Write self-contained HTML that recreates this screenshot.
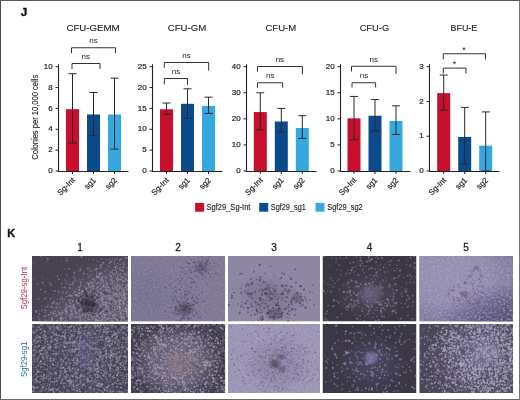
<!DOCTYPE html>
<html><head><meta charset="utf-8"><style>
html,body{margin:0;padding:0;background:#fff;}
#wrap{position:relative;width:520px;height:400px;overflow:hidden;background:#fff;}
#bord{position:absolute;left:0;top:0;width:518px;height:398px;border-style:solid;border-width:1px;border-color:#585858 #747474 #6a6a6a #4c4c4c;}
.t{position:absolute;}
svg{position:absolute;left:0;top:0;}
text{font-family:"Liberation Sans", sans-serif;}
</style></head><body><div id="wrap">
<svg width="520" height="400" viewBox="0 0 520 400" style="position:absolute;left:0;top:0"><defs><radialGradient id="g1"><stop offset="0" stop-color="#5a5568" stop-opacity="1"/><stop offset="0.6" stop-color="#5a5568" stop-opacity="0.9"/><stop offset="1" stop-color="#5a5568" stop-opacity="0"/></radialGradient><filter id="b2" x="-20%" y="-20%" width="140%" height="140%"><feGaussianBlur stdDeviation="0.4"/></filter><radialGradient id="g3"><stop offset="0" stop-color="#2c2834" stop-opacity="0.6"/><stop offset="0.5" stop-color="#2c2834" stop-opacity="0.45"/><stop offset="1" stop-color="#2c2834" stop-opacity="0"/></radialGradient><clipPath id="c4"><rect x="32" y="256" width="96" height="65.5"/></clipPath><radialGradient id="g5"><stop offset="0" stop-color="#726c8c" stop-opacity="0.5"/><stop offset="0.5" stop-color="#726c8c" stop-opacity="0.4"/><stop offset="1" stop-color="#726c8c" stop-opacity="0"/></radialGradient><filter id="f6" x="131" y="256" width="94.25" height="65.5" filterUnits="userSpaceOnUse" color-interpolation-filters="sRGB"><feTurbulence type="fractalNoise" baseFrequency="0.450" numOctaves="2" seed="5"/><feColorMatrix type="matrix" values="0 0 0 0 0.565 0 0 0 0 0.541 0 0 0 0 0.659 2.0 0 0 0 -0.9"/><feGaussianBlur stdDeviation="0.5"/></filter><radialGradient id="g7"><stop offset="0" stop-color="#3a3442" stop-opacity="0.6"/><stop offset="0.5" stop-color="#3a3442" stop-opacity="0.4"/><stop offset="1" stop-color="#3a3442" stop-opacity="0"/></radialGradient><radialGradient id="g8"><stop offset="0" stop-color="#4a4458" stop-opacity="0.35"/><stop offset="0.5" stop-color="#4a4458" stop-opacity="0.3"/><stop offset="1" stop-color="#4a4458" stop-opacity="0"/></radialGradient><clipPath id="c9"><rect x="131" y="256" width="94.25" height="65.5"/></clipPath><filter id="f10" x="228" y="256" width="92" height="65.5" filterUnits="userSpaceOnUse" color-interpolation-filters="sRGB"><feTurbulence type="fractalNoise" baseFrequency="0.560" numOctaves="2" seed="71"/><feColorMatrix type="matrix" values="0 0 0 0 0.620 0 0 0 0 0.596 0 0 0 0 0.706 1.6 0 0 0 -0.8"/><feGaussianBlur stdDeviation="0.35"/></filter><radialGradient id="g11"><stop offset="0" stop-color="#7c7490" stop-opacity="0.8"/><stop offset="0.5" stop-color="#7c7490" stop-opacity="0.6"/><stop offset="1" stop-color="#7c7490" stop-opacity="0"/></radialGradient><filter id="b12" x="-20%" y="-20%" width="140%" height="140%"><feGaussianBlur stdDeviation="0.45"/></filter><radialGradient id="g13"><stop offset="0" stop-color="#4a4254" stop-opacity="0.5"/><stop offset="0.5" stop-color="#4a4254" stop-opacity="0.4"/><stop offset="1" stop-color="#4a4254" stop-opacity="0"/></radialGradient><radialGradient id="g14"><stop offset="0" stop-color="#4a4254" stop-opacity="0.45"/><stop offset="0.5" stop-color="#4a4254" stop-opacity="0.4"/><stop offset="1" stop-color="#4a4254" stop-opacity="0"/></radialGradient><clipPath id="c15"><rect x="228" y="256" width="92" height="65.5"/></clipPath><radialGradient id="g16"><stop offset="0" stop-color="#4a4556" stop-opacity="0.95"/><stop offset="0.5" stop-color="#4a4556" stop-opacity="0.65"/><stop offset="1" stop-color="#4a4556" stop-opacity="0"/></radialGradient><radialGradient id="g17"><stop offset="0" stop-color="#6e6480" stop-opacity="0.8"/><stop offset="0.5" stop-color="#6e6480" stop-opacity="0.6"/><stop offset="1" stop-color="#6e6480" stop-opacity="0"/></radialGradient><clipPath id="c18"><rect x="322.5" y="256" width="94.0" height="65.5"/></clipPath><radialGradient id="g19"><stop offset="0" stop-color="#9892b2" stop-opacity="1"/><stop offset="0.5" stop-color="#9892b2" stop-opacity="0.85"/><stop offset="1" stop-color="#9892b2" stop-opacity="0"/></radialGradient><radialGradient id="g20"><stop offset="0" stop-color="#4e486e" stop-opacity="0.9"/><stop offset="0.45" stop-color="#4e486e" stop-opacity="0.65"/><stop offset="1" stop-color="#4e486e" stop-opacity="0"/></radialGradient><filter id="f21" x="419.25" y="256" width="93.75" height="65.5" filterUnits="userSpaceOnUse" color-interpolation-filters="sRGB"><feTurbulence type="fractalNoise" baseFrequency="0.455" numOctaves="2" seed="11"/><feColorMatrix type="matrix" values="0 0 0 0 0.667 0 0 0 0 0.643 0 0 0 0 0.776 2.2 0 0 0 -1.0"/><feGaussianBlur stdDeviation="0.5"/></filter><radialGradient id="g22"><stop offset="0" stop-color="#4a3a48" stop-opacity="0.35"/><stop offset="0.5" stop-color="#4a3a48" stop-opacity="0.3"/><stop offset="1" stop-color="#4a3a48" stop-opacity="0"/></radialGradient><radialGradient id="g23"><stop offset="0" stop-color="#4a3a48" stop-opacity="0.25"/><stop offset="0.5" stop-color="#4a3a48" stop-opacity="0.2"/><stop offset="1" stop-color="#4a3a48" stop-opacity="0"/></radialGradient><clipPath id="c24"><rect x="419.25" y="256" width="93.75" height="65.5"/></clipPath><radialGradient id="g25"><stop offset="0" stop-color="#4a4658" stop-opacity="0.8"/><stop offset="0.5" stop-color="#4a4658" stop-opacity="0.6"/><stop offset="1" stop-color="#4a4658" stop-opacity="0"/></radialGradient><filter id="f26" x="32" y="324" width="96" height="69" filterUnits="userSpaceOnUse" color-interpolation-filters="sRGB"><feTurbulence type="fractalNoise" baseFrequency="0.450" numOctaves="2" seed="13"/><feColorMatrix type="matrix" values="0 0 0 0 0.431 0 0 0 0 0.416 0 0 0 0 0.502 2.0 0 0 0 -0.8"/><feGaussianBlur stdDeviation="0.6"/></filter><radialGradient id="g27"><stop offset="0" stop-color="#6a68a4" stop-opacity="0.3"/><stop offset="0.5" stop-color="#6a68a4" stop-opacity="0.25"/><stop offset="1" stop-color="#6a68a4" stop-opacity="0"/></radialGradient><clipPath id="c28"><rect x="32" y="324" width="96" height="69"/></clipPath><radialGradient id="g29"><stop offset="0" stop-color="#6c6478" stop-opacity="0.95"/><stop offset="0.55" stop-color="#6c6478" stop-opacity="0.85"/><stop offset="1" stop-color="#6c6478" stop-opacity="0"/></radialGradient><filter id="f30" x="131" y="324" width="94.25" height="69" filterUnits="userSpaceOnUse" color-interpolation-filters="sRGB"><feTurbulence type="fractalNoise" baseFrequency="0.450" numOctaves="2" seed="15"/><feColorMatrix type="matrix" values="0 0 0 0 0.431 0 0 0 0 0.408 0 0 0 0 0.502 2.0 0 0 0 -0.8"/><feGaussianBlur stdDeviation="0.6"/></filter><radialGradient id="g31"><stop offset="0" stop-color="#86707a" stop-opacity="0.55"/><stop offset="0.5" stop-color="#86707a" stop-opacity="0.45"/><stop offset="1" stop-color="#86707a" stop-opacity="0"/></radialGradient><clipPath id="c32"><rect x="131" y="324" width="94.25" height="69"/></clipPath><filter id="f33" x="228" y="324" width="92" height="69" filterUnits="userSpaceOnUse" color-interpolation-filters="sRGB"><feTurbulence type="fractalNoise" baseFrequency="0.450" numOctaves="2" seed="27"/><feColorMatrix type="matrix" values="0 0 0 0 0.690 0 0 0 0 0.659 0 0 0 0 0.784 1.8 0 0 0 -0.8"/><feGaussianBlur stdDeviation="0.5"/></filter><radialGradient id="g34"><stop offset="0" stop-color="#8a82a2" stop-opacity="0.7"/><stop offset="0.5" stop-color="#8a82a2" stop-opacity="0.5"/><stop offset="1" stop-color="#8a82a2" stop-opacity="0"/></radialGradient><radialGradient id="g35"><stop offset="0" stop-color="#3e3440" stop-opacity="0.6"/><stop offset="0.5" stop-color="#3e3440" stop-opacity="0.45"/><stop offset="1" stop-color="#3e3440" stop-opacity="0"/></radialGradient><radialGradient id="g36"><stop offset="0" stop-color="#3e3440" stop-opacity="0.45"/><stop offset="0.5" stop-color="#3e3440" stop-opacity="0.35"/><stop offset="1" stop-color="#3e3440" stop-opacity="0"/></radialGradient><radialGradient id="g37"><stop offset="0" stop-color="#3e3440" stop-opacity="0.4"/><stop offset="0.5" stop-color="#3e3440" stop-opacity="0.3"/><stop offset="1" stop-color="#3e3440" stop-opacity="0"/></radialGradient><clipPath id="c38"><rect x="228" y="324" width="92" height="69"/></clipPath><radialGradient id="g39"><stop offset="0" stop-color="#4a4660" stop-opacity="0.95"/><stop offset="0.5" stop-color="#4a4660" stop-opacity="0.65"/><stop offset="1" stop-color="#4a4660" stop-opacity="0"/></radialGradient><radialGradient id="g40"><stop offset="0" stop-color="#8684b8" stop-opacity="0.75"/><stop offset="0.55" stop-color="#8684b8" stop-opacity="0.55"/><stop offset="1" stop-color="#8684b8" stop-opacity="0"/></radialGradient><clipPath id="c41"><rect x="322.5" y="324" width="94.0" height="69"/></clipPath><radialGradient id="g42"><stop offset="0" stop-color="#5e5874" stop-opacity="0.95"/><stop offset="0.5" stop-color="#5e5874" stop-opacity="0.8"/><stop offset="1" stop-color="#5e5874" stop-opacity="0"/></radialGradient><radialGradient id="g43"><stop offset="0" stop-color="#a09ac0" stop-opacity="0.4"/><stop offset="0.5" stop-color="#a09ac0" stop-opacity="0.3"/><stop offset="1" stop-color="#a09ac0" stop-opacity="0"/></radialGradient><clipPath id="c44"><rect x="419.25" y="324" width="93.75" height="69"/></clipPath></defs><g clip-path="url(#c4)"><rect x="32" y="256" width="96" height="65.5" fill="#474350"/><ellipse cx="104" cy="318" rx="88" ry="56" fill="url(#g1)" transform="rotate(-38 104 318)"/><g fill="none" stroke="#9c96ae" stroke-linecap="round" filter="url(#b2)"><path d="M67.1 276.3h0M87.7 296.1h0M121.7 320.9h0M64.9 315.0h0M106.3 301.2h0M117.4 320.1h0M60.0 307.2h0M69.9 317.2h0M107.6 284.4h0M113.4 304.4h0M92.2 302.6h0M96.4 316.8h0M76.9 315.6h0M102.4 286.9h0M119.1 292.4h0M126.0 298.1h0M111.6 300.8h0M70.2 318.1h0M94.7 305.6h0M103.2 316.8h0M122.1 278.6h0M89.3 295.0h0M63.5 312.8h0M106.3 318.2h0M63.4 310.2h0M116.2 305.0h0M80.4 285.2h0M117.0 293.7h0M74.0 286.3h0M93.8 303.5h0M71.8 297.0h0M45.3 309.4h0M73.7 300.5h0M53.3 294.5h0M80.8 306.6h0M114.0 313.7h0M91.7 280.9h0M71.1 295.0h0M114.6 289.4h0M108.8 292.6h0M104.4 290.0h0M89.5 318.6h0M101.3 307.2h0M101.2 274.0h0M105.2 282.1h0M85.0 311.6h0M86.0 304.3h0M101.7 272.2h0M105.7 298.5h0M122.7 298.8h0M126.7 294.2h0M110.8 310.9h0M126.3 267.6h0M108.2 309.9h0M79.1 309.8h0M96.4 319.6h0M99.3 305.8h0M72.8 290.1h0M50.1 311.0h0M100.3 307.7h0M101.4 292.2h0M112.8 310.2h0M53.2 300.7h0M75.5 306.3h0M98.5 296.5h0M101.4 308.6h0M85.9 296.5h0M101.9 262.7h0M114.5 320.2h0M38.6 319.3h0M106.4 316.5h0M109.5 303.4h0M107.1 321.5h0M105.1 315.2h0M72.9 307.6h0M114.4 293.5h0M96.1 305.2h0M114.8 296.6h0M87.9 306.1h0M101.8 290.7h0M121.1 284.4h0M64.1 306.0h0M114.7 315.3h0M100.0 289.5h0M112.5 314.7h0M87.5 303.9h0M64.8 321.1h0M53.2 311.8h0M54.1 315.8h0M124.2 261.7h0M114.8 299.2h0M61.4 274.9h0M89.5 310.1h0M61.4 315.7h0M55.0 313.8h0M109.2 292.9h0M102.2 291.2h0M115.2 302.5h0M97.8 314.9h0M93.1 316.3h0M78.1 282.2h0M77.0 265.4h0M81.1 315.9h0M113.3 313.2h0M47.4 320.8h0M96.3 265.4h0M110.5 303.9h0M114.7 274.1h0M118.1 297.1h0M125.2 309.2h0M104.0 312.3h0M105.0 298.1h0M105.9 284.2h0M101.6 301.7h0M93.5 306.7h0M79.8 318.4h0M74.9 271.1h0M126.7 280.0h0M70.2 305.6h0M117.4 296.3h0M103.6 281.8h0M84.6 304.3h0M75.1 314.3h0M88.0 292.0h0M96.5 314.4h0M121.0 292.5h0M124.3 309.2h0M109.1 297.9h0M119.4 296.5h0M91.6 306.6h0M123.2 273.6h0M94.3 306.0h0M105.2 313.9h0M88.9 276.7h0M87.0 314.2h0M62.1 311.9h0M90.8 316.1h0M40.7 256.5h0M107.2 309.6h0M88.0 302.1h0M108.5 298.7h0" stroke-width="1.17" stroke-opacity="0.38"/><path d="M111.7 299.9h0M113.9 285.0h0M90.6 312.9h0M94.0 270.6h0M55.9 307.5h0M109.4 296.2h0M61.6 283.0h0M76.7 311.0h0M108.8 308.6h0M36.6 312.6h0M109.0 263.2h0M114.7 283.6h0M122.2 301.7h0M105.7 309.4h0M107.3 305.8h0M116.7 319.0h0M109.3 292.2h0M86.2 289.6h0M81.9 265.6h0M98.0 308.8h0M101.4 297.7h0M112.9 285.8h0M78.0 313.1h0M91.3 286.4h0M86.8 287.9h0M56.7 305.0h0M46.9 261.7h0M111.3 291.5h0M50.2 314.4h0M117.4 314.3h0M64.8 286.6h0M119.2 304.7h0M119.6 268.6h0M78.4 271.2h0M115.6 315.6h0M122.7 284.4h0M97.4 303.3h0M90.1 295.6h0M85.3 321.3h0M94.4 314.9h0M113.6 310.8h0M93.0 308.4h0M74.4 316.5h0M103.8 309.0h0M91.3 320.0h0M61.2 292.5h0M108.5 287.6h0M117.4 313.7h0M113.9 294.6h0M121.7 299.3h0M70.9 313.6h0M104.9 277.9h0M71.3 311.4h0M110.0 304.0h0M101.3 300.4h0M119.5 260.1h0M48.9 317.8h0M67.3 321.2h0M58.5 292.7h0M84.6 307.9h0M46.6 315.8h0M103.4 310.6h0M116.3 286.7h0M103.2 262.3h0M119.3 309.3h0M99.0 273.3h0M76.5 310.9h0M102.6 303.7h0M106.3 285.6h0M111.5 304.2h0M58.1 315.0h0M87.1 297.7h0M105.3 320.7h0M60.6 309.8h0M116.2 314.8h0M105.0 276.9h0M79.8 293.9h0M124.4 298.1h0M43.5 283.4h0M114.6 263.4h0M41.5 257.2h0M97.4 276.6h0M67.2 284.5h0M100.1 283.4h0M72.9 288.0h0M114.4 307.8h0M107.6 297.4h0M76.2 289.1h0M73.0 277.5h0M106.1 304.3h0M70.1 306.5h0M122.4 276.3h0M95.5 302.2h0M73.8 316.9h0M118.3 313.8h0M110.3 299.2h0M74.6 284.3h0M79.6 279.7h0M103.1 293.9h0M114.8 285.6h0M100.9 266.4h0M120.9 295.6h0M60.4 312.6h0M109.0 274.4h0M39.7 320.5h0M124.6 278.4h0M126.3 306.8h0M57.8 304.7h0M79.6 314.6h0M113.8 280.4h0M124.7 266.3h0M88.0 314.4h0M82.3 301.0h0M124.1 294.9h0M55.5 311.7h0M70.8 319.5h0M85.6 308.1h0M93.5 285.4h0M105.9 286.9h0M122.7 300.4h0M74.7 313.5h0M96.5 294.9h0M84.0 308.9h0M48.0 279.0h0M115.7 300.7h0M95.7 320.5h0M108.2 284.9h0M69.4 303.3h0M74.6 279.8h0M99.2 300.9h0M105.2 298.7h0M52.6 319.7h0M57.4 303.6h0M120.3 295.0h0M112.0 315.1h0M86.1 299.2h0M96.8 302.4h0M122.5 308.7h0M72.2 315.0h0M118.8 302.7h0M76.0 313.6h0M124.8 307.6h0M60.2 315.1h0M87.5 288.4h0M92.6 299.7h0M61.7 298.2h0M45.0 286.6h0M110.3 293.1h0M119.6 317.2h0M123.5 304.2h0M82.5 301.4h0M106.3 289.4h0M119.2 294.3h0M83.5 297.4h0M79.2 310.0h0M53.5 313.5h0M109.2 289.6h0M107.6 297.5h0" stroke-width="1.17" stroke-opacity="0.53"/><path d="M67.1 291.7h0M112.9 284.0h0M126.5 287.1h0M41.6 305.6h0M103.6 286.8h0M58.8 313.1h0M81.8 307.5h0M116.7 286.5h0M114.5 273.6h0M113.9 294.9h0M81.6 291.6h0M120.6 317.5h0M81.0 256.6h0M127.9 310.8h0M127.4 308.2h0M95.0 306.7h0M87.7 313.2h0M111.5 313.4h0M122.8 293.9h0M84.5 298.7h0M96.7 312.8h0M100.2 292.7h0M69.1 287.7h0M82.4 318.1h0M111.6 298.0h0M122.2 297.8h0M61.5 321.1h0M55.3 304.0h0M73.6 301.0h0M100.2 312.6h0M105.6 287.0h0M69.8 294.3h0M62.7 302.1h0M94.8 296.4h0M92.5 302.2h0M85.2 298.7h0M112.2 298.7h0M122.2 277.9h0M92.9 309.3h0M122.7 284.9h0M80.6 317.0h0M124.4 317.7h0M70.9 299.6h0M51.5 319.0h0M98.0 311.2h0M127.0 287.2h0M126.2 312.7h0M77.7 303.3h0M95.8 293.4h0M42.5 321.4h0M117.6 268.5h0M93.6 287.9h0M99.6 274.8h0M61.4 261.5h0M89.5 270.3h0M59.6 318.1h0M73.9 309.3h0M73.7 282.1h0M115.8 316.5h0M126.7 304.3h0M69.8 299.9h0M78.2 316.7h0M91.5 277.0h0M124.8 291.3h0M127.5 268.1h0M81.9 315.9h0M84.6 302.3h0M111.3 313.5h0M94.2 296.7h0M101.8 312.9h0M127.2 306.3h0M48.9 307.1h0M65.3 317.5h0M121.3 304.7h0M62.4 287.4h0M109.3 299.0h0M118.9 279.9h0M100.7 279.7h0M71.9 295.6h0M93.3 299.0h0M89.3 312.6h0M97.3 269.1h0M119.2 285.9h0M124.7 307.9h0M126.9 289.8h0M61.4 313.9h0M115.3 302.9h0M120.2 279.4h0M80.4 284.6h0M83.2 298.7h0M94.2 313.5h0M126.7 294.6h0M84.7 307.3h0M102.8 309.5h0M116.5 278.7h0M96.4 300.9h0M71.9 316.5h0M124.6 318.0h0M112.4 286.9h0M87.3 274.3h0M105.9 311.2h0M122.9 289.1h0M77.1 300.8h0M92.4 312.8h0M98.3 320.7h0M78.4 290.0h0M65.8 318.5h0M118.2 275.7h0M117.8 263.6h0M75.0 307.2h0M106.8 259.7h0M97.2 313.9h0M119.8 307.3h0M107.6 297.2h0M120.5 273.6h0M90.8 301.7h0M123.9 313.6h0M46.2 310.7h0M120.0 300.8h0M60.3 313.5h0M45.7 320.6h0M114.8 314.9h0M116.1 288.8h0M114.4 310.4h0M75.5 317.6h0M79.0 298.4h0M107.4 319.5h0M121.6 287.8h0M103.6 308.0h0M117.6 281.1h0M105.8 319.3h0M67.6 311.0h0M117.7 276.1h0M127.1 287.7h0M107.5 291.4h0M84.6 303.7h0M106.0 321.4h0M111.0 312.9h0M106.8 318.3h0M113.1 312.5h0M63.1 291.2h0M114.6 299.4h0M106.9 282.8h0M67.0 258.1h0M99.5 317.7h0M94.8 308.3h0M125.9 289.1h0M92.2 274.6h0M114.6 299.9h0M104.9 317.2h0M70.0 308.1h0M81.6 319.8h0M69.8 314.8h0M119.5 283.9h0M127.6 314.1h0M88.3 291.3h0M108.7 309.8h0M72.3 282.4h0" stroke-width="1.17" stroke-opacity="0.68"/><path d="M91.4 291.4h0M67.7 313.5h0M103.7 286.1h0M44.6 307.3h0M105.0 304.7h0M107.3 306.9h0M119.2 321.4h0M96.2 268.4h0M80.7 297.7h0M99.4 299.6h0M87.2 310.5h0M102.9 279.6h0M116.1 266.0h0M104.0 305.1h0M121.8 284.9h0M65.9 303.3h0M118.8 290.4h0M96.9 294.9h0M122.5 288.0h0M53.7 312.1h0M106.4 274.0h0M114.6 264.4h0M57.4 299.0h0M73.5 284.2h0M80.0 307.9h0M85.3 310.0h0M110.6 281.8h0M122.2 290.1h0M107.5 289.5h0M106.5 303.8h0M99.9 299.5h0M82.8 279.2h0M110.2 313.3h0M124.9 298.6h0M119.2 294.5h0M123.1 313.5h0M66.5 312.1h0M126.9 314.8h0M93.9 288.5h0M86.7 318.2h0M124.8 277.2h0M116.2 306.3h0M106.8 312.2h0M88.6 283.5h0M80.9 305.6h0M96.7 300.6h0M81.5 310.2h0M111.1 320.6h0M118.1 297.0h0M127.2 315.1h0M33.1 279.8h0M117.8 308.1h0M76.2 313.9h0M116.5 287.5h0M127.3 316.4h0M34.0 318.1h0M117.5 297.4h0M80.0 311.0h0M101.3 298.3h0M123.6 291.1h0M88.3 310.5h0M88.8 259.7h0M104.0 313.5h0M97.5 291.8h0M103.1 313.8h0M88.0 287.3h0M98.4 316.3h0M124.9 294.3h0M85.2 297.5h0M88.0 307.8h0M79.1 307.8h0M96.5 305.1h0M54.1 275.8h0M68.1 315.9h0M125.3 299.0h0M101.5 321.4h0M67.1 280.9h0M87.1 291.5h0M86.7 310.4h0M88.4 298.6h0M93.9 301.9h0M88.1 321.5h0M61.8 315.0h0M105.6 276.0h0M90.8 298.5h0M97.2 290.2h0M121.4 311.1h0M102.1 299.9h0M46.0 297.8h0M57.7 320.3h0M122.1 281.1h0M107.3 269.6h0M99.5 301.0h0M79.7 269.9h0M45.3 319.3h0M99.6 307.0h0M114.4 300.8h0M72.2 319.9h0M52.5 312.3h0M96.0 313.1h0M51.7 290.4h0M116.2 312.8h0M127.3 297.9h0M104.5 319.8h0M91.5 308.1h0M119.0 298.9h0M122.9 257.8h0M111.5 279.2h0M97.6 320.6h0M97.2 302.0h0M102.5 313.7h0M89.5 305.3h0M110.1 317.2h0M65.2 269.2h0M115.0 310.5h0M110.1 284.1h0M116.5 294.8h0M107.9 296.1h0M42.9 277.3h0M114.4 302.4h0M115.3 300.5h0M125.9 320.6h0M115.9 311.4h0M121.4 292.1h0M53.7 309.9h0M70.6 306.8h0M91.3 311.6h0M81.9 315.7h0M101.9 283.8h0M94.7 282.4h0M105.4 296.0h0M103.2 294.5h0M86.3 282.9h0M59.7 306.6h0M74.2 295.1h0M103.3 290.7h0M106.2 302.7h0M106.4 314.5h0M61.8 317.2h0M70.5 314.7h0M76.8 293.1h0M33.4 263.0h0M103.0 310.5h0M124.0 280.9h0M98.4 292.7h0M83.0 279.6h0M89.7 284.4h0M110.1 301.9h0M81.8 291.7h0M49.4 319.5h0M86.4 282.5h0M89.3 299.4h0M73.2 293.5h0M86.4 316.0h0" stroke-width="1.50" stroke-opacity="0.38"/><path d="M74.4 281.9h0M70.2 305.7h0M80.6 281.8h0M80.6 309.8h0M50.4 312.4h0M103.5 276.1h0M95.5 290.3h0M117.1 289.5h0M76.8 320.9h0M121.5 317.7h0M125.4 258.0h0M77.8 298.6h0M122.4 303.2h0M95.3 307.5h0M122.7 267.4h0M93.7 317.2h0M110.9 280.1h0M122.6 290.7h0M90.8 282.6h0M90.1 303.4h0M105.6 277.5h0M119.0 288.9h0M86.6 297.7h0M123.8 301.6h0M79.9 305.4h0M52.3 303.8h0M120.5 274.9h0M38.9 310.4h0M117.2 281.8h0M101.7 315.9h0M91.1 271.6h0M113.0 306.4h0M125.7 284.4h0M88.8 268.3h0M120.1 267.2h0M69.5 321.5h0M72.9 306.1h0M125.1 298.8h0M76.7 307.5h0M121.1 316.2h0M120.6 305.9h0M100.5 306.6h0M117.6 266.6h0M89.6 282.2h0M112.6 315.6h0M97.9 299.5h0M74.0 276.0h0M119.6 260.0h0M106.2 309.8h0M120.3 308.9h0M100.8 297.7h0M52.3 314.0h0M121.7 288.2h0M90.0 306.7h0M121.3 270.4h0M65.7 282.8h0M124.5 311.2h0M83.8 314.8h0M116.7 271.5h0M60.9 317.5h0M96.6 271.9h0M111.6 279.9h0M118.9 296.0h0M124.8 274.8h0M106.2 309.0h0M67.2 274.5h0M102.2 264.8h0M127.6 280.9h0M122.9 303.6h0M95.3 280.2h0M84.2 305.8h0M39.1 298.7h0M88.4 292.7h0M98.2 308.4h0M101.3 258.7h0M94.2 310.8h0M109.7 279.7h0M95.8 307.4h0M102.8 299.6h0M101.7 293.2h0M122.4 304.0h0M118.4 321.0h0M85.6 313.1h0M87.7 296.0h0M105.8 287.8h0M48.0 305.1h0M98.7 291.8h0M96.1 299.1h0M74.5 317.4h0M66.3 306.9h0M97.9 310.9h0M114.8 301.4h0M62.8 298.8h0M127.8 276.7h0M106.1 302.2h0M107.4 276.8h0M56.5 308.0h0M92.1 283.2h0M112.5 321.5h0M54.4 314.7h0M126.6 306.2h0M124.4 303.8h0M69.5 284.8h0M115.9 292.5h0M112.3 258.7h0M96.7 274.0h0M112.0 297.4h0M85.3 316.6h0M107.5 305.5h0M92.1 278.9h0M37.6 284.1h0M102.3 279.0h0M54.9 313.6h0M90.5 309.7h0M99.1 305.1h0M98.7 278.2h0M37.6 299.2h0M100.0 285.8h0M115.8 301.7h0M106.1 307.6h0M96.0 318.9h0M98.0 295.5h0M35.4 310.4h0M45.3 312.5h0M119.3 308.5h0M120.7 310.2h0M77.7 315.0h0M106.6 284.9h0M78.8 293.4h0M68.8 299.7h0M117.6 300.3h0M109.8 316.0h0M85.3 286.8h0M108.1 318.9h0M94.6 297.7h0M67.6 307.1h0M116.1 269.1h0M90.0 275.3h0M116.4 296.5h0M91.6 283.3h0M102.6 281.6h0M86.1 301.6h0M119.9 274.8h0M52.8 317.2h0M115.4 274.4h0M89.8 310.4h0M108.9 308.6h0M72.1 301.3h0M102.2 282.3h0M104.4 309.4h0M43.8 316.6h0M112.2 282.9h0M80.1 320.3h0M92.5 319.4h0M83.5 299.4h0M116.6 309.1h0M98.2 286.6h0M101.4 308.3h0M121.5 321.2h0M97.7 261.4h0M114.7 306.7h0M95.6 298.7h0M127.4 308.5h0M95.8 307.5h0M90.4 315.5h0M92.6 318.3h0M123.7 303.2h0M80.5 281.4h0M124.9 304.0h0M80.2 318.3h0M79.7 290.7h0M89.0 284.3h0M95.9 299.5h0M110.7 276.8h0M121.8 298.1h0M51.5 312.1h0M84.0 301.6h0M106.1 314.5h0M67.1 313.2h0M117.6 308.7h0M61.2 319.2h0M113.2 293.1h0M94.8 292.4h0M122.8 310.8h0M77.8 317.7h0" stroke-width="1.50" stroke-opacity="0.53"/><path d="M112.8 303.7h0M80.8 270.2h0M68.4 296.0h0M126.1 316.0h0M100.0 283.2h0M107.3 284.6h0M103.3 281.0h0M97.9 317.3h0M119.3 308.0h0M123.5 301.7h0M127.8 320.8h0M120.7 293.6h0M81.1 319.8h0M115.1 293.8h0M127.8 311.6h0M73.5 305.6h0M79.6 321.0h0M100.4 294.1h0M121.0 279.4h0M109.4 310.5h0M76.8 316.6h0M76.0 300.1h0M103.6 305.1h0M74.9 308.6h0M123.6 314.8h0M102.0 287.9h0M115.1 318.2h0M110.1 276.5h0M105.8 307.0h0M112.0 278.1h0M55.5 311.0h0M120.9 321.1h0M74.9 278.1h0M79.6 289.3h0M117.6 305.9h0M111.7 261.7h0M72.4 308.6h0M90.1 292.0h0M119.1 279.0h0M72.1 312.0h0M110.5 289.6h0M119.7 306.8h0M53.0 313.6h0M122.4 271.1h0M85.0 313.6h0M121.2 299.8h0M127.9 316.9h0M98.2 282.5h0M54.0 302.1h0M40.6 289.6h0M93.9 294.8h0M88.8 283.7h0M97.6 287.0h0M124.4 281.8h0M86.2 310.2h0M51.7 320.7h0M125.3 308.2h0M93.9 301.6h0M119.7 304.2h0M116.6 272.6h0M117.1 311.6h0M86.4 290.0h0M58.7 314.2h0M84.1 300.9h0M92.2 286.4h0M94.7 301.8h0M125.8 309.9h0M125.3 287.5h0M127.1 312.7h0M57.2 307.6h0M112.7 320.4h0M54.2 301.5h0M88.9 293.4h0M76.5 280.3h0M80.2 268.3h0M97.4 283.1h0M93.1 317.1h0M80.7 294.4h0M112.2 308.4h0M44.8 310.3h0M83.3 294.4h0M105.0 271.0h0M111.8 283.8h0M107.7 295.4h0M100.1 299.0h0M121.5 318.9h0M106.0 305.1h0M126.7 311.8h0M82.7 301.0h0M96.2 284.0h0M95.1 316.3h0M85.1 317.5h0M110.1 313.9h0M72.7 300.8h0M56.6 315.1h0M127.5 305.4h0M42.1 282.2h0M45.0 315.9h0M121.3 320.3h0M87.5 318.4h0M58.6 291.2h0M88.3 277.2h0M117.7 316.1h0M125.4 296.6h0M124.3 295.3h0M101.6 273.4h0M56.6 320.8h0M95.0 301.6h0M89.0 287.0h0M115.8 304.1h0M100.4 273.0h0M112.9 298.4h0M123.6 300.2h0M118.5 279.9h0M113.2 315.5h0M106.2 306.3h0M120.3 293.4h0M112.5 306.1h0M72.6 284.2h0M100.4 283.5h0M102.5 319.8h0M101.8 277.2h0M112.3 311.5h0M65.5 313.0h0M123.8 302.0h0M108.0 308.1h0M57.6 276.2h0M119.1 302.9h0M101.9 317.3h0M91.8 315.7h0M101.3 267.1h0M83.5 306.4h0M103.6 314.2h0M105.7 315.1h0M113.1 318.4h0M107.1 283.8h0M88.3 303.7h0M93.9 286.3h0M83.9 300.7h0M39.4 314.0h0M126.2 304.4h0M117.9 274.3h0" stroke-width="1.50" stroke-opacity="0.68"/><path d="M84.7 305.2h0M88.2 305.1h0M101.3 280.5h0M107.0 300.3h0M75.1 310.5h0M115.4 270.1h0M112.6 299.6h0M99.4 292.3h0M92.7 310.7h0M80.7 319.3h0M59.7 303.5h0M80.3 310.5h0M69.7 318.5h0M100.2 295.4h0M112.8 270.0h0M62.7 318.2h0M99.5 295.5h0M96.8 316.5h0M99.3 304.0h0M108.3 306.3h0M112.8 293.7h0M81.2 315.0h0M99.7 295.7h0M87.8 282.7h0M115.8 284.4h0M76.4 317.4h0M117.4 288.0h0M76.5 300.8h0M121.9 293.8h0M90.8 300.1h0M67.4 320.9h0M88.3 304.6h0M116.7 289.6h0M105.0 286.9h0M39.7 318.8h0M123.4 318.3h0M127.8 315.4h0M92.1 313.7h0M113.0 274.4h0M105.7 307.5h0M104.4 295.3h0M106.3 298.9h0M119.3 300.6h0M110.5 300.5h0M124.9 300.1h0M65.5 309.0h0M78.9 313.5h0M115.4 277.3h0M121.6 311.2h0M121.4 300.2h0M106.4 278.3h0M113.9 281.7h0M83.5 295.8h0M64.6 309.2h0M80.6 321.1h0M118.7 295.0h0M69.2 301.5h0M70.5 310.0h0M99.1 273.8h0M95.8 269.4h0M121.9 307.7h0M70.6 284.5h0M114.2 310.1h0M107.8 290.5h0M66.0 311.6h0M112.9 297.2h0M103.9 294.9h0M114.6 306.5h0M51.4 307.1h0M93.3 314.7h0M99.6 309.2h0M100.0 268.4h0M107.8 313.1h0M64.4 299.5h0M108.5 319.0h0M58.1 311.5h0M103.6 284.0h0M97.3 315.5h0M114.4 313.6h0M90.8 291.5h0M49.6 282.7h0M62.9 293.0h0M57.8 321.5h0M71.1 318.0h0M123.5 262.9h0M102.7 319.9h0M114.5 261.3h0M104.7 321.1h0M106.1 288.7h0M70.5 316.7h0M123.4 317.1h0M110.8 261.8h0M96.8 314.8h0M80.9 320.8h0M93.3 259.5h0M96.3 306.8h0M110.3 274.8h0M62.0 297.1h0M125.7 310.8h0M119.7 301.6h0M106.0 302.1h0M108.3 266.1h0M83.3 304.8h0M109.2 312.1h0M78.1 311.1h0M91.4 289.3h0M114.8 293.9h0M78.5 311.1h0M54.0 307.8h0M61.4 283.9h0M122.7 291.1h0M80.9 282.9h0M98.6 302.3h0M105.6 280.6h0M127.3 293.5h0M87.8 287.4h0M97.1 288.6h0M60.7 319.9h0M93.1 299.3h0M64.6 280.0h0M125.2 298.6h0M69.7 302.3h0M93.1 284.4h0M114.9 259.1h0M100.4 295.0h0M80.8 286.2h0M109.4 307.1h0M72.0 306.8h0M110.4 301.9h0M75.1 291.5h0M102.9 300.3h0M71.5 308.5h0M117.1 258.7h0M119.6 307.9h0M87.4 268.5h0M113.9 288.5h0M119.9 301.2h0M97.3 321.0h0M78.8 290.2h0M66.3 315.1h0M126.1 294.3h0M109.5 291.7h0M98.9 304.0h0M124.1 319.5h0M66.1 296.8h0M95.6 297.6h0M113.8 299.7h0M104.4 285.5h0M124.9 297.4h0M92.3 309.8h0M66.3 315.6h0M117.4 281.3h0M71.0 303.6h0" stroke-width="1.83" stroke-opacity="0.38"/><path d="M119.3 291.8h0M123.1 267.5h0M111.1 276.0h0M90.8 287.7h0M102.0 295.0h0M66.7 312.0h0M85.9 288.4h0M91.7 295.1h0M123.6 317.1h0M66.3 310.6h0M66.5 293.1h0M97.7 290.2h0M113.5 318.4h0M127.1 302.1h0M47.2 306.8h0M91.5 303.6h0M70.0 315.5h0M71.7 296.2h0M125.1 280.4h0M107.5 315.3h0M127.2 301.5h0M94.6 318.6h0M122.7 297.2h0M69.1 268.7h0M38.2 316.9h0M71.2 311.6h0M112.9 316.5h0M79.5 318.3h0M93.3 288.7h0M45.3 291.8h0M101.0 305.4h0M45.1 298.7h0M113.9 317.1h0M85.1 315.1h0M59.2 312.8h0M96.2 268.7h0M111.3 320.2h0M82.6 290.8h0M60.4 299.1h0M109.9 263.1h0M79.1 292.8h0M104.6 315.0h0M75.4 295.0h0M91.7 282.7h0M96.8 308.2h0M56.8 303.1h0M123.4 306.0h0M92.2 286.0h0M79.6 309.1h0M81.4 297.2h0M88.9 311.8h0M104.0 309.3h0M103.4 263.0h0M108.7 318.0h0M42.1 310.5h0M110.1 271.9h0M116.8 319.8h0M119.1 301.4h0M77.0 297.0h0M93.0 308.5h0M108.6 298.4h0M100.5 265.0h0M71.7 310.6h0M126.1 307.8h0M101.0 293.6h0M104.2 296.1h0M63.1 318.6h0M101.7 292.9h0M112.7 295.7h0M102.7 297.1h0M119.2 292.8h0M122.0 317.9h0M88.9 317.0h0M124.0 293.7h0M106.1 321.5h0M123.9 321.3h0M117.2 296.0h0M59.0 279.2h0M79.2 315.6h0M115.4 266.9h0M127.8 272.2h0M100.4 313.6h0M123.8 289.5h0M96.4 294.5h0M112.3 281.1h0M100.4 305.9h0M124.1 293.5h0M84.6 305.8h0M79.7 316.1h0M94.5 309.8h0M73.9 306.3h0M71.1 295.9h0M65.1 287.7h0M97.2 287.5h0M103.1 299.0h0M50.5 298.5h0M118.1 306.2h0M120.5 312.6h0M127.1 285.8h0M80.6 304.0h0M106.1 282.9h0M116.8 307.2h0M124.4 311.2h0M88.8 285.9h0M117.0 294.2h0M101.6 301.4h0M115.2 287.5h0M104.7 317.5h0M89.8 300.5h0M80.8 300.0h0M85.1 320.3h0M83.0 310.0h0M112.9 301.3h0M78.0 309.5h0M125.4 311.3h0M66.4 310.5h0M109.5 300.2h0M94.5 308.6h0M119.5 297.3h0M78.4 302.0h0M117.6 277.0h0M124.8 273.9h0M111.0 318.4h0M51.9 319.3h0M113.4 274.6h0M81.9 303.4h0M99.2 318.4h0M121.2 277.1h0M94.2 314.5h0M74.5 292.0h0M107.7 287.3h0M109.8 259.8h0M90.0 311.4h0M113.4 291.5h0M89.6 319.4h0M101.4 280.6h0M70.2 288.1h0M81.4 292.5h0M122.9 316.5h0M102.5 277.3h0M122.5 277.5h0M93.8 281.6h0M69.8 295.6h0M56.0 316.5h0M98.3 320.4h0M120.2 264.3h0M124.0 289.1h0M90.1 304.3h0M109.1 298.4h0" stroke-width="1.83" stroke-opacity="0.53"/><path d="M124.7 293.1h0M89.1 319.3h0M76.6 301.9h0M105.9 296.4h0M74.2 307.6h0M121.4 295.7h0M126.4 290.3h0M123.0 295.5h0M50.9 284.5h0M120.5 300.4h0M66.4 309.0h0M115.4 303.9h0M103.5 311.0h0M104.3 314.8h0M96.6 276.5h0M72.6 314.5h0M117.0 301.7h0M115.0 314.6h0M102.3 297.0h0M83.0 314.6h0M123.6 291.5h0M105.9 290.2h0M85.2 305.4h0M105.4 304.5h0M127.0 320.8h0M109.4 295.7h0M127.8 283.9h0M108.9 290.7h0M113.1 288.3h0M47.8 258.9h0M126.8 310.0h0M119.4 304.9h0M103.1 286.0h0M120.2 315.2h0M89.3 319.5h0M102.9 317.9h0M115.8 319.1h0M119.9 308.4h0M62.5 312.4h0M105.3 304.4h0M94.0 278.9h0M120.3 286.4h0M104.4 302.5h0M52.8 302.9h0M126.3 311.3h0M126.6 257.9h0M48.9 314.9h0M124.7 294.6h0M81.2 308.4h0M74.4 273.0h0M116.2 293.5h0M127.7 280.6h0M119.7 307.0h0M67.9 306.6h0M95.3 319.2h0M90.6 300.8h0M66.7 260.5h0M124.4 293.7h0M88.4 284.8h0M101.7 315.5h0M109.9 302.6h0M61.0 319.7h0M96.9 277.4h0M100.3 289.0h0M101.7 278.7h0M110.3 299.1h0M77.2 294.8h0M103.0 302.5h0M115.0 295.5h0M65.3 320.8h0M127.0 289.0h0M83.7 273.6h0M121.1 316.6h0M119.9 288.1h0M75.0 310.6h0M110.1 312.4h0M116.9 302.2h0M75.3 312.8h0M118.2 286.1h0M95.6 320.7h0M120.4 312.7h0M110.7 296.1h0M115.4 267.3h0M127.7 309.0h0M51.6 306.6h0M99.7 313.6h0M88.5 315.0h0M97.3 299.9h0M119.2 311.1h0M101.2 319.9h0M96.9 315.7h0M78.7 295.9h0M82.7 291.2h0M65.8 304.4h0M96.1 301.9h0M122.8 310.0h0M78.8 287.2h0M123.3 297.7h0M85.9 321.0h0M120.9 259.4h0M100.3 321.0h0M76.4 295.1h0M112.0 272.3h0M89.2 306.4h0M123.8 303.2h0M122.8 270.6h0M121.4 313.6h0M51.8 318.1h0M117.2 279.0h0M99.8 273.9h0M96.8 320.0h0M85.6 295.2h0M81.9 318.4h0M119.3 299.6h0M123.8 264.5h0M89.1 315.8h0M36.2 311.5h0M81.6 256.8h0M76.4 312.2h0M71.5 313.8h0M120.1 302.8h0M91.4 317.4h0M81.2 303.7h0M122.8 280.9h0M104.9 317.5h0M99.3 276.9h0M102.4 299.2h0M61.0 317.9h0M99.2 321.4h0M125.8 299.1h0M127.2 285.7h0M117.5 320.2h0M81.7 293.6h0M90.4 307.9h0M102.2 304.5h0M65.3 311.0h0M115.6 304.4h0M69.9 306.3h0M87.2 307.9h0M117.2 290.3h0M126.2 279.2h0M88.9 306.3h0M110.5 297.8h0M102.2 303.3h0M114.9 309.4h0M108.5 287.5h0M117.6 284.6h0M109.3 314.3h0M126.5 274.7h0M120.2 269.6h0M108.0 319.3h0M107.6 303.5h0M73.7 304.7h0M54.8 291.0h0M83.0 319.7h0M98.3 276.3h0M126.7 313.7h0M78.7 303.6h0M79.5 311.6h0M101.9 312.0h0" stroke-width="1.83" stroke-opacity="0.68"/></g><ellipse cx="89" cy="305" rx="11" ry="9" fill="url(#g3)"/><g fill="none" stroke="#2a2632" stroke-linecap="round" filter="url(#b2)"><path d="M93.7 314.8h0M89.2 316.2h0M98.7 294.1h0M89.2 311.6h0M89.9 307.6h0M95.0 303.3h0M87.9 297.0h0M84.4 305.0h0M74.0 312.6h0M84.4 294.3h0M101.4 309.4h0M92.4 303.9h0M76.7 310.2h0" stroke-width="1.40" stroke-opacity="0.37"/><path d="M83.0 295.0h0M83.7 300.8h0M88.5 299.8h0M90.5 303.7h0M92.2 308.8h0M93.7 305.0h0M84.3 309.5h0M87.3 296.2h0M90.6 303.3h0M84.8 303.5h0M78.1 301.2h0" stroke-width="1.40" stroke-opacity="0.50"/><path d="M94.4 303.5h0M79.2 308.6h0M79.0 301.3h0M81.4 304.4h0M92.2 311.6h0M75.8 306.4h0M78.1 300.4h0M91.3 311.5h0M84.9 306.7h0M78.7 302.0h0M91.1 305.7h0" stroke-width="1.40" stroke-opacity="0.63"/><path d="M78.1 315.1h0M96.3 308.1h0M86.2 292.9h0M94.0 315.1h0M82.5 305.0h0M99.4 294.5h0M87.4 295.9h0M81.5 293.8h0M75.0 300.5h0M83.9 295.1h0M78.6 297.6h0M77.8 311.2h0M83.0 300.6h0M103.1 309.1h0M82.5 300.4h0M84.3 298.7h0M98.6 311.8h0M81.6 302.3h0M92.2 297.9h0" stroke-width="1.80" stroke-opacity="0.37"/><path d="M93.5 299.3h0M90.0 300.5h0M78.9 307.4h0M85.6 304.7h0M95.0 291.2h0M94.3 295.7h0M87.8 286.6h0M97.6 307.5h0M77.6 308.2h0" stroke-width="1.80" stroke-opacity="0.50"/><path d="M97.3 304.6h0M86.3 294.8h0M95.0 300.2h0M78.6 298.7h0M106.3 311.2h0M100.4 309.6h0M92.7 304.7h0M89.1 303.1h0" stroke-width="1.80" stroke-opacity="0.63"/><path d="M87.1 308.0h0M84.9 312.0h0M94.3 305.8h0M100.9 308.8h0M84.7 309.3h0M94.3 309.9h0M88.9 304.7h0M81.7 303.8h0M92.8 306.4h0M91.6 309.0h0M92.0 309.8h0M91.1 296.6h0M104.7 293.4h0M86.1 303.6h0M87.3 304.1h0M83.7 298.9h0M74.6 284.3h0M76.4 298.1h0M90.0 317.8h0" stroke-width="2.20" stroke-opacity="0.37"/><path d="M93.1 302.0h0M89.9 302.0h0M92.4 297.2h0M82.2 300.6h0M93.0 314.5h0M81.9 319.1h0M82.7 302.3h0M86.1 303.5h0M87.9 309.5h0M92.0 295.5h0M90.1 310.7h0M92.6 296.6h0M90.5 302.6h0M88.6 310.6h0M86.6 297.4h0M97.2 298.3h0" stroke-width="2.20" stroke-opacity="0.50"/><path d="M81.2 296.8h0M88.8 305.1h0M85.1 291.4h0M81.0 303.1h0M83.9 310.7h0M86.1 302.2h0M85.6 299.9h0M111.4 301.7h0M93.6 305.2h0M86.9 311.0h0M92.2 302.5h0M84.4 311.0h0M86.8 301.7h0M86.1 295.4h0" stroke-width="2.20" stroke-opacity="0.63"/></g></g><g clip-path="url(#c9)"><rect x="131" y="256" width="94.25" height="65.5" fill="#7f7896"/><ellipse cx="146" cy="296" rx="30" ry="40" fill="url(#g5)"/><g><rect x="131" y="256" width="94.25" height="65.5" filter="url(#f6)"/></g><g fill="none" stroke="#3e3848" stroke-linecap="round" filter="url(#b2)"><path d="M173.6 303.5h0M188.0 270.5h0M173.8 319.2h0M188.7 318.2h0M163.2 318.4h0M192.6 297.7h0M203.3 291.8h0M185.3 285.1h0M200.7 273.9h0M177.0 283.4h0M201.9 262.3h0M165.5 305.1h0M181.7 293.4h0M218.6 275.9h0M206.4 264.2h0M167.2 318.2h0M197.1 267.9h0M203.9 272.2h0M185.3 281.0h0M177.1 305.0h0M201.1 265.9h0M187.7 306.0h0M184.9 316.0h0M187.3 273.5h0M213.2 277.9h0M176.3 308.1h0M202.7 261.4h0M214.3 263.3h0M207.2 270.6h0M178.9 296.4h0M180.6 267.9h0M195.6 296.1h0M189.7 305.3h0M191.3 293.1h0M196.3 302.4h0M171.7 274.0h0M184.6 310.0h0M175.5 301.3h0M205.2 308.5h0M183.7 318.8h0M190.5 312.5h0M179.5 282.8h0M176.0 310.1h0M180.7 302.1h0M209.8 275.0h0M178.9 303.6h0M174.9 307.6h0M199.7 279.0h0M184.3 288.7h0" stroke-width="0.97" stroke-opacity="0.28"/><path d="M188.2 256.8h0M194.9 282.6h0M194.1 262.3h0M198.6 256.1h0M179.3 303.7h0M199.9 272.5h0M193.1 296.5h0M175.6 309.2h0M184.0 310.1h0M188.5 305.0h0M205.7 309.6h0M194.1 301.2h0M180.1 297.3h0M180.4 267.1h0M174.6 299.9h0M197.8 314.5h0M173.1 266.2h0M198.1 262.2h0M187.7 306.4h0M191.8 273.9h0M177.6 320.2h0M180.4 260.2h0M183.5 306.9h0M186.8 315.4h0M174.6 316.3h0M191.4 259.8h0M210.4 263.2h0M210.6 257.4h0M179.5 314.7h0M184.8 307.8h0M194.5 294.5h0M180.5 281.9h0M185.8 307.8h0M189.9 305.0h0M191.5 288.0h0M179.6 306.6h0M175.9 308.3h0M174.6 313.2h0M205.9 270.8h0M167.9 302.6h0M190.1 274.8h0M173.4 296.1h0M197.5 300.0h0M193.3 262.1h0" stroke-width="0.97" stroke-opacity="0.43"/><path d="M209.5 263.0h0M200.9 269.7h0M184.5 298.3h0M192.5 313.2h0M181.0 320.6h0M182.9 309.8h0M186.3 306.2h0M184.7 313.0h0M180.3 276.2h0M188.3 313.5h0M199.7 271.2h0M206.6 263.6h0M214.1 262.6h0M182.3 284.9h0M164.6 314.9h0M179.1 314.2h0M173.4 300.6h0M221.2 274.7h0M187.8 267.1h0M161.7 301.9h0M165.8 276.4h0M184.6 281.9h0M189.7 270.2h0M218.6 265.3h0M185.5 291.8h0M177.4 301.7h0M186.8 291.0h0M214.5 266.3h0M180.3 293.9h0M209.2 309.7h0M192.7 316.2h0M187.2 316.6h0M182.0 298.6h0M185.4 306.9h0M188.2 294.5h0M180.0 309.6h0M181.3 271.4h0M199.6 265.4h0M185.6 274.6h0M199.8 311.6h0M168.5 316.6h0M188.2 286.5h0M188.4 320.3h0M198.6 299.4h0M206.9 283.7h0" stroke-width="0.97" stroke-opacity="0.57"/><path d="M211.3 269.5h0M191.0 317.3h0M195.1 270.6h0M203.0 257.7h0M206.4 265.7h0M205.9 271.4h0M207.2 262.8h0M163.9 274.1h0M189.2 312.0h0M177.4 279.9h0M181.0 274.8h0M190.4 269.5h0M187.8 319.1h0M194.0 305.8h0M177.8 310.3h0M199.9 264.6h0M206.1 305.5h0M185.8 296.9h0M164.7 285.5h0M164.6 300.6h0M187.3 318.4h0M205.2 258.6h0M185.0 294.7h0M181.7 313.5h0M190.9 287.4h0M197.3 287.1h0M177.0 309.8h0M176.4 315.1h0M176.4 307.5h0M170.9 300.2h0M187.3 262.2h0M176.9 260.0h0M206.9 274.1h0M209.1 269.8h0M171.0 284.6h0M180.8 299.0h0M178.7 313.4h0M178.6 278.4h0M171.4 312.2h0M196.0 302.6h0M175.3 309.3h0M182.2 272.5h0M199.4 317.1h0M176.3 306.9h0M175.3 297.9h0M195.4 265.2h0M173.6 268.7h0M185.1 318.5h0M187.1 300.1h0M188.9 309.0h0M200.1 263.4h0M175.1 296.6h0M185.8 271.8h0M176.2 314.9h0M191.0 309.0h0M199.8 270.4h0" stroke-width="1.30" stroke-opacity="0.28"/><path d="M178.4 314.8h0M177.8 316.3h0M188.4 318.8h0M182.1 278.0h0M197.8 317.7h0M191.7 283.7h0M199.2 260.9h0M188.4 309.0h0M199.8 305.4h0M183.4 305.6h0M217.8 274.0h0M212.3 267.7h0M180.3 305.4h0M205.8 277.1h0M191.8 308.9h0M186.7 294.5h0M201.9 265.5h0M175.4 309.5h0M183.8 303.0h0M197.1 270.0h0M191.9 282.2h0M209.6 263.1h0M180.1 321.1h0M192.9 279.0h0M179.9 319.9h0M187.9 293.3h0M186.2 295.4h0M183.0 318.0h0M191.3 272.2h0M184.4 296.9h0M185.2 294.4h0M176.3 290.5h0M186.8 289.1h0M189.3 312.3h0M175.3 311.9h0M194.8 276.4h0M205.7 262.9h0M186.7 280.2h0M189.1 318.8h0M176.5 320.3h0M185.2 304.9h0M181.1 319.2h0M190.8 298.2h0M200.0 267.4h0M181.2 310.1h0M215.9 264.1h0M187.2 277.0h0M199.2 266.4h0M185.7 260.8h0M207.0 261.4h0M193.1 310.5h0M199.1 295.2h0M185.7 308.4h0M200.8 264.0h0M173.2 300.4h0M183.5 317.0h0M194.8 290.6h0" stroke-width="1.30" stroke-opacity="0.43"/><path d="M186.6 306.7h0M190.8 287.2h0M193.6 262.5h0M196.4 286.7h0M185.6 314.6h0M200.8 272.1h0M193.7 304.5h0M181.1 287.4h0M170.5 275.9h0M200.6 317.0h0M169.8 278.3h0M185.8 273.9h0M182.2 298.1h0M187.2 298.2h0M203.4 269.4h0M176.4 292.3h0M196.7 266.8h0M184.6 294.4h0M184.9 291.5h0M168.2 318.2h0M201.8 274.9h0M210.5 276.5h0M190.0 270.4h0M183.8 302.2h0M205.1 267.8h0M175.8 310.6h0M186.9 307.3h0M173.0 292.9h0M193.5 300.6h0M182.9 305.6h0M176.6 300.1h0M208.2 256.1h0M170.3 308.0h0M188.2 290.1h0M200.1 268.9h0" stroke-width="1.30" stroke-opacity="0.57"/><path d="M174.6 280.5h0M198.3 273.6h0M195.2 267.9h0M184.0 300.0h0M197.4 313.5h0M198.3 270.1h0M196.1 266.6h0M192.2 310.9h0M184.2 316.6h0M194.5 271.1h0M190.5 277.5h0M202.6 262.3h0M181.6 306.3h0M200.0 273.1h0M195.6 268.2h0M160.3 291.7h0M182.0 279.2h0M171.0 296.8h0M176.9 302.1h0M175.3 307.2h0M195.1 311.0h0M189.8 310.7h0M186.6 300.4h0M191.5 259.5h0M181.7 297.3h0M205.5 264.0h0M192.4 310.3h0M181.7 279.3h0M172.5 282.2h0M194.1 302.7h0M200.8 298.5h0M197.4 271.6h0M205.0 268.8h0M201.9 262.5h0M171.6 304.1h0M203.8 270.1h0M206.3 312.3h0M172.2 307.5h0M190.9 306.1h0M190.3 282.4h0M203.8 267.1h0" stroke-width="1.63" stroke-opacity="0.28"/><path d="M175.3 291.1h0M195.1 271.2h0M203.1 267.1h0M173.2 288.4h0M193.7 304.8h0M182.3 301.9h0M165.8 287.9h0M182.7 306.9h0M178.6 302.2h0M215.9 273.3h0M184.5 309.3h0M196.9 302.4h0M185.8 308.0h0M195.5 261.9h0M177.2 310.1h0M185.2 310.4h0M191.1 278.2h0M181.9 313.3h0M169.8 285.3h0M175.5 286.9h0M201.4 256.7h0M192.9 266.5h0M182.9 315.3h0M178.2 311.6h0M190.4 305.8h0M191.5 272.2h0M190.2 302.7h0M175.6 306.3h0M179.9 304.6h0M202.8 278.7h0M181.0 306.1h0M202.6 259.7h0M200.0 266.6h0M173.1 298.9h0M207.0 264.3h0M208.2 260.3h0M201.8 269.2h0M197.4 276.4h0M192.5 294.9h0M178.5 283.7h0M194.0 282.0h0M175.1 296.1h0M188.3 299.2h0M194.2 301.1h0M196.5 312.9h0M183.3 310.7h0M187.4 285.1h0M187.8 303.3h0M180.3 281.3h0" stroke-width="1.63" stroke-opacity="0.43"/><path d="M181.5 317.7h0M176.0 313.7h0M201.2 265.4h0M182.4 267.9h0M192.0 298.4h0M188.9 313.8h0M184.1 318.1h0M178.5 301.6h0M198.2 269.9h0M192.2 304.9h0M189.4 263.8h0M186.9 306.6h0M206.7 260.9h0M203.0 275.0h0M188.6 303.7h0M194.4 315.2h0M197.1 303.4h0M187.3 303.6h0M188.4 317.7h0M190.5 318.8h0M201.3 292.5h0M173.4 313.0h0M208.3 273.3h0M188.2 263.2h0M185.6 302.0h0M196.7 297.8h0M184.2 315.8h0M204.2 301.3h0M183.5 309.9h0M208.0 259.2h0M189.9 309.3h0M205.7 271.6h0M189.3 291.8h0M185.1 305.7h0M165.2 311.5h0M202.0 273.4h0M175.7 308.3h0M202.4 269.1h0M176.8 298.5h0M182.5 318.8h0M179.6 289.9h0M194.6 282.5h0M176.9 313.8h0M192.4 297.5h0" stroke-width="1.63" stroke-opacity="0.57"/></g><ellipse cx="185" cy="309" rx="10" ry="8" fill="url(#g7)"/><ellipse cx="202" cy="267" rx="9" ry="7" fill="url(#g8)"/></g><g clip-path="url(#c15)"><rect x="228" y="256" width="92" height="65.5" fill="#8c86a2"/><g><rect x="228" y="256" width="92" height="65.5" filter="url(#f10)"/></g><ellipse cx="268" cy="296" rx="36" ry="22" fill="url(#g11)" transform="rotate(15 268 296)"/><g fill="none" stroke="#463f52" stroke-linecap="round" filter="url(#b12)"><path d="M262.3 291.9h0M259.3 259.4h0M267.9 313.1h0M261.2 284.0h0M269.5 305.3h0M255.7 292.5h0M274.3 297.2h0M262.4 277.7h0M252.1 302.9h0M283.1 298.7h0M264.8 289.9h0M274.6 276.9h0M289.1 276.5h0M274.6 298.0h0M270.8 304.6h0M257.4 283.8h0M258.0 290.2h0M288.2 307.9h0M293.3 298.4h0M255.5 294.7h0M278.4 296.1h0M257.7 302.9h0M261.3 288.8h0M295.5 302.7h0M271.1 279.8h0M279.8 278.8h0M305.1 294.1h0M269.0 293.3h0M253.4 272.9h0M251.4 296.0h0M294.4 290.2h0M298.8 306.4h0M283.0 291.4h0M305.7 296.6h0M260.5 317.6h0" stroke-width="1.27" stroke-opacity="0.38"/><path d="M270.9 287.7h0M272.1 298.8h0M274.2 290.8h0M278.9 316.7h0M273.2 285.5h0M276.2 294.2h0M273.9 302.5h0M262.1 289.0h0M283.2 292.0h0M248.6 294.2h0M294.7 293.4h0M275.1 289.1h0M272.6 307.9h0M286.7 291.6h0M262.0 310.5h0M260.2 292.1h0M276.1 317.6h0M259.3 281.0h0M300.9 296.5h0M312.6 292.4h0M283.6 286.0h0M248.7 297.2h0M271.8 309.8h0M264.8 300.1h0" stroke-width="1.27" stroke-opacity="0.55"/><path d="M275.4 296.5h0M252.4 310.3h0M274.8 314.1h0M256.7 309.7h0M262.2 312.7h0M278.6 297.9h0M261.1 306.1h0M251.3 283.9h0M304.5 297.5h0M266.9 292.3h0M250.3 304.0h0M290.3 286.5h0M259.7 290.0h0M248.1 293.4h0M267.8 289.1h0M276.8 309.4h0M284.4 308.8h0M260.1 285.5h0M263.5 282.4h0M242.3 302.2h0M260.4 297.2h0M268.9 317.3h0M254.7 301.0h0M259.7 308.4h0M252.1 284.4h0M241.9 304.2h0M249.3 284.2h0M265.5 292.5h0M263.6 281.2h0M257.8 298.3h0M276.5 309.3h0M262.3 299.6h0M265.6 293.0h0M300.8 293.4h0M265.9 282.7h0M263.5 319.1h0M247.7 294.3h0" stroke-width="1.27" stroke-opacity="0.72"/><path d="M233.3 289.2h0M266.5 305.6h0M263.5 299.8h0M264.1 282.1h0M307.4 301.6h0M279.1 307.4h0M256.1 305.7h0M293.0 297.7h0M285.8 297.0h0M251.4 304.7h0M266.1 290.3h0M289.2 318.1h0M267.6 293.6h0M287.0 285.7h0M266.6 307.2h0M240.8 288.3h0M287.0 317.2h0M273.5 289.6h0M274.1 274.3h0M266.8 297.4h0M248.4 289.6h0M281.6 318.9h0M288.5 293.2h0M273.0 292.3h0M275.2 294.5h0M303.3 300.5h0M271.0 293.8h0M273.5 295.2h0M257.1 313.5h0M249.4 294.1h0M282.8 286.2h0M254.9 314.3h0M304.9 307.9h0M280.9 310.1h0M289.6 315.0h0M258.3 320.6h0M281.9 297.7h0" stroke-width="1.80" stroke-opacity="0.38"/><path d="M256.4 309.5h0M282.2 273.2h0M303.3 304.5h0M256.5 279.4h0M291.7 300.3h0M294.4 298.4h0M314.1 304.9h0M270.4 266.6h0M269.1 284.7h0M243.5 307.4h0M265.0 273.3h0M250.9 315.2h0M292.1 304.3h0M273.2 308.2h0M300.4 297.1h0M276.9 305.4h0M253.2 282.2h0M259.2 312.4h0M312.5 285.2h0M262.1 295.0h0M278.3 311.0h0M260.4 312.5h0M275.6 289.9h0M290.2 290.4h0M281.9 299.8h0M254.1 271.5h0M288.9 289.7h0M262.2 294.0h0M277.6 294.5h0M237.9 304.0h0M262.9 302.6h0M261.8 302.7h0M268.9 313.5h0M242.1 273.3h0M310.2 299.6h0M269.8 300.7h0M279.1 309.8h0M275.9 285.8h0" stroke-width="1.80" stroke-opacity="0.55"/><path d="M270.2 294.2h0M268.8 296.1h0M273.5 310.7h0M262.3 316.2h0M288.1 320.9h0M294.7 314.8h0M291.7 299.6h0M288.9 304.6h0M267.0 285.8h0M277.8 303.0h0M289.2 311.1h0M265.1 289.0h0M287.3 297.2h0M282.4 312.4h0M273.8 319.1h0M273.8 316.3h0M273.6 318.2h0M292.7 308.8h0M272.2 298.4h0M232.0 295.5h0M281.3 277.9h0M267.4 312.9h0M270.5 311.0h0M234.4 292.6h0M246.2 286.0h0M251.1 279.1h0M282.1 293.8h0M278.5 305.4h0M284.3 274.0h0M260.1 277.2h0" stroke-width="1.80" stroke-opacity="0.72"/><path d="M278.5 313.9h0M286.4 308.5h0M281.7 314.5h0M277.2 299.2h0M260.3 318.6h0M305.9 299.5h0M260.3 305.5h0M297.0 301.5h0M247.9 312.5h0M247.3 300.8h0M273.2 288.6h0M285.7 301.6h0M266.9 294.4h0M254.6 314.7h0M280.9 294.1h0M248.9 285.7h0M250.7 295.8h0M275.1 316.8h0M309.9 291.9h0M288.3 306.7h0M273.0 294.2h0M267.5 300.5h0M268.0 310.0h0M275.5 313.5h0M269.4 310.8h0M279.1 308.9h0" stroke-width="2.33" stroke-opacity="0.38"/><path d="M271.6 299.5h0M251.9 283.4h0M295.0 269.3h0M295.4 309.4h0M281.4 313.8h0M264.3 308.2h0M268.2 306.6h0M271.2 292.8h0M285.8 285.6h0M259.4 265.2h0M265.5 303.3h0M275.6 304.4h0M239.7 313.0h0M252.5 298.4h0M275.2 291.5h0M240.2 274.1h0M285.8 285.7h0M241.1 292.9h0M245.5 291.6h0M285.0 309.1h0M255.6 302.3h0M260.1 264.9h0M278.7 317.4h0M241.1 306.3h0M301.4 305.7h0M296.1 282.3h0M291.6 309.4h0M305.8 307.5h0M254.8 291.7h0M251.9 306.5h0M266.0 288.9h0M300.3 286.4h0M291.7 286.9h0M247.1 284.1h0M267.6 313.5h0" stroke-width="2.33" stroke-opacity="0.55"/><path d="M281.9 285.7h0M250.5 293.6h0M282.7 294.0h0M260.0 279.9h0M269.6 290.9h0M285.4 289.6h0M276.7 305.2h0M257.1 311.0h0M273.4 316.8h0M231.8 297.7h0M262.8 318.3h0M260.2 298.3h0M300.0 302.9h0M270.4 317.1h0M300.8 286.1h0M260.4 300.2h0M304.0 289.6h0M291.0 278.9h0M245.6 303.4h0M268.4 312.6h0M252.1 293.3h0M258.4 304.5h0M247.9 293.3h0M288.1 291.6h0M270.3 298.0h0M281.2 316.6h0M262.9 290.4h0M268.5 288.2h0M297.3 293.0h0M266.4 294.2h0M279.6 308.4h0M291.1 302.5h0M261.5 319.9h0M302.1 300.3h0M265.1 293.6h0M287.7 313.6h0M248.0 308.0h0M228.7 304.8h0" stroke-width="2.33" stroke-opacity="0.72"/></g><ellipse cx="275" cy="314" rx="10" ry="7" fill="url(#g13)"/><ellipse cx="297" cy="298" rx="7" ry="6" fill="url(#g14)"/></g><g clip-path="url(#c18)"><rect x="322.5" y="256" width="94.0" height="65.5" fill="#3b3743"/><ellipse cx="370.5" cy="294" rx="36" ry="28" fill="url(#g16)"/><g fill="none" stroke="#aaa4bc" stroke-linecap="round" filter="url(#b12)"><path d="M350.6 279.7h0M373.7 276.5h0M381.4 288.7h0M343.8 259.5h0M380.7 284.1h0M346.4 274.2h0M337.8 269.2h0M368.7 317.3h0M400.2 270.7h0M395.1 309.7h0M347.7 309.2h0M344.2 284.1h0M405.4 281.7h0M377.6 268.1h0M378.3 300.5h0M401.5 287.2h0M413.2 262.8h0M375.7 269.6h0M381.3 281.5h0M333.8 305.4h0M364.5 293.5h0M366.7 305.7h0M383.7 281.2h0M389.6 285.0h0M356.6 265.4h0M362.6 284.8h0M385.9 272.0h0M343.3 285.9h0M415.0 276.4h0M401.1 307.3h0M374.9 281.1h0M346.9 286.0h0M402.9 307.8h0M377.4 270.9h0M375.1 295.7h0M369.4 275.3h0M353.4 273.0h0M401.2 294.9h0M343.3 297.9h0M380.6 304.3h0M375.3 298.9h0M387.9 268.1h0M371.6 275.1h0M400.2 292.6h0M363.5 308.3h0M400.0 275.5h0M345.5 276.0h0M363.9 313.0h0M368.7 288.7h0M396.1 292.9h0M373.9 278.6h0M363.4 271.6h0M398.3 319.3h0M415.3 277.8h0M405.8 289.3h0M341.6 301.8h0M336.6 270.3h0" stroke-width="1.40" stroke-opacity="0.23"/><path d="M351.6 309.6h0M355.5 314.5h0M374.1 288.6h0M332.7 280.8h0M360.2 319.8h0M341.3 274.7h0M374.9 257.8h0M377.4 310.2h0M375.4 279.4h0M381.1 308.4h0M383.3 301.2h0M360.4 291.6h0M369.9 296.0h0M358.6 297.7h0M325.0 293.0h0M357.2 261.8h0M330.0 265.9h0M390.9 286.0h0M378.2 277.1h0M381.6 301.2h0M366.7 295.4h0M411.0 279.2h0M385.9 278.1h0M386.6 281.3h0M389.0 284.1h0M416.1 318.3h0M376.8 307.7h0M358.7 292.7h0M353.2 291.6h0M380.9 268.9h0M368.1 288.2h0M347.3 273.3h0M358.7 306.7h0M350.9 270.8h0M349.3 304.5h0M340.4 275.1h0M381.0 313.5h0M362.0 308.0h0M338.9 279.0h0" stroke-width="1.40" stroke-opacity="0.34"/><path d="M376.9 256.6h0M358.2 296.1h0M331.6 258.2h0M371.3 278.9h0M402.4 296.5h0M368.6 258.5h0M408.1 296.2h0M412.8 295.2h0M390.3 296.0h0M366.3 266.2h0M377.1 272.5h0M384.1 305.6h0M392.4 289.0h0M350.7 303.7h0M364.4 304.1h0M380.2 285.8h0M381.2 257.4h0M406.6 283.8h0M325.4 313.7h0M340.8 270.4h0M348.7 307.2h0M392.8 306.0h0M375.5 309.9h0M375.3 299.7h0M345.9 308.2h0M370.2 305.0h0M393.1 290.9h0M327.7 291.5h0M411.6 276.6h0M370.3 309.1h0M397.0 268.4h0M330.0 284.7h0M400.9 303.4h0M343.9 291.8h0M349.1 307.1h0M394.8 305.9h0M394.0 298.0h0M372.7 281.5h0" stroke-width="1.40" stroke-opacity="0.45"/><path d="M381.8 307.6h0M365.1 288.0h0M383.6 294.0h0M379.9 283.1h0M392.3 313.5h0M359.8 259.9h0M339.4 289.3h0M327.2 283.6h0M342.9 283.6h0M385.2 264.1h0M410.6 258.0h0M369.0 313.1h0M406.8 289.2h0M332.2 306.4h0M415.5 269.2h0M364.9 316.2h0M351.6 300.4h0M364.1 265.9h0M351.3 279.9h0M407.6 260.4h0M380.7 311.5h0M337.8 317.2h0M364.1 272.9h0M368.9 288.3h0M351.4 306.9h0M336.4 257.9h0M396.7 302.6h0M344.0 303.9h0M369.5 298.6h0M378.0 265.8h0M322.6 280.5h0M367.1 300.8h0M366.9 313.9h0M379.7 274.2h0M359.9 263.8h0M416.2 272.1h0M347.9 269.9h0M362.4 302.2h0M403.4 277.7h0M372.5 301.8h0M407.3 291.7h0M336.4 262.7h0M404.7 289.0h0M326.9 313.3h0M388.2 271.5h0M396.7 265.2h0" stroke-width="1.80" stroke-opacity="0.23"/><path d="M333.1 286.7h0M382.9 280.2h0M349.4 287.2h0M333.6 305.8h0M385.0 309.7h0M327.4 320.1h0M405.1 303.7h0M340.1 258.0h0M356.4 257.1h0M388.5 261.9h0M368.9 291.1h0M334.0 306.1h0M395.0 310.8h0M365.6 284.7h0M406.6 301.1h0M347.3 309.8h0M402.0 293.3h0M410.1 282.3h0M384.4 272.0h0M407.2 307.0h0M412.4 296.1h0M353.6 300.8h0M389.2 302.1h0M328.2 305.4h0M371.7 300.1h0M354.9 267.2h0M372.0 305.0h0M372.6 317.3h0M375.1 300.3h0M365.8 288.5h0M374.5 275.5h0M336.2 300.6h0M396.0 303.5h0M354.4 303.6h0M375.4 301.2h0M357.1 285.9h0M392.3 311.2h0M377.2 316.4h0M395.1 284.0h0M413.5 282.7h0M325.8 318.3h0" stroke-width="1.80" stroke-opacity="0.34"/><path d="M372.7 282.6h0M387.8 299.5h0M383.4 308.2h0M362.1 296.9h0M331.4 291.7h0M379.7 287.1h0M350.4 290.7h0M378.0 258.4h0M376.6 302.4h0M327.1 311.2h0M367.7 305.8h0M368.2 293.4h0M322.8 281.6h0M394.5 270.7h0M407.5 275.8h0M384.1 316.6h0M383.7 267.4h0M350.1 263.1h0M394.9 278.0h0M362.1 310.9h0M357.5 295.1h0M386.6 306.4h0M362.5 262.9h0M410.0 275.1h0M360.6 283.9h0M378.1 302.2h0M360.1 315.6h0M385.2 303.2h0M390.8 260.8h0M369.2 283.6h0M355.5 305.2h0M393.4 278.6h0M407.6 294.8h0M389.2 286.8h0M357.3 294.2h0M347.6 283.7h0M406.6 299.4h0M396.0 302.9h0M366.3 291.9h0M365.4 297.3h0M360.5 257.6h0M355.9 295.3h0M348.8 282.0h0M381.1 293.2h0M366.6 304.7h0M354.0 293.2h0M367.8 296.4h0M342.0 313.8h0M414.9 263.0h0" stroke-width="1.80" stroke-opacity="0.45"/><path d="M408.6 306.2h0M380.5 264.3h0M365.3 283.6h0M367.4 301.3h0M345.6 273.5h0M389.5 264.8h0M352.9 308.2h0M337.4 280.5h0M376.7 272.1h0M393.9 302.8h0M379.9 269.7h0M374.5 302.8h0M357.7 286.0h0M357.2 287.3h0M376.0 273.2h0M347.4 297.2h0M376.5 288.8h0M387.8 303.8h0M380.7 312.2h0M335.0 283.5h0M370.0 302.6h0M336.4 259.7h0M349.0 303.9h0M355.1 287.1h0M375.2 268.8h0M373.5 313.2h0M367.9 314.0h0M363.5 300.3h0M379.8 302.5h0M387.0 299.0h0M334.2 300.8h0M343.3 291.7h0M399.1 275.8h0M412.4 305.9h0M406.7 264.7h0M404.7 291.0h0M397.8 277.6h0M337.1 317.6h0M389.2 285.0h0M354.6 271.7h0M360.4 293.6h0" stroke-width="2.20" stroke-opacity="0.23"/><path d="M350.8 295.5h0M369.2 283.2h0M406.0 291.7h0M347.2 292.1h0M355.3 281.3h0M371.1 294.8h0M414.2 256.4h0M352.0 305.3h0M393.9 293.6h0M351.8 281.1h0M387.6 299.9h0M401.0 318.7h0M376.6 275.4h0M371.1 259.5h0M395.7 284.5h0M382.3 258.4h0M367.7 302.2h0M339.1 265.0h0M353.5 262.3h0M362.7 269.7h0M382.1 316.2h0M330.8 278.4h0M390.4 306.1h0M353.9 306.4h0M345.2 299.7h0M408.0 315.5h0M371.4 285.7h0M393.3 296.3h0M379.6 289.0h0M346.4 257.7h0M344.2 291.9h0M414.5 267.6h0M369.2 268.9h0M410.4 265.7h0M413.3 301.7h0M357.2 300.0h0M348.3 305.8h0M387.5 305.2h0M354.8 301.5h0M324.6 319.8h0M366.9 290.8h0M350.0 273.3h0M376.1 262.2h0M358.9 286.5h0M349.9 292.8h0M323.8 256.5h0M352.2 267.8h0M376.6 287.0h0M410.7 257.3h0M392.7 299.8h0M412.6 319.1h0" stroke-width="2.20" stroke-opacity="0.34"/><path d="M381.1 304.6h0M371.8 306.8h0M368.9 310.9h0M360.5 265.6h0M396.0 312.8h0M323.7 290.9h0M398.8 260.5h0M333.6 299.8h0M338.6 302.5h0M365.8 284.4h0M357.7 300.8h0M358.4 275.0h0M366.9 261.6h0M381.1 310.7h0M371.9 259.0h0M368.7 256.7h0M357.1 318.7h0M375.7 320.9h0M371.6 267.9h0M368.7 307.3h0M346.5 306.6h0M351.4 299.5h0M409.3 298.6h0M369.5 260.9h0M366.2 277.3h0M356.4 282.7h0M364.3 321.0h0M360.7 260.7h0M372.3 292.3h0M382.3 287.4h0M349.5 291.3h0M351.7 270.1h0M400.1 270.6h0M393.1 310.8h0M396.6 290.2h0M379.4 304.4h0M378.6 320.1h0M358.4 303.0h0" stroke-width="2.20" stroke-opacity="0.45"/></g><ellipse cx="370.5" cy="294" rx="14" ry="12" fill="url(#g17)"/></g><g clip-path="url(#c24)"><rect x="419.25" y="256" width="93.75" height="65.5" fill="#7e789c"/><ellipse cx="451.25" cy="278" rx="70" ry="46" fill="url(#g19)"/><ellipse cx="515.25" cy="326" rx="80" ry="44" fill="url(#g20)"/><g><rect x="419.25" y="256" width="93.75" height="65.5" filter="url(#f21)"/></g><g fill="#5e4656" filter="url(#b2)"><circle cx="446.4" cy="295.8" r="0.68" fill-opacity="0.41"/><circle cx="447.1" cy="293.0" r="0.51" fill-opacity="0.49"/><circle cx="448.5" cy="293.7" r="1.00" fill-opacity="0.36"/><circle cx="450.6" cy="290.6" r="0.82" fill-opacity="0.25"/><circle cx="449.1" cy="289.2" r="0.76" fill-opacity="0.46"/><circle cx="451.8" cy="290.2" r="0.88" fill-opacity="0.41"/><circle cx="453.1" cy="290.3" r="0.93" fill-opacity="0.37"/><circle cx="454.2" cy="286.7" r="0.86" fill-opacity="0.52"/><circle cx="454.3" cy="290.5" r="0.72" fill-opacity="0.53"/><circle cx="458.2" cy="288.1" r="0.57" fill-opacity="0.28"/><circle cx="460.7" cy="287.7" r="0.81" fill-opacity="0.31"/><circle cx="458.9" cy="287.1" r="0.68" fill-opacity="0.40"/><circle cx="458.6" cy="284.8" r="0.84" fill-opacity="0.53"/><circle cx="464.9" cy="282.1" r="0.84" fill-opacity="0.26"/><circle cx="465.6" cy="281.9" r="0.95" fill-opacity="0.40"/><circle cx="464.0" cy="282.9" r="0.92" fill-opacity="0.40"/><circle cx="465.1" cy="283.5" r="0.93" fill-opacity="0.55"/><circle cx="468.1" cy="283.0" r="0.71" fill-opacity="0.25"/><circle cx="465.9" cy="282.6" r="0.94" fill-opacity="0.22"/><circle cx="466.9" cy="278.7" r="0.86" fill-opacity="0.32"/><circle cx="470.8" cy="275.0" r="0.75" fill-opacity="0.55"/><circle cx="468.4" cy="276.9" r="0.80" fill-opacity="0.21"/><circle cx="469.7" cy="276.4" r="0.81" fill-opacity="0.25"/><circle cx="472.8" cy="274.7" r="0.66" fill-opacity="0.54"/><circle cx="472.0" cy="272.2" r="0.73" fill-opacity="0.38"/><circle cx="470.6" cy="270.5" r="0.78" fill-opacity="0.42"/><circle cx="474.1" cy="270.4" r="0.72" fill-opacity="0.45"/><circle cx="473.5" cy="271.2" r="0.99" fill-opacity="0.38"/><circle cx="474.0" cy="268.9" r="0.71" fill-opacity="0.40"/><circle cx="477.4" cy="268.7" r="0.82" fill-opacity="0.22"/><circle cx="475.7" cy="266.9" r="0.84" fill-opacity="0.32"/><circle cx="477.4" cy="265.3" r="0.51" fill-opacity="0.22"/><circle cx="477.6" cy="263.8" r="0.63" fill-opacity="0.36"/><circle cx="478.6" cy="267.7" r="0.68" fill-opacity="0.31"/><circle cx="478.6" cy="271.0" r="0.65" fill-opacity="0.33"/><circle cx="480.3" cy="270.7" r="0.78" fill-opacity="0.46"/><circle cx="480.2" cy="273.3" r="0.90" fill-opacity="0.28"/><circle cx="481.5" cy="275.0" r="0.85" fill-opacity="0.24"/><circle cx="480.7" cy="276.1" r="0.92" fill-opacity="0.35"/><circle cx="481.5" cy="275.8" r="0.67" fill-opacity="0.43"/><circle cx="481.8" cy="276.8" r="0.61" fill-opacity="0.24"/><circle cx="479.5" cy="279.1" r="0.90" fill-opacity="0.49"/><circle cx="480.6" cy="281.7" r="0.90" fill-opacity="0.42"/><circle cx="480.3" cy="280.9" r="0.56" fill-opacity="0.30"/><circle cx="479.8" cy="282.5" r="0.67" fill-opacity="0.35"/><circle cx="478.0" cy="285.7" r="0.96" fill-opacity="0.25"/><circle cx="482.9" cy="286.5" r="0.94" fill-opacity="0.55"/><circle cx="476.7" cy="289.2" r="0.96" fill-opacity="0.28"/><circle cx="480.0" cy="286.6" r="0.83" fill-opacity="0.38"/><circle cx="480.1" cy="292.0" r="0.61" fill-opacity="0.22"/><circle cx="479.7" cy="291.5" r="0.91" fill-opacity="0.22"/><circle cx="482.7" cy="292.3" r="0.96" fill-opacity="0.51"/><circle cx="482.7" cy="293.9" r="0.51" fill-opacity="0.46"/><circle cx="481.1" cy="297.4" r="0.83" fill-opacity="0.38"/><circle cx="477.1" cy="299.4" r="0.81" fill-opacity="0.32"/><circle cx="479.2" cy="301.8" r="0.74" fill-opacity="0.47"/><circle cx="478.0" cy="301.1" r="0.77" fill-opacity="0.49"/><circle cx="479.1" cy="303.8" r="0.96" fill-opacity="0.48"/><circle cx="477.3" cy="302.8" r="0.81" fill-opacity="0.50"/><circle cx="477.0" cy="303.2" r="0.63" fill-opacity="0.38"/><circle cx="473.2" cy="303.4" r="0.89" fill-opacity="0.20"/><circle cx="473.9" cy="302.7" r="0.56" fill-opacity="0.22"/><circle cx="474.6" cy="301.9" r="0.54" fill-opacity="0.38"/><circle cx="470.1" cy="303.3" r="0.68" fill-opacity="0.43"/><circle cx="468.1" cy="301.3" r="0.60" fill-opacity="0.32"/><circle cx="469.3" cy="302.5" r="0.86" fill-opacity="0.33"/><circle cx="467.6" cy="300.8" r="0.69" fill-opacity="0.41"/><circle cx="465.9" cy="298.3" r="0.90" fill-opacity="0.42"/><circle cx="463.2" cy="299.4" r="0.75" fill-opacity="0.45"/><circle cx="461.4" cy="299.0" r="0.73" fill-opacity="0.29"/><circle cx="459.8" cy="297.9" r="0.54" fill-opacity="0.35"/><circle cx="458.0" cy="300.0" r="0.97" fill-opacity="0.33"/><circle cx="461.2" cy="297.5" r="0.63" fill-opacity="0.36"/><circle cx="459.8" cy="301.1" r="0.83" fill-opacity="0.51"/><circle cx="457.1" cy="297.7" r="0.87" fill-opacity="0.40"/><circle cx="456.7" cy="301.1" r="0.50" fill-opacity="0.25"/><circle cx="454.2" cy="298.8" r="0.55" fill-opacity="0.23"/><circle cx="453.6" cy="297.9" r="0.51" fill-opacity="0.49"/><circle cx="453.8" cy="299.6" r="0.84" fill-opacity="0.49"/><circle cx="452.5" cy="296.5" r="0.90" fill-opacity="0.21"/><circle cx="449.8" cy="294.6" r="0.86" fill-opacity="0.24"/><circle cx="448.5" cy="292.2" r="0.53" fill-opacity="0.31"/><circle cx="445.0" cy="293.7" r="0.62" fill-opacity="0.26"/></g><g fill="#5e4656" filter="url(#b2)"><circle cx="459.3" cy="292.6" r="0.70" fill-opacity="0.25"/><circle cx="461.6" cy="293.1" r="0.96" fill-opacity="0.48"/><circle cx="461.7" cy="292.4" r="0.77" fill-opacity="0.30"/><circle cx="463.1" cy="294.3" r="0.61" fill-opacity="0.52"/><circle cx="465.1" cy="292.5" r="0.90" fill-opacity="0.27"/><circle cx="464.6" cy="296.6" r="0.87" fill-opacity="0.50"/><circle cx="466.6" cy="295.9" r="0.80" fill-opacity="0.44"/><circle cx="466.5" cy="297.5" r="0.74" fill-opacity="0.23"/><circle cx="470.5" cy="297.8" r="0.77" fill-opacity="0.31"/></g><g fill="#5e4656" filter="url(#b2)"><circle cx="469.8" cy="276.6" r="0.90" fill-opacity="0.53"/><circle cx="471.4" cy="276.7" r="0.51" fill-opacity="0.36"/><circle cx="473.4" cy="280.3" r="0.95" fill-opacity="0.24"/><circle cx="471.2" cy="282.5" r="0.77" fill-opacity="0.40"/><circle cx="473.2" cy="283.8" r="0.64" fill-opacity="0.52"/><circle cx="472.7" cy="284.4" r="0.90" fill-opacity="0.25"/><circle cx="472.5" cy="286.2" r="0.50" fill-opacity="0.50"/><circle cx="473.5" cy="288.8" r="0.99" fill-opacity="0.51"/><circle cx="472.8" cy="292.3" r="0.77" fill-opacity="0.44"/><circle cx="474.7" cy="293.4" r="0.85" fill-opacity="0.54"/><circle cx="475.0" cy="291.4" r="0.68" fill-opacity="0.26"/><circle cx="474.9" cy="293.7" r="0.65" fill-opacity="0.41"/><circle cx="476.7" cy="294.7" r="0.67" fill-opacity="0.31"/></g><ellipse cx="464.25" cy="294" rx="6" ry="4" fill="url(#g22)"/><ellipse cx="476.25" cy="268" rx="4" ry="3" fill="url(#g23)"/></g><g clip-path="url(#c28)"><rect x="32" y="324" width="96" height="69" fill="#444052"/><ellipse cx="87" cy="359" rx="50" ry="40" fill="url(#g25)"/><g><rect x="32" y="324" width="96" height="69" filter="url(#f26)"/></g><g fill="none" stroke="#a29eb2" stroke-linecap="round" filter="url(#b2)"><path d="M102.1 337.4h0M90.8 367.9h0M33.1 349.9h0M99.0 349.4h0M90.1 382.4h0M63.1 391.8h0M79.2 392.9h0M64.3 358.5h0M70.8 359.5h0M115.4 327.1h0M111.6 392.7h0M98.3 351.1h0M72.7 345.9h0M101.3 351.1h0M103.3 339.7h0M86.8 392.7h0M126.5 359.3h0M80.3 331.3h0M105.4 366.8h0M91.1 390.5h0M101.1 381.8h0M94.9 368.1h0M123.1 378.7h0M47.8 358.4h0M98.7 335.2h0M96.9 325.1h0M106.4 332.1h0M102.0 378.5h0M74.8 388.7h0M70.6 345.6h0M76.6 378.5h0M94.8 359.1h0M97.3 366.5h0M126.1 361.3h0M69.6 340.2h0M116.5 332.9h0M126.2 376.7h0M70.1 382.0h0M105.5 347.1h0M97.9 359.2h0M84.8 331.9h0M51.7 358.5h0M44.1 352.8h0M80.4 385.8h0M124.7 342.6h0M124.0 328.0h0M124.5 367.5h0M102.8 379.6h0M86.6 325.5h0M101.4 352.5h0M49.9 337.8h0M82.1 373.1h0M65.0 383.1h0M125.7 350.8h0M93.4 328.4h0M86.3 365.3h0M87.0 335.0h0M84.3 368.0h0M60.7 391.7h0M121.8 384.5h0M47.6 333.5h0M79.3 378.0h0M51.9 325.7h0M69.2 377.9h0M96.9 363.8h0M102.1 342.5h0M87.4 366.3h0M67.6 375.9h0M122.3 345.0h0M50.3 382.7h0M45.5 390.5h0M89.5 381.5h0M108.5 375.8h0M34.7 374.0h0M76.3 368.5h0M40.2 346.2h0M73.2 357.9h0M53.1 347.6h0M89.9 326.6h0M79.6 349.4h0M85.4 362.2h0M60.0 353.7h0M112.9 352.9h0M104.7 325.6h0M73.2 354.8h0M80.2 387.7h0M96.0 382.7h0M52.1 363.2h0M34.7 361.2h0M83.2 363.8h0M71.1 338.3h0M126.4 355.0h0M77.1 383.4h0M113.5 380.5h0M78.3 342.1h0M36.8 372.7h0M72.2 360.4h0M101.9 357.5h0M47.9 327.4h0M128.0 368.2h0M47.6 349.3h0M60.1 371.1h0M87.7 381.1h0M75.6 390.1h0M120.8 365.1h0M67.3 370.4h0M111.2 351.3h0M103.1 387.4h0M120.1 325.8h0M104.0 384.9h0M46.9 324.7h0M42.2 358.3h0M84.2 327.9h0M75.6 392.5h0M90.8 370.1h0M46.2 364.5h0M59.5 334.6h0M96.2 371.2h0M127.6 383.2h0M85.4 387.9h0M88.2 359.4h0M122.9 332.3h0M126.6 361.6h0M41.1 384.6h0M99.5 381.8h0M93.2 326.7h0M122.6 342.7h0M119.7 353.7h0M70.0 327.2h0M62.4 338.4h0M33.6 377.3h0M65.9 384.5h0M36.2 383.4h0M49.7 386.7h0M107.7 337.7h0M95.5 369.7h0M73.6 351.8h0M48.9 336.9h0M60.2 391.2h0M87.7 350.8h0M63.7 352.5h0M117.8 331.2h0M95.4 340.4h0M94.1 363.7h0M59.9 387.7h0M108.6 330.7h0M63.6 361.9h0M96.9 380.6h0M102.7 336.2h0M56.1 327.7h0M54.3 330.2h0M108.3 342.0h0M77.1 324.9h0M58.7 369.9h0M124.0 328.7h0M32.3 380.1h0M93.3 365.0h0M122.3 326.2h0M96.4 341.2h0M127.7 328.7h0M98.5 340.0h0M74.9 324.8h0M90.2 326.6h0M75.9 376.3h0M77.5 364.4h0M94.0 367.4h0M114.5 342.8h0M83.1 330.8h0M42.3 372.1h0M50.5 348.6h0M39.9 352.1h0M105.7 376.7h0M121.0 347.2h0M97.9 385.8h0" stroke-width="1.18" stroke-opacity="0.38"/><path d="M77.7 358.4h0M50.6 380.6h0M87.7 335.5h0M110.5 350.5h0M49.4 326.3h0M96.6 359.8h0M88.2 384.1h0M113.4 348.0h0M116.7 335.4h0M47.4 356.3h0M97.0 377.3h0M85.6 330.0h0M100.3 338.5h0M37.0 342.8h0M49.0 355.6h0M105.2 365.2h0M72.4 349.9h0M73.2 380.0h0M122.0 327.2h0M105.8 374.5h0M115.9 391.3h0M97.3 339.0h0M123.1 382.7h0M123.9 350.1h0M104.8 343.7h0M114.3 341.5h0M93.9 331.0h0M64.9 354.9h0M97.5 324.4h0M47.5 385.3h0M100.9 360.4h0M115.1 343.5h0M103.0 375.1h0M90.9 326.8h0M68.7 363.1h0M80.7 360.6h0M118.9 357.7h0M86.8 352.7h0M76.1 357.7h0M63.2 345.5h0M121.8 344.3h0M65.1 368.6h0M70.8 349.8h0M68.5 381.1h0M110.6 384.5h0M36.2 350.0h0M40.6 341.7h0M56.4 378.4h0M66.6 371.7h0M102.4 340.1h0M114.5 382.9h0M98.8 337.4h0M64.7 386.8h0M62.5 379.3h0M116.3 374.0h0M61.8 363.0h0M64.3 339.7h0M108.0 358.0h0M92.4 346.9h0M110.5 371.1h0M113.3 354.7h0M38.1 371.6h0M77.3 370.8h0M35.5 336.8h0M80.2 379.8h0M60.9 342.4h0M96.9 388.9h0M126.0 357.8h0M42.4 388.0h0M57.4 363.2h0M76.5 347.8h0M74.4 335.4h0M99.6 371.3h0M83.2 385.3h0M84.5 349.4h0M82.5 384.8h0M116.5 383.1h0M117.1 352.4h0M49.0 375.9h0M95.3 391.9h0M101.0 351.9h0M37.1 342.3h0M43.1 366.7h0M105.2 344.9h0M78.6 378.0h0M108.5 354.4h0M105.9 357.6h0M94.7 352.8h0M76.4 367.1h0M84.4 374.5h0M114.5 347.0h0M35.4 367.6h0M92.1 389.1h0M91.8 379.9h0M124.1 348.2h0M121.0 327.7h0M45.3 357.0h0M73.7 379.6h0M124.1 324.9h0M91.4 330.3h0M39.3 382.3h0M56.4 381.3h0M119.6 343.8h0M40.3 324.2h0M118.3 339.9h0M53.6 365.4h0M88.4 353.6h0M96.3 371.0h0M67.4 368.4h0M114.3 325.1h0M35.0 392.7h0M98.6 376.2h0M94.2 382.3h0M41.4 372.2h0M85.2 376.6h0M72.2 339.6h0M105.3 349.0h0M84.8 337.5h0M127.9 356.0h0M111.1 382.1h0M116.6 356.0h0M56.5 384.7h0M74.9 376.7h0M55.4 356.2h0M126.2 378.9h0M67.2 324.6h0M101.3 347.0h0M85.1 352.8h0M117.7 386.4h0M80.1 336.0h0M124.9 351.1h0M93.2 389.9h0M49.9 361.4h0M72.2 347.9h0M32.9 324.5h0M39.2 327.9h0M92.4 342.7h0M120.3 365.1h0M90.2 387.0h0M44.9 391.3h0M87.3 381.8h0M79.1 330.0h0M126.8 348.4h0M116.9 362.1h0M71.1 381.6h0M62.3 375.9h0M71.0 374.7h0M126.1 325.1h0M44.2 334.3h0M72.2 368.8h0M49.9 324.3h0M44.5 364.5h0M63.5 336.0h0M39.5 355.4h0M44.0 388.5h0M81.5 348.0h0M35.6 358.5h0M106.1 337.9h0M47.7 392.1h0M75.8 373.8h0M119.7 347.4h0M112.8 383.3h0M123.1 360.8h0M125.5 392.9h0M102.1 383.1h0M33.0 364.7h0M40.7 333.4h0M71.5 326.8h0M81.1 374.7h0" stroke-width="1.18" stroke-opacity="0.55"/><path d="M42.8 340.0h0M102.6 383.9h0M107.7 362.8h0M64.9 336.9h0M106.8 353.8h0M65.2 383.2h0M93.1 344.0h0M99.7 386.1h0M95.1 365.5h0M116.6 370.2h0M90.8 375.2h0M96.6 365.4h0M98.5 359.2h0M84.9 393.0h0M119.7 352.2h0M106.3 358.1h0M76.8 330.9h0M93.2 354.2h0M64.0 346.5h0M55.4 353.1h0M36.7 360.0h0M70.8 341.2h0M55.0 334.8h0M116.1 358.5h0M121.3 331.1h0M79.4 340.9h0M58.1 337.2h0M117.5 380.9h0M65.8 340.9h0M85.6 385.8h0M64.2 370.1h0M59.1 348.9h0M106.6 329.1h0M123.7 333.0h0M102.2 361.9h0M112.0 392.0h0M56.8 348.0h0M34.0 332.8h0M72.8 365.0h0M97.3 385.1h0M121.8 350.8h0M42.3 356.6h0M97.0 330.4h0M73.5 330.5h0M82.6 334.8h0M43.9 364.5h0M80.5 377.3h0M52.3 339.8h0M72.5 376.2h0M47.6 369.8h0M82.1 352.8h0M86.9 380.0h0M85.2 330.3h0M100.7 355.6h0M74.4 329.7h0M98.8 368.8h0M96.9 369.2h0M66.9 390.0h0M108.4 364.5h0M110.8 390.1h0M110.1 340.0h0M117.4 343.6h0M50.5 349.1h0M127.1 369.3h0M64.6 370.0h0M92.3 369.9h0M106.7 356.7h0M41.0 364.1h0M98.5 349.6h0M60.3 339.5h0M94.4 363.8h0M117.9 374.1h0M75.1 364.7h0M82.6 383.0h0M111.3 331.5h0M46.9 324.4h0M53.0 388.8h0M65.6 330.1h0M33.2 390.5h0M104.4 388.3h0M70.1 343.3h0M113.0 349.6h0M127.0 350.6h0M53.9 388.1h0M95.9 382.2h0M119.2 330.0h0M78.1 371.0h0M102.0 339.7h0M89.7 377.6h0M87.8 340.3h0M64.4 345.8h0M101.1 326.0h0M61.5 380.8h0M101.4 372.8h0M48.7 349.4h0M94.7 358.2h0M47.1 369.0h0M63.6 392.8h0M105.6 338.8h0M112.0 351.9h0M35.2 387.0h0M122.3 374.6h0M114.8 373.1h0M120.5 367.4h0M97.7 325.5h0M115.5 332.9h0M60.4 329.7h0M38.5 340.1h0M105.1 376.9h0M84.6 341.6h0M79.9 343.6h0M120.0 363.6h0M40.1 325.4h0M106.1 351.0h0M74.6 343.9h0M93.7 365.1h0M36.4 387.8h0M34.2 359.7h0M82.7 341.6h0M93.8 364.8h0M65.5 375.8h0M94.9 337.3h0M120.7 372.4h0M80.8 375.0h0M78.5 356.2h0M51.6 389.8h0M115.6 354.1h0M87.9 361.0h0M50.1 347.6h0M101.1 365.3h0M37.6 341.4h0M121.1 375.3h0M58.9 335.4h0M39.7 355.6h0M85.2 327.5h0M61.9 329.5h0M47.8 383.8h0M122.9 365.8h0M44.3 330.5h0M125.2 351.6h0M87.3 345.2h0M41.9 332.7h0M126.3 346.0h0M44.4 335.3h0M121.7 329.6h0M69.2 347.7h0M121.6 392.3h0M74.2 389.7h0M97.5 363.1h0M37.2 337.3h0M76.7 377.5h0M32.8 354.5h0M61.5 359.5h0M76.3 391.1h0M72.1 371.1h0M74.4 326.8h0M73.4 360.1h0M101.6 385.1h0M104.1 375.5h0M96.6 372.5h0M112.4 359.2h0M42.0 350.3h0M33.1 341.6h0M76.8 385.8h0" stroke-width="1.18" stroke-opacity="0.72"/><path d="M44.0 383.7h0M100.8 355.8h0M36.3 352.2h0M73.1 362.4h0M125.6 341.9h0M45.7 355.3h0M59.1 391.1h0M56.3 328.8h0M88.7 367.4h0M81.0 373.8h0M107.6 344.8h0M55.6 373.6h0M124.5 368.2h0M108.5 327.1h0M99.0 340.8h0M116.4 358.8h0M97.3 371.6h0M97.6 339.2h0M123.3 373.5h0M39.8 352.7h0M102.7 364.5h0M117.6 357.8h0M102.0 369.4h0M76.1 364.5h0M108.9 353.4h0M88.5 387.7h0M99.0 360.9h0M55.7 367.9h0M125.2 374.5h0M79.5 339.7h0M122.9 339.5h0M111.4 365.4h0M74.3 358.7h0M92.6 364.8h0M60.5 360.1h0M108.4 386.8h0M121.1 346.3h0M90.7 348.0h0M126.2 346.4h0M108.5 385.9h0M124.5 367.5h0M70.1 326.5h0M121.4 369.6h0M89.3 345.2h0M61.9 392.4h0M122.8 367.2h0M36.5 380.2h0M113.5 391.3h0M110.6 370.9h0M73.5 383.5h0M32.2 379.8h0M38.8 346.3h0M56.4 333.5h0M49.4 358.7h0M102.9 370.4h0M42.9 326.1h0M79.6 375.9h0M69.8 365.9h0M69.9 366.1h0M87.2 331.1h0M37.5 387.1h0M71.3 354.8h0M88.8 325.7h0M87.3 324.8h0M33.1 361.3h0M91.3 334.5h0M48.1 333.1h0M121.6 349.4h0M75.5 371.1h0M104.7 336.3h0M68.8 366.6h0M74.9 369.6h0M32.1 350.7h0M122.7 375.8h0M53.0 339.8h0M94.9 349.2h0M81.0 341.7h0M113.5 369.8h0M93.3 383.8h0M96.4 352.0h0M43.4 335.2h0M110.4 374.6h0M67.7 335.7h0M92.2 359.4h0M109.6 343.7h0M68.8 358.5h0M115.3 364.6h0M105.3 354.1h0M59.7 324.7h0M93.1 340.1h0M99.9 348.9h0M45.9 387.5h0M110.6 391.5h0M106.3 352.4h0M83.9 376.7h0M40.9 361.2h0M68.9 375.8h0M125.6 340.4h0M120.2 341.8h0M54.4 382.4h0M95.2 360.5h0M90.2 327.3h0M60.5 329.2h0M99.7 375.6h0M107.5 356.2h0M122.8 362.2h0M50.6 378.1h0M86.3 326.3h0M119.9 360.2h0M65.2 372.2h0M110.6 324.0h0M49.6 372.2h0M97.8 324.9h0M82.5 346.7h0M60.2 372.0h0M46.9 375.1h0M110.0 347.1h0M105.2 355.3h0M96.0 342.7h0M87.2 345.2h0M57.8 325.2h0M51.0 376.6h0M50.8 367.4h0M82.4 347.2h0M84.2 383.3h0M98.5 372.0h0M76.6 347.7h0M120.0 339.5h0M63.1 374.0h0M120.0 328.5h0M124.5 346.7h0M90.1 332.5h0M118.4 352.2h0M102.3 336.9h0M56.0 379.8h0M110.6 380.2h0M89.0 332.9h0M91.8 371.5h0M102.4 335.6h0M113.1 370.0h0M109.9 367.7h0M82.9 348.3h0M54.1 329.0h0M56.5 352.0h0M36.8 351.7h0" stroke-width="1.55" stroke-opacity="0.38"/><path d="M95.6 333.4h0M107.8 345.1h0M98.7 360.2h0M56.8 337.9h0M34.2 379.4h0M112.5 326.7h0M42.1 387.1h0M76.7 373.4h0M123.3 356.6h0M65.0 378.8h0M61.3 359.7h0M83.6 348.1h0M122.5 333.5h0M72.0 390.1h0M52.2 350.8h0M80.6 391.8h0M50.3 344.9h0M46.2 378.0h0M94.6 381.4h0M40.4 353.4h0M50.2 358.1h0M47.0 338.0h0M115.2 355.1h0M118.2 373.2h0M114.1 375.7h0M90.3 348.0h0M89.1 328.0h0M50.4 378.5h0M104.9 351.4h0M113.6 348.1h0M104.6 324.9h0M62.1 349.6h0M79.7 351.3h0M90.4 341.9h0M94.5 366.5h0M81.5 330.0h0M80.8 358.3h0M90.1 335.6h0M89.3 364.3h0M66.9 377.4h0M35.2 382.1h0M116.7 336.2h0M59.3 330.7h0M119.0 358.7h0M43.1 346.9h0M72.3 385.2h0M70.7 362.7h0M96.0 364.5h0M70.4 379.6h0M121.1 364.8h0M100.0 352.3h0M87.3 382.1h0M93.4 348.4h0M103.2 329.7h0M96.2 374.1h0M73.3 343.4h0M105.1 347.6h0M68.3 390.1h0M77.3 358.7h0M107.8 381.2h0M88.7 334.1h0M52.3 388.6h0M35.6 332.0h0M58.0 389.0h0M123.6 364.1h0M64.6 335.3h0M64.1 359.0h0M39.9 337.6h0M89.0 362.2h0M100.6 330.0h0M117.4 340.5h0M56.3 373.8h0M75.0 372.0h0M116.7 339.0h0M113.7 354.6h0M81.7 379.6h0M43.8 348.7h0M37.2 381.8h0M87.4 360.3h0M41.9 391.0h0M67.7 350.0h0M76.0 376.3h0M74.4 360.5h0M43.1 334.7h0M61.1 345.8h0M121.9 352.9h0M32.1 330.5h0M52.7 363.4h0M109.5 386.0h0M122.1 392.1h0M87.3 335.8h0M85.6 327.2h0M91.5 352.9h0M78.0 336.4h0M105.6 368.8h0M95.4 353.8h0M118.6 332.1h0M64.8 334.3h0M79.5 388.4h0M33.5 388.6h0M67.5 374.6h0M100.5 324.4h0M105.6 370.5h0M40.8 378.9h0M79.5 377.7h0M125.3 389.8h0M74.8 350.7h0M124.0 357.0h0M75.3 351.6h0M34.5 361.6h0M94.4 374.7h0M89.4 376.1h0M101.7 390.9h0M50.1 350.3h0M125.2 333.9h0M44.6 369.2h0M42.9 350.4h0M91.1 380.7h0M123.3 392.2h0M78.7 384.6h0M77.6 343.9h0M106.4 353.0h0M71.9 386.9h0M112.4 342.7h0M119.4 351.8h0M68.8 360.8h0M46.2 377.0h0M59.1 351.6h0M80.9 375.5h0M72.1 369.0h0M124.7 338.1h0M93.5 354.8h0M42.4 379.0h0M101.5 372.9h0M96.0 352.7h0M98.9 383.6h0M37.3 369.6h0M41.8 348.6h0M125.1 328.4h0M103.7 361.9h0M35.0 388.8h0M82.4 370.5h0M95.8 343.1h0M76.2 348.9h0M101.5 378.8h0M80.3 383.5h0M109.9 338.3h0M99.6 328.0h0M84.4 370.0h0M41.0 361.0h0M85.9 391.5h0M32.6 325.8h0M36.0 339.6h0M117.6 329.5h0M46.8 354.8h0M38.4 341.0h0M78.8 354.8h0M75.8 385.8h0M112.5 376.6h0M34.8 355.7h0M60.9 338.2h0M122.7 378.3h0M90.3 333.6h0M60.5 336.0h0M38.9 376.3h0M106.5 373.6h0M73.5 326.1h0M51.1 336.6h0M48.9 326.3h0M107.6 390.0h0M66.0 376.7h0M110.5 330.9h0" stroke-width="1.55" stroke-opacity="0.55"/><path d="M64.3 347.1h0M45.5 350.3h0M87.1 336.9h0M97.0 362.2h0M72.4 345.6h0M106.3 332.3h0M84.3 378.3h0M90.2 387.7h0M126.2 326.9h0M97.4 377.6h0M127.6 327.4h0M83.8 385.0h0M37.4 387.4h0M65.8 350.5h0M108.4 385.2h0M114.9 326.7h0M59.4 325.4h0M106.6 357.0h0M79.4 333.4h0M37.0 370.0h0M53.4 391.5h0M98.1 325.9h0M34.2 349.3h0M50.8 389.6h0M126.3 361.3h0M99.7 357.3h0M123.1 328.2h0M58.0 329.2h0M63.7 383.5h0M45.1 345.9h0M127.9 344.8h0M80.2 342.7h0M80.8 333.1h0M116.3 337.8h0M111.2 356.4h0M73.6 359.1h0M47.4 365.3h0M92.7 342.4h0M60.6 392.3h0M123.3 327.1h0M34.6 350.5h0M94.9 370.0h0M124.1 368.9h0M36.5 337.3h0M89.8 369.7h0M66.4 374.4h0M77.1 338.0h0M68.1 343.1h0M128.0 390.4h0M74.8 362.5h0M113.0 365.7h0M113.1 378.3h0M105.1 332.2h0M114.2 353.6h0M99.3 389.9h0M89.3 347.0h0M100.5 369.8h0M99.1 386.4h0M82.9 356.7h0M79.8 325.0h0M99.0 326.6h0M95.4 348.7h0M117.2 336.5h0M90.6 392.1h0M57.8 328.8h0M37.5 376.7h0M87.6 368.4h0M119.5 357.3h0M48.9 387.5h0M39.3 336.4h0M78.9 345.0h0M48.3 344.7h0M112.4 384.2h0M81.2 376.3h0M125.5 363.4h0M67.6 326.9h0M77.3 390.2h0M79.4 343.2h0M54.4 378.4h0M75.4 381.3h0M97.4 342.0h0M97.7 354.7h0M97.3 374.2h0M87.5 344.5h0M34.3 387.7h0M55.8 344.6h0M57.3 346.3h0M78.8 352.6h0M78.7 329.2h0M82.2 346.4h0M116.7 353.4h0M37.4 361.3h0M80.2 340.4h0M39.0 371.4h0M70.7 326.8h0M122.0 346.9h0M69.7 364.1h0M92.9 367.9h0M36.8 335.3h0M92.0 331.8h0M76.7 349.0h0M108.9 341.2h0M107.7 337.1h0M114.8 382.7h0M126.5 341.9h0M97.2 368.5h0M124.5 376.2h0M42.5 324.7h0M125.8 339.1h0M73.8 384.9h0M119.9 391.6h0M79.2 331.7h0M79.6 328.0h0M94.7 389.2h0M40.4 337.1h0M60.9 372.6h0M73.7 389.3h0M57.1 326.3h0M51.9 381.8h0M124.5 355.1h0M47.3 357.9h0M90.9 386.4h0M96.5 392.6h0M105.0 332.2h0M50.6 328.5h0M79.7 391.4h0M95.5 379.1h0M74.2 352.1h0M107.0 372.3h0M69.6 327.0h0M122.6 347.7h0M99.9 331.7h0M66.1 346.7h0M80.5 366.9h0M114.6 377.5h0M81.0 362.2h0M84.5 346.1h0M106.8 337.9h0M116.7 356.8h0M53.6 324.8h0M50.0 366.5h0M75.1 331.8h0M97.6 348.2h0M72.1 349.6h0M48.6 379.3h0M109.0 338.9h0M109.9 366.9h0M65.1 336.9h0M114.3 335.1h0M118.5 359.8h0M90.3 368.3h0M51.1 341.1h0M43.5 380.5h0M100.2 376.9h0M42.9 363.4h0M82.4 355.7h0M103.4 324.4h0M80.8 366.7h0M39.6 362.7h0M84.2 343.3h0M50.8 327.5h0" stroke-width="1.55" stroke-opacity="0.72"/><path d="M33.2 331.8h0M51.1 346.8h0M66.1 338.1h0M92.0 357.1h0M32.5 324.0h0M119.6 364.0h0M48.3 376.0h0M116.9 362.0h0M60.6 327.6h0M89.9 351.0h0M123.2 365.8h0M110.3 341.2h0M66.2 364.5h0M74.3 362.8h0M87.1 379.5h0M114.5 350.8h0M111.3 364.9h0M97.7 352.1h0M71.4 384.0h0M64.9 326.4h0M77.3 387.7h0M109.4 340.1h0M61.7 370.8h0M123.2 338.1h0M65.4 330.3h0M55.6 362.1h0M118.3 379.7h0M96.0 351.2h0M124.5 332.9h0M61.7 359.8h0M123.1 365.6h0M118.1 361.7h0M34.5 353.5h0M111.6 349.3h0M83.3 348.7h0M98.9 352.2h0M86.6 324.1h0M33.6 358.6h0M63.9 386.3h0M120.1 333.0h0M55.8 334.1h0M116.6 357.2h0M109.9 366.5h0M60.3 371.1h0M95.8 376.4h0M110.9 362.9h0M87.8 390.6h0M74.7 368.4h0M59.2 378.7h0M95.5 344.0h0M123.1 380.8h0M73.6 328.0h0M82.5 385.2h0M89.4 356.6h0M63.9 354.5h0M46.3 353.2h0M58.0 362.8h0M49.3 328.4h0M73.6 381.1h0M65.1 371.8h0M76.8 390.6h0M104.1 374.2h0M63.2 373.9h0M53.7 353.9h0M105.8 378.4h0M36.3 381.4h0M71.4 325.3h0M41.2 376.0h0M38.5 341.4h0M104.3 348.6h0M70.7 352.0h0M104.6 389.2h0M53.3 368.8h0M125.7 380.4h0M58.6 343.7h0M59.0 347.0h0M101.8 359.6h0M70.1 378.7h0M99.0 377.2h0M44.9 337.0h0M69.7 338.5h0M102.9 365.5h0M32.8 326.4h0M127.9 390.2h0M77.8 364.8h0M113.1 384.1h0M68.3 342.4h0M53.8 327.9h0M68.3 391.8h0M67.1 355.2h0M100.2 350.8h0M86.5 326.6h0M79.2 361.8h0M110.1 389.3h0M43.0 356.7h0M85.5 363.9h0M88.9 329.6h0M81.9 375.5h0M98.1 337.2h0M121.7 387.5h0M58.0 377.9h0M78.1 349.4h0M106.5 333.7h0M53.9 373.9h0M98.1 371.7h0M125.8 335.2h0M80.9 365.4h0M52.7 326.8h0M45.1 364.2h0M33.3 356.0h0M69.9 371.0h0M82.9 364.6h0M97.6 361.3h0M121.3 330.0h0M118.5 356.3h0M77.3 360.3h0M68.5 359.3h0M113.3 356.1h0M48.3 372.2h0M43.2 331.5h0M64.2 388.3h0M50.1 368.9h0M117.5 332.4h0M84.5 345.9h0M76.4 338.7h0M62.4 379.5h0M112.8 386.9h0M98.7 354.3h0M107.6 341.0h0M89.4 371.6h0M46.1 336.0h0M63.9 324.5h0M94.3 348.1h0M72.4 360.3h0M53.1 354.4h0M69.6 333.0h0M64.2 356.1h0M41.5 391.4h0M54.0 350.9h0M54.0 353.7h0M97.3 368.5h0M85.7 367.5h0M61.6 363.9h0M91.0 364.7h0M40.1 365.0h0M107.0 379.8h0M118.2 383.9h0M77.1 344.0h0M43.5 385.4h0M93.5 343.4h0M45.9 357.2h0M109.5 356.0h0M88.4 358.3h0M118.0 360.4h0M113.1 385.2h0M90.5 338.0h0M87.1 352.0h0M91.5 384.1h0M89.7 382.3h0M77.1 390.7h0M46.6 389.1h0M77.0 341.0h0M116.6 359.0h0M106.8 390.9h0M111.4 325.9h0M57.8 366.0h0M80.8 336.4h0M79.7 382.2h0M40.0 391.9h0M100.6 359.4h0M89.1 366.9h0M113.8 331.5h0" stroke-width="1.92" stroke-opacity="0.38"/><path d="M127.6 330.4h0M96.8 330.5h0M98.8 330.6h0M127.2 337.6h0M105.7 341.6h0M97.8 386.2h0M84.0 357.5h0M38.0 365.5h0M114.3 335.2h0M120.7 363.2h0M98.7 367.1h0M76.7 362.4h0M74.2 341.5h0M64.3 376.7h0M88.0 345.2h0M125.4 361.7h0M110.2 346.6h0M74.2 374.5h0M119.0 341.6h0M68.1 342.6h0M125.2 352.1h0M38.0 381.0h0M114.5 366.0h0M127.8 392.7h0M56.6 343.4h0M49.9 347.2h0M112.7 325.0h0M103.4 332.2h0M111.2 355.0h0M40.7 367.2h0M90.4 342.8h0M112.6 391.3h0M53.5 360.7h0M37.5 347.1h0M76.9 363.4h0M85.4 334.9h0M43.8 374.8h0M106.2 360.7h0M80.8 382.1h0M39.5 337.4h0M70.8 382.2h0M95.3 369.0h0M77.0 355.5h0M92.1 381.3h0M89.8 348.3h0M98.4 371.3h0M36.3 374.4h0M121.0 356.3h0M105.7 338.9h0M123.2 337.5h0M116.8 387.0h0M55.0 344.9h0M65.4 370.9h0M71.1 336.3h0M93.9 324.3h0M75.3 346.3h0M64.9 372.3h0M91.0 388.4h0M104.0 370.9h0M63.1 332.2h0M113.0 340.8h0M119.1 348.5h0M70.4 380.6h0M80.0 354.6h0M104.6 330.7h0M44.9 362.1h0M36.4 330.4h0M72.0 351.5h0M36.3 373.8h0M103.0 392.4h0M116.0 333.8h0M117.6 375.5h0M88.6 381.1h0M66.4 343.3h0M110.4 350.4h0M37.7 359.0h0M37.5 330.3h0M76.9 384.7h0M103.0 375.4h0M121.0 387.8h0M74.8 357.4h0M49.5 330.5h0M38.7 337.3h0M77.2 380.5h0M35.8 342.9h0M108.3 341.7h0M103.5 356.0h0M91.2 369.6h0M82.7 354.1h0M59.8 377.2h0M116.7 362.0h0M47.6 344.5h0M106.1 345.5h0M88.1 373.4h0M119.9 392.1h0M103.4 348.8h0M32.0 344.5h0M54.3 335.1h0M70.3 338.2h0M97.8 383.7h0M61.2 365.5h0M116.1 369.9h0M62.1 336.2h0M51.8 337.1h0M127.1 348.7h0M93.4 324.6h0M62.9 367.4h0M79.3 389.8h0M57.5 340.9h0M49.5 384.7h0M119.7 324.2h0M112.3 340.4h0M52.6 388.9h0M112.5 376.6h0M42.7 357.4h0M36.4 378.1h0M100.6 339.8h0M38.8 371.4h0M89.3 332.9h0M93.4 334.1h0M97.9 375.8h0M63.8 342.7h0M65.0 369.1h0M118.0 367.6h0M101.5 384.3h0M102.7 358.2h0M110.2 361.1h0M97.2 364.0h0M68.6 329.2h0M110.9 364.3h0M56.4 373.3h0M94.1 342.6h0M35.6 379.9h0M41.5 350.3h0M39.6 382.1h0M64.6 341.7h0M72.9 376.7h0M65.9 377.6h0M104.8 373.0h0M43.2 377.0h0M80.4 345.6h0M69.8 338.6h0M82.2 358.5h0M53.3 331.1h0M51.7 332.4h0M64.3 336.9h0M76.3 324.8h0M95.0 374.6h0M70.2 342.2h0M52.7 382.2h0M127.0 374.8h0M97.9 384.9h0M45.2 342.8h0M76.6 355.2h0M85.5 357.4h0M49.0 389.6h0M96.3 349.5h0M77.6 360.8h0M92.9 337.6h0M66.9 380.0h0M107.8 337.2h0M44.8 346.8h0M98.0 383.2h0M43.9 359.2h0M72.7 368.2h0M121.7 362.8h0M83.3 375.9h0M119.4 391.8h0" stroke-width="1.92" stroke-opacity="0.55"/><path d="M52.8 364.4h0M43.5 337.4h0M43.9 378.0h0M84.0 340.7h0M55.3 372.7h0M62.9 350.9h0M110.4 374.7h0M125.1 356.7h0M116.2 348.5h0M34.6 340.6h0M111.7 343.9h0M53.8 360.0h0M95.2 325.6h0M100.5 324.7h0M81.0 327.4h0M61.1 383.0h0M41.0 361.2h0M69.0 350.5h0M125.6 382.8h0M35.3 346.5h0M78.5 332.1h0M44.9 331.8h0M110.3 358.1h0M39.1 345.8h0M48.5 347.9h0M100.8 355.7h0M115.2 342.3h0M100.8 336.7h0M74.8 341.4h0M102.2 384.6h0M71.8 381.8h0M33.5 332.8h0M97.0 385.6h0M42.6 348.1h0M118.4 371.7h0M47.3 341.6h0M44.1 375.0h0M100.8 386.2h0M107.3 387.3h0M75.6 372.3h0M50.3 390.2h0M111.3 352.1h0M67.8 381.1h0M43.2 354.4h0M115.2 338.4h0M110.9 355.2h0M41.0 329.0h0M87.5 378.4h0M106.4 339.3h0M89.7 346.3h0M106.1 354.5h0M75.7 342.4h0M76.6 373.6h0M32.3 386.5h0M78.2 333.6h0M57.4 381.0h0M64.6 346.9h0M79.5 349.1h0M92.0 377.9h0M63.2 367.8h0M127.4 349.2h0M57.2 389.8h0M79.0 346.7h0M56.9 335.3h0M118.3 369.1h0M77.5 360.0h0M125.1 369.6h0M82.0 342.7h0M50.7 358.6h0M73.7 386.7h0M38.4 327.1h0M122.7 326.6h0M112.5 334.7h0M96.7 358.9h0M91.1 362.2h0M56.9 340.5h0M51.3 342.2h0M87.8 333.1h0M33.1 391.4h0M65.8 362.9h0M106.3 350.8h0M102.3 366.8h0M99.9 356.3h0M53.6 333.3h0M62.5 336.1h0M56.1 354.3h0M106.2 329.4h0M80.2 338.0h0M84.2 333.4h0M65.4 332.8h0M95.0 333.4h0M45.6 339.2h0M69.0 381.2h0M109.2 345.4h0M72.2 375.9h0M112.0 353.9h0M75.8 349.3h0M108.7 365.3h0M127.4 348.4h0M69.6 385.6h0M112.2 336.9h0M50.4 347.3h0M107.9 332.0h0M45.7 336.1h0M97.6 369.0h0M77.6 377.5h0M55.5 347.4h0M125.8 357.6h0M97.7 365.3h0M54.2 392.8h0M88.2 380.3h0M117.5 367.4h0M87.9 364.2h0M37.8 372.0h0M108.5 328.7h0M117.9 345.1h0M82.2 342.4h0M71.8 334.8h0M60.8 368.1h0M114.6 333.7h0M112.7 356.4h0M63.3 361.2h0M72.8 342.8h0M58.3 327.9h0M86.5 343.8h0M100.7 353.1h0M65.6 343.6h0M74.4 349.9h0M72.6 336.1h0M88.5 354.8h0M55.1 339.3h0M50.8 360.6h0M34.8 340.2h0M90.8 360.5h0M120.1 383.7h0M110.2 358.2h0M90.1 368.2h0M99.9 383.8h0M44.2 378.3h0M105.3 327.5h0M83.6 384.4h0M59.8 375.4h0M51.0 361.1h0M71.1 330.7h0M70.2 383.5h0M38.4 357.6h0M56.7 353.9h0M73.6 341.9h0M104.8 390.2h0M47.2 352.1h0M83.3 365.6h0M95.4 327.8h0M108.0 328.6h0M43.5 348.0h0M54.8 381.6h0M70.1 370.0h0M34.2 340.8h0M33.4 386.8h0M52.9 389.9h0M83.9 364.5h0M39.9 350.8h0M106.4 387.2h0M77.8 369.8h0M40.3 329.6h0M51.3 373.7h0M66.2 357.6h0M57.2 327.2h0M117.0 375.2h0M42.9 387.2h0M69.2 367.9h0M92.1 348.8h0M91.4 360.7h0M110.2 368.8h0M127.5 339.4h0M41.0 353.9h0" stroke-width="1.92" stroke-opacity="0.72"/></g><ellipse cx="86" cy="352" rx="10" ry="22" fill="url(#g27)"/></g><g clip-path="url(#c32)"><rect x="131" y="324" width="94.25" height="69" fill="#3c3846"/><ellipse cx="177" cy="361" rx="46" ry="38" fill="url(#g29)"/><g><rect x="131" y="324" width="94.25" height="69" filter="url(#f30)"/></g><g fill="none" stroke="#aca4bc" stroke-linecap="round" filter="url(#b2)"><path d="M201.7 332.5h0M201.4 362.6h0M160.8 328.0h0M217.4 380.2h0M177.7 355.0h0M174.4 368.1h0M157.6 374.0h0M219.0 348.2h0M164.5 341.6h0M164.9 350.0h0M152.0 331.8h0M162.8 331.2h0M170.0 340.8h0M156.0 346.7h0M196.2 339.4h0M134.8 375.6h0M187.3 353.0h0M174.9 363.2h0M177.0 335.2h0M148.9 387.4h0M156.5 360.9h0M181.1 369.9h0M190.4 348.5h0M151.3 389.6h0M214.4 382.4h0M158.9 351.8h0M180.7 348.8h0M202.0 334.6h0M172.1 369.9h0M139.3 347.7h0M191.4 372.6h0M182.0 372.2h0M206.7 363.0h0M195.0 377.1h0M147.0 344.2h0M161.5 380.7h0M201.8 359.3h0M166.9 374.3h0M184.8 363.7h0M171.0 366.2h0M146.9 357.4h0M221.2 344.0h0M168.2 330.2h0M159.4 329.7h0M192.6 349.1h0M178.5 327.3h0M195.7 338.1h0M171.4 379.2h0M195.4 391.7h0M212.3 345.3h0M181.9 344.5h0M215.6 339.2h0M202.4 361.6h0M161.8 370.3h0M188.4 343.0h0M184.7 362.6h0M177.6 378.2h0M184.5 380.5h0M159.0 352.9h0M190.5 354.8h0M185.9 343.2h0M179.4 385.5h0M185.8 358.8h0M207.6 350.8h0M189.4 342.1h0M170.1 386.5h0M164.0 364.6h0M152.9 384.7h0M167.9 360.2h0M176.1 344.6h0M165.8 369.6h0M182.7 375.6h0M204.3 356.3h0M203.2 377.9h0M151.2 381.9h0M206.1 328.0h0M180.6 377.8h0M160.1 363.8h0M165.1 373.9h0M219.0 353.4h0M136.5 363.4h0M176.5 352.3h0M185.0 338.0h0M222.9 350.3h0M162.7 356.9h0M135.8 375.7h0M151.4 363.6h0M144.4 382.5h0M213.5 361.6h0M199.4 362.2h0M198.1 368.5h0M203.4 365.4h0M137.4 373.6h0M141.4 373.3h0M193.1 381.4h0M201.0 376.3h0M147.6 374.7h0M209.0 365.9h0M194.5 370.6h0M198.4 327.3h0M214.2 370.3h0M182.9 347.1h0M203.0 390.7h0M142.9 373.2h0M210.0 372.8h0M133.2 352.2h0M210.3 386.6h0M140.6 343.7h0M221.1 327.6h0M188.9 374.6h0M195.2 337.8h0M155.3 386.3h0M189.1 355.2h0M171.9 381.0h0M147.0 359.3h0M156.3 383.5h0M168.0 392.7h0M178.7 342.0h0M190.7 340.0h0M194.6 362.9h0M194.4 352.6h0M198.3 359.5h0M176.0 329.1h0M154.7 364.3h0M169.9 341.1h0M164.7 383.5h0M174.2 370.2h0M198.6 348.4h0M186.1 378.3h0M193.0 390.9h0M186.7 338.9h0M196.6 383.6h0M152.6 356.5h0M199.7 380.0h0M224.7 333.7h0M194.1 361.3h0M204.6 325.2h0M154.4 387.4h0M166.8 341.6h0M162.0 366.9h0M186.8 383.9h0M211.7 325.0h0M183.6 390.7h0M143.9 345.0h0M184.8 365.4h0M184.0 346.9h0M194.4 386.1h0M176.2 357.1h0M184.8 344.5h0M151.2 357.5h0M189.1 333.2h0M150.8 367.1h0M184.7 389.0h0M157.8 347.4h0M137.7 388.9h0M161.7 366.5h0M154.8 382.2h0M191.9 383.3h0M191.0 350.6h0M206.3 342.2h0M145.8 371.9h0M205.2 343.4h0M185.6 366.3h0M136.3 349.7h0M155.7 392.8h0" stroke-width="1.18" stroke-opacity="0.38"/><path d="M184.8 367.6h0M159.4 345.3h0M204.6 378.6h0M189.3 346.6h0M145.9 339.1h0M160.3 361.3h0M192.3 366.9h0M146.6 367.2h0M216.7 338.2h0M168.5 378.0h0M160.0 349.6h0M220.8 378.8h0M141.2 368.4h0M163.4 351.1h0M155.3 337.5h0M221.0 391.5h0M190.5 389.9h0M143.8 352.5h0M173.7 384.2h0M184.1 348.3h0M159.2 358.6h0M150.9 358.4h0M142.7 355.7h0M184.0 343.1h0M190.4 358.5h0M187.4 357.2h0M210.4 363.4h0M163.1 372.3h0M212.0 374.6h0M181.7 368.7h0M137.0 380.8h0M159.0 344.3h0M217.0 340.9h0M134.9 356.6h0M184.8 369.8h0M191.6 334.2h0M179.2 359.6h0M187.1 386.3h0M162.5 383.0h0M152.9 361.7h0M179.4 377.6h0M161.5 370.9h0M153.6 373.9h0M204.3 352.4h0M165.4 363.8h0M200.3 351.2h0M166.4 344.0h0M198.1 353.6h0M182.0 354.6h0M164.8 345.1h0M166.1 374.3h0M162.7 340.8h0M171.9 350.5h0M189.7 337.1h0M192.6 346.5h0M142.0 345.0h0M166.3 357.7h0M180.9 356.8h0M187.0 359.8h0M202.4 351.6h0M163.0 377.0h0M221.1 389.8h0M167.0 385.3h0M161.3 331.7h0M181.8 357.7h0M198.3 332.4h0M193.9 392.3h0M170.9 379.4h0M185.5 384.9h0M145.4 359.1h0M185.2 353.7h0M163.9 360.3h0M209.8 344.7h0M199.1 348.6h0M167.1 378.8h0M177.6 326.2h0M201.3 362.2h0M146.0 351.8h0M209.1 383.9h0M148.4 354.7h0M173.4 341.0h0M199.9 336.6h0M185.4 373.5h0M169.5 337.0h0M214.9 341.4h0M196.9 359.2h0M191.1 360.6h0M133.3 352.4h0M168.0 368.5h0M195.9 378.1h0M224.0 386.7h0M188.6 370.7h0M181.6 379.6h0M202.6 338.6h0M177.1 359.4h0M209.0 384.2h0M186.5 369.3h0M211.2 386.0h0M152.8 338.0h0M177.6 365.2h0M170.9 349.0h0M157.6 356.6h0M198.4 360.0h0M204.0 345.5h0M141.2 324.7h0M170.7 364.6h0M218.2 334.4h0M168.5 355.7h0M170.9 362.5h0M131.5 381.5h0M195.4 390.2h0M185.9 361.5h0M183.5 366.8h0M194.7 359.5h0M168.9 350.6h0M147.2 380.8h0M157.3 390.8h0M188.1 388.7h0M194.8 367.5h0M143.1 381.6h0M151.8 383.5h0M191.2 349.8h0M188.5 363.0h0M159.7 340.1h0M163.1 377.6h0M164.5 334.9h0M184.7 336.5h0M143.1 367.6h0M204.2 362.8h0M223.9 366.4h0M149.2 339.8h0M197.2 386.4h0M148.8 362.3h0M135.0 340.9h0M195.6 371.0h0M150.4 367.3h0M184.5 342.1h0M160.1 372.3h0M180.2 377.8h0M158.1 367.2h0M175.7 375.3h0M164.3 345.9h0M182.4 358.9h0M178.3 382.3h0M188.3 383.2h0M137.7 346.2h0M156.4 356.2h0M206.2 389.7h0M154.9 375.6h0M163.0 383.8h0M220.4 349.4h0M182.6 328.1h0M148.6 354.1h0M148.3 328.3h0M198.4 379.0h0M171.3 357.0h0M187.9 369.3h0M165.9 336.1h0M137.9 374.9h0M183.0 377.2h0" stroke-width="1.18" stroke-opacity="0.55"/><path d="M162.8 348.9h0M206.5 354.6h0M217.3 340.3h0M182.8 374.9h0M138.4 353.8h0M164.1 369.3h0M213.4 364.3h0M213.8 381.7h0M216.7 388.5h0M184.0 349.0h0M211.9 388.6h0M174.9 386.8h0M149.1 356.0h0M181.5 361.0h0M156.1 383.7h0M188.6 340.4h0M194.8 325.0h0M157.7 383.2h0M212.8 374.0h0M173.3 346.1h0M217.4 343.8h0M221.5 389.0h0M207.2 360.2h0M179.3 373.7h0M181.0 365.5h0M174.3 376.6h0M200.9 352.2h0M196.3 349.2h0M194.6 343.7h0M217.9 383.5h0M223.1 336.8h0M146.7 352.5h0M189.4 369.5h0M139.9 330.3h0M175.5 358.9h0M171.2 386.6h0M166.5 327.8h0M169.0 328.2h0M166.2 332.2h0M169.4 391.5h0M172.2 345.4h0M143.1 391.4h0M153.8 343.5h0M166.9 382.4h0M154.4 389.0h0M161.2 339.7h0M201.9 365.9h0M168.7 371.4h0M195.1 333.1h0M187.4 339.3h0M143.6 334.4h0M180.2 389.7h0M191.7 383.2h0M181.5 366.5h0M179.2 343.9h0M132.9 382.0h0M189.3 359.9h0M199.1 337.4h0M176.2 352.9h0M209.8 342.6h0M142.6 368.9h0M178.5 381.9h0M177.2 369.9h0M203.7 379.4h0M148.8 362.0h0M186.8 338.4h0M163.2 355.2h0M136.4 362.6h0M152.9 328.5h0M183.5 356.1h0M143.3 377.6h0M209.2 329.6h0M207.1 340.9h0M155.2 347.6h0M165.9 361.2h0M137.5 326.4h0M170.6 349.3h0M162.1 360.6h0M204.2 364.4h0M180.7 366.8h0M194.5 369.4h0M184.4 343.5h0M153.8 379.5h0M177.7 359.5h0M199.9 379.1h0M157.7 366.7h0M145.7 359.0h0M200.2 357.1h0M160.2 382.3h0M200.0 349.4h0M137.3 367.1h0M200.4 354.4h0M192.0 391.6h0M148.5 380.9h0M162.5 353.4h0M164.1 376.1h0M144.3 379.2h0M151.3 352.4h0M166.6 344.5h0M139.1 367.4h0M181.6 349.7h0M217.6 386.2h0M168.7 334.1h0M219.7 360.0h0M175.3 373.5h0M161.7 362.5h0M193.4 359.9h0M210.5 365.5h0M172.8 374.1h0M205.5 384.8h0M160.4 390.9h0M165.0 385.1h0M201.9 392.4h0M217.8 390.5h0M200.6 339.2h0M198.8 380.4h0M213.1 382.0h0M205.1 369.3h0M204.0 390.2h0M196.9 372.7h0M158.3 355.0h0M179.7 368.6h0M147.0 360.0h0M177.0 359.6h0M151.3 326.2h0M202.6 358.3h0M173.5 346.7h0M148.6 370.7h0M173.0 338.4h0M155.8 365.3h0M152.2 335.8h0M184.8 362.4h0M170.6 327.5h0M159.2 330.9h0M184.6 334.6h0M178.4 327.6h0M190.2 380.2h0M197.9 389.9h0M166.2 388.5h0M173.4 358.5h0M181.1 334.9h0M133.6 376.6h0M197.7 362.8h0M189.2 332.5h0M140.3 340.5h0M167.7 383.5h0M131.1 371.8h0M177.4 369.2h0M160.7 359.7h0M137.0 384.8h0M171.0 390.7h0M161.9 365.8h0M134.0 359.1h0M133.6 339.9h0M147.6 386.4h0M131.7 359.8h0M141.4 349.1h0M144.8 355.4h0M168.8 343.9h0M179.9 381.4h0M140.5 340.5h0M170.0 357.3h0M199.0 376.2h0M178.3 335.0h0M196.8 353.3h0M172.6 332.0h0M192.4 356.1h0M145.8 347.0h0M178.0 384.7h0M215.7 343.4h0M184.6 353.3h0M191.2 364.3h0M208.7 382.9h0" stroke-width="1.18" stroke-opacity="0.72"/><path d="M131.6 360.2h0M199.8 355.9h0M133.9 373.4h0M159.4 344.5h0M163.7 388.9h0M217.0 361.8h0M213.3 347.5h0M224.3 388.4h0M164.9 324.8h0M135.0 383.2h0M180.4 345.0h0M156.1 389.5h0M185.3 359.0h0M218.2 338.9h0M189.6 349.5h0M190.9 358.3h0M155.5 351.4h0M162.5 350.2h0M225.2 349.8h0M213.0 350.5h0M169.9 347.2h0M141.8 382.4h0M216.0 367.1h0M161.1 324.6h0M158.8 342.9h0M207.2 363.4h0M177.2 369.2h0M180.6 373.9h0M216.3 358.2h0M188.9 352.6h0M220.0 376.9h0M199.8 365.1h0M220.4 341.5h0M203.6 361.8h0M218.2 367.0h0M202.2 353.6h0M221.6 366.7h0M176.1 347.1h0M171.7 339.8h0M172.4 360.8h0M143.6 344.8h0M214.7 366.2h0M191.0 379.9h0M224.8 325.5h0M182.3 389.4h0M155.8 367.8h0M166.4 354.0h0M202.5 324.1h0M169.2 328.3h0M189.2 368.8h0M200.4 371.0h0M169.8 372.6h0M205.5 361.8h0M179.0 358.7h0M178.5 370.5h0M211.4 339.5h0M198.2 331.4h0M219.1 360.4h0M180.2 356.6h0M216.4 346.8h0M139.9 372.1h0M145.1 350.1h0M214.3 335.9h0M207.5 376.6h0M160.9 356.5h0M150.7 389.0h0M165.8 357.9h0M167.7 357.7h0M198.4 385.6h0M183.8 377.2h0M182.0 365.3h0M163.9 365.6h0M157.3 358.7h0M175.0 343.4h0M188.7 368.6h0M170.5 363.6h0M182.6 364.8h0M197.5 346.8h0M173.9 345.9h0M177.8 341.4h0M161.2 365.4h0M155.0 334.4h0M169.0 367.2h0M152.6 354.9h0M184.0 379.5h0M184.4 359.3h0M138.6 333.0h0M176.7 370.8h0M144.8 341.4h0M150.6 380.4h0M138.4 346.9h0M195.1 339.6h0M149.0 371.4h0M201.3 384.4h0M170.7 385.1h0M138.9 327.0h0M184.9 356.3h0M141.3 374.9h0M142.9 387.7h0M177.6 391.7h0M145.4 348.9h0M210.2 333.9h0M187.0 365.5h0M134.3 329.2h0M137.2 353.2h0M192.0 388.4h0M176.2 379.4h0M151.1 383.5h0M132.4 360.0h0M171.0 367.3h0M222.6 349.8h0M220.1 371.9h0M141.0 370.2h0M211.4 355.3h0M152.8 370.1h0M189.9 353.8h0M166.3 360.5h0M176.5 362.8h0M173.6 327.6h0M166.9 385.7h0M202.4 341.6h0M153.3 365.4h0M140.2 365.2h0M184.4 381.4h0M160.6 365.1h0M188.6 366.8h0M174.3 372.9h0M143.2 325.9h0M189.0 362.1h0M182.4 355.1h0M144.5 381.0h0M146.7 386.1h0M152.9 383.6h0M204.7 364.6h0M213.5 343.4h0M217.3 369.8h0M138.6 387.7h0M216.4 327.2h0M195.0 350.3h0M181.8 345.9h0M137.2 359.1h0M196.1 342.3h0M205.4 360.5h0M163.6 390.3h0M174.1 349.5h0M208.3 351.8h0M196.7 389.6h0M136.8 368.6h0M171.2 391.9h0M214.3 380.8h0M214.0 324.1h0M165.7 324.6h0M139.8 361.1h0M189.4 356.5h0M154.8 355.2h0M194.2 329.6h0M190.6 366.0h0M170.6 353.3h0M174.6 331.0h0M209.4 370.4h0M133.1 369.7h0M192.2 376.8h0M168.1 361.7h0M145.7 356.4h0M168.6 390.9h0M176.7 328.1h0M173.6 336.0h0M184.9 351.5h0M176.0 377.7h0M186.0 344.5h0M188.0 361.7h0M132.6 364.8h0M170.4 354.4h0M197.7 347.1h0M219.2 389.3h0M187.1 391.6h0M186.2 362.4h0M206.5 333.8h0M182.8 363.5h0M142.2 368.8h0M157.9 367.2h0M189.6 339.0h0M211.6 358.4h0M171.9 340.3h0" stroke-width="1.55" stroke-opacity="0.38"/><path d="M215.0 386.7h0M192.6 355.6h0M205.0 345.3h0M203.1 361.9h0M183.7 366.4h0M138.8 339.2h0M199.7 336.0h0M169.2 343.6h0M159.6 369.0h0M166.2 361.6h0M162.5 345.0h0M205.2 362.6h0M173.8 364.0h0M205.9 345.4h0M194.1 378.9h0M178.5 383.3h0M197.9 374.7h0M170.6 389.1h0M205.0 345.9h0M153.4 346.5h0M155.9 340.8h0M140.2 326.4h0M154.8 337.8h0M166.1 347.3h0M172.2 350.5h0M165.6 378.6h0M193.4 343.0h0M203.0 367.7h0M166.5 347.3h0M177.3 340.6h0M164.4 354.8h0M145.5 340.2h0M213.4 378.2h0M161.2 375.5h0M164.8 344.5h0M208.0 356.5h0M164.2 382.6h0M178.7 361.3h0M153.6 378.5h0M223.7 390.2h0M138.2 363.9h0M206.0 381.8h0M188.0 353.1h0M175.6 370.2h0M169.1 357.4h0M186.3 363.1h0M215.1 354.8h0M180.1 371.2h0M219.2 352.5h0M174.7 367.1h0M199.9 325.2h0M143.6 350.5h0M203.6 359.4h0M165.0 375.7h0M154.5 326.8h0M177.2 369.3h0M198.3 346.0h0M183.9 373.6h0M224.0 391.3h0M185.6 328.8h0M184.6 383.6h0M139.2 374.3h0M187.0 372.0h0M176.9 325.6h0M215.6 374.7h0M142.5 343.7h0M220.2 378.0h0M192.6 331.4h0M191.5 351.2h0M148.9 374.7h0M182.2 358.4h0M171.1 382.1h0M201.8 380.9h0M161.9 343.8h0M203.3 351.2h0M215.4 378.9h0M140.9 383.7h0M144.7 356.1h0M182.5 342.1h0M215.4 340.5h0M193.2 357.2h0M201.2 371.8h0M132.6 329.3h0M217.5 386.8h0M166.9 355.5h0M155.8 352.9h0M136.6 352.5h0M192.3 383.2h0M180.3 360.3h0M159.9 349.2h0M208.1 361.2h0M177.4 374.4h0M159.1 389.2h0M187.7 368.2h0M179.9 370.2h0M140.9 334.9h0M142.9 341.6h0M210.2 357.0h0M144.1 345.7h0M192.4 342.7h0M197.3 349.5h0M202.6 336.1h0M186.8 379.7h0M180.7 332.8h0M191.4 343.9h0M180.8 334.1h0M191.6 351.5h0M156.5 371.8h0M177.4 356.8h0M140.7 360.8h0M179.5 351.3h0M211.6 343.6h0M173.6 351.8h0M159.6 383.0h0M169.4 377.9h0M163.5 373.9h0M162.8 378.1h0M187.3 343.1h0M179.4 351.5h0M187.7 326.3h0M175.5 371.8h0M211.2 386.4h0M133.0 377.6h0M135.2 348.7h0M153.8 349.6h0M211.2 345.4h0M207.9 325.2h0M196.6 361.2h0M136.3 353.3h0M170.9 339.7h0M195.2 351.8h0M160.1 373.1h0M158.6 374.6h0M191.1 387.7h0M170.4 346.4h0M210.7 382.4h0M134.3 327.6h0M170.4 369.3h0M187.7 388.8h0M206.2 364.9h0M182.3 356.7h0M157.6 346.7h0M192.8 352.5h0M175.1 341.0h0M189.7 370.4h0M135.7 373.0h0M165.8 391.6h0M198.4 350.6h0M166.9 342.0h0M161.1 335.9h0M196.1 358.2h0M192.8 383.6h0M190.4 359.9h0M180.9 391.5h0M189.6 373.5h0M192.2 330.9h0M148.2 376.3h0M132.2 357.6h0" stroke-width="1.55" stroke-opacity="0.55"/><path d="M215.8 360.6h0M213.5 379.5h0M132.1 367.6h0M207.3 351.8h0M214.8 324.4h0M197.0 385.3h0M186.1 375.4h0M174.9 377.6h0M219.4 353.8h0M166.2 386.8h0M160.3 344.8h0M213.3 378.0h0M192.9 349.6h0M167.9 377.2h0M156.3 353.9h0M193.4 358.7h0M154.6 347.7h0M161.5 327.0h0M131.7 378.0h0M184.8 375.4h0M163.6 385.6h0M165.4 362.9h0M192.9 359.9h0M181.2 337.7h0M182.8 372.2h0M204.9 366.1h0M174.6 383.0h0M175.1 355.3h0M194.8 357.8h0M178.9 355.6h0M155.2 373.5h0M199.9 366.0h0M185.0 325.9h0M185.6 382.7h0M184.5 390.4h0M173.4 368.6h0M166.1 380.6h0M170.5 330.6h0M161.7 336.4h0M139.3 368.6h0M159.8 373.9h0M162.1 365.0h0M205.8 340.2h0M216.8 386.7h0M164.7 361.0h0M164.8 390.6h0M222.0 378.0h0M175.9 366.0h0M190.8 342.3h0M174.8 360.7h0M160.0 338.0h0M148.7 353.2h0M138.8 360.2h0M189.1 359.8h0M160.5 332.1h0M157.3 337.3h0M160.4 329.4h0M204.3 364.9h0M202.0 370.6h0M177.1 354.8h0M161.4 354.0h0M177.6 354.4h0M136.7 353.8h0M180.2 384.2h0M214.9 331.6h0M171.3 340.7h0M212.1 384.1h0M187.8 356.3h0M164.3 364.0h0M182.2 382.9h0M174.9 387.2h0M168.2 377.0h0M207.7 335.7h0M160.3 347.7h0M155.8 354.6h0M163.1 346.7h0M182.8 385.7h0M190.8 356.3h0M212.0 349.7h0M211.8 369.2h0M154.4 335.1h0M214.9 360.7h0M171.0 354.4h0M140.4 384.6h0M151.5 347.7h0M205.5 368.1h0M169.4 332.0h0M178.2 325.8h0M161.6 326.4h0M175.6 374.6h0M185.5 373.7h0M209.4 366.0h0M182.6 377.1h0M163.1 329.0h0M185.5 344.6h0M181.8 333.5h0M171.5 355.7h0M153.7 365.9h0M166.9 326.1h0M159.0 350.8h0M220.5 343.3h0M137.6 372.0h0M220.1 324.5h0M195.9 351.4h0M156.1 387.9h0M174.7 377.8h0M133.4 377.8h0M205.4 361.9h0M157.4 349.5h0M162.8 388.2h0M176.6 368.0h0M205.4 365.0h0M178.1 355.2h0M210.0 345.6h0M185.7 352.8h0M166.3 354.3h0M183.1 387.7h0M218.1 342.5h0M197.1 355.6h0M182.9 333.6h0M205.2 369.2h0M153.3 335.5h0M198.0 360.0h0M176.1 354.1h0M187.7 363.2h0M163.4 392.9h0M188.7 355.1h0M188.0 356.9h0M194.2 334.1h0M172.6 362.9h0M170.8 337.3h0M174.1 357.8h0M195.5 326.3h0M168.0 381.0h0M171.2 360.5h0M184.4 356.7h0M225.1 356.0h0M220.7 361.3h0M163.2 372.7h0M224.9 391.7h0M172.7 332.2h0M174.6 352.3h0M190.6 351.4h0M155.5 387.8h0M179.0 392.7h0M155.4 349.2h0M161.4 339.9h0M172.0 329.8h0M208.3 390.9h0M175.8 349.7h0M177.0 377.2h0M134.0 360.6h0M200.9 372.1h0M155.9 365.1h0M208.5 353.5h0M140.5 390.6h0M183.0 380.9h0" stroke-width="1.55" stroke-opacity="0.72"/><path d="M179.2 382.7h0M185.0 337.7h0M179.6 378.5h0M175.9 336.1h0M165.7 358.2h0M137.5 328.4h0M172.4 356.1h0M195.1 382.9h0M197.3 375.2h0M206.3 360.9h0M151.7 359.1h0M179.7 367.1h0M165.6 347.1h0M186.4 372.2h0M179.4 368.6h0M213.3 325.1h0M176.5 325.6h0M191.8 361.1h0M164.0 345.5h0M191.9 366.7h0M211.2 355.4h0M161.5 342.8h0M214.2 378.8h0M132.7 370.4h0M169.1 366.7h0M134.4 341.0h0M195.9 363.4h0M161.1 347.2h0M153.2 361.0h0M174.2 370.0h0M148.6 378.3h0M208.9 325.4h0M164.8 390.8h0M194.4 351.0h0M209.5 373.8h0M137.9 369.5h0M163.6 335.4h0M160.1 344.0h0M204.8 369.2h0M223.2 381.2h0M171.4 373.4h0M155.2 371.8h0M195.4 372.7h0M217.7 391.2h0M150.7 386.9h0M140.8 367.4h0M151.3 353.7h0M162.2 349.2h0M162.5 367.1h0M169.2 359.3h0M190.1 379.6h0M186.7 367.0h0M191.8 371.9h0M176.2 388.4h0M184.1 385.5h0M182.3 382.2h0M189.4 324.6h0M194.6 348.9h0M172.8 357.9h0M156.2 356.1h0M194.3 327.6h0M198.6 347.9h0M137.7 359.5h0M191.2 339.8h0M166.4 345.2h0M136.5 343.1h0M142.5 370.8h0M162.6 372.1h0M209.2 370.4h0M163.1 368.9h0M171.0 375.3h0M175.7 340.5h0M217.3 383.7h0M204.4 363.0h0M135.3 375.6h0M224.6 387.5h0M141.5 344.3h0M181.3 374.7h0M166.0 346.8h0M161.4 379.9h0M197.7 341.1h0M154.6 385.6h0M196.6 338.1h0M143.7 350.9h0M204.0 325.5h0M190.9 371.3h0M153.2 328.0h0M138.8 355.8h0M197.9 357.0h0M200.6 391.5h0M149.1 358.4h0M179.4 365.3h0M210.7 361.7h0M209.1 349.8h0M210.2 331.0h0M175.3 359.8h0M155.3 336.7h0M149.9 356.9h0M188.1 360.4h0M180.3 324.5h0M150.8 348.6h0M134.4 331.3h0M182.3 350.8h0M178.6 361.3h0M153.2 346.7h0M178.3 353.5h0M196.3 369.7h0M172.1 328.4h0M180.6 350.4h0M195.8 373.0h0M154.4 367.9h0M184.5 343.2h0M169.1 383.8h0M188.2 363.0h0M189.9 378.4h0M152.3 358.9h0M141.9 348.3h0M208.3 334.8h0M202.0 349.0h0M191.2 341.2h0M140.6 336.2h0M171.4 366.3h0M224.2 339.9h0M188.3 346.0h0M145.3 377.1h0M179.2 336.6h0M197.7 354.7h0M221.8 365.4h0M156.7 373.0h0M175.0 357.1h0M153.7 378.1h0M131.8 357.5h0M185.2 372.9h0M139.4 365.3h0M150.5 344.3h0M169.1 357.3h0M176.6 357.8h0M163.4 331.6h0M224.1 351.1h0M177.9 366.2h0M214.6 381.5h0M144.9 364.7h0M172.7 361.7h0M180.0 343.9h0M137.3 388.6h0M182.7 381.3h0M132.7 359.1h0M170.7 349.3h0M144.4 341.6h0M216.7 371.4h0M173.7 384.3h0M194.8 332.5h0M197.4 354.8h0M154.8 343.9h0M168.0 361.4h0M190.8 342.1h0M146.5 380.9h0M150.0 362.6h0M185.4 354.2h0M146.8 377.0h0M177.6 381.6h0M172.8 375.3h0M178.9 366.4h0M203.2 327.8h0M166.5 364.0h0M168.4 374.2h0M216.9 338.4h0M148.4 355.4h0M185.2 358.3h0" stroke-width="1.92" stroke-opacity="0.38"/><path d="M161.6 331.3h0M224.8 370.9h0M223.2 347.9h0M189.8 337.0h0M198.4 333.1h0M188.6 373.3h0M213.6 375.1h0M174.6 364.0h0M193.6 392.3h0M149.9 367.7h0M191.0 382.4h0M207.5 362.9h0M218.8 375.3h0M185.7 388.1h0M133.5 352.3h0M190.9 358.5h0M152.2 377.6h0M166.2 339.5h0M222.9 329.2h0M171.7 329.5h0M164.4 351.6h0M132.3 369.1h0M154.6 359.2h0M188.0 338.3h0M172.5 371.0h0M187.3 353.0h0M186.5 343.2h0M164.0 345.0h0M212.0 351.9h0M183.2 375.6h0M181.6 347.3h0M179.1 325.9h0M167.2 357.1h0M153.6 372.8h0M172.5 389.8h0M149.6 330.6h0M136.5 383.6h0M214.7 346.2h0M156.7 369.0h0M152.5 389.1h0M185.0 331.8h0M186.7 361.1h0M155.8 338.0h0M172.2 335.8h0M191.9 336.6h0M185.8 389.3h0M164.0 373.0h0M198.8 346.9h0M171.8 375.9h0M188.5 389.9h0M193.6 354.0h0M141.6 354.2h0M176.4 355.6h0M166.5 363.9h0M213.1 350.7h0M156.4 336.0h0M187.5 354.0h0M170.7 351.1h0M210.6 364.4h0M203.4 388.6h0M200.0 365.5h0M159.0 376.1h0M139.5 349.8h0M150.1 376.1h0M148.4 364.4h0M187.7 371.3h0M201.1 346.2h0M166.5 368.3h0M213.1 360.7h0M199.6 339.3h0M168.7 389.0h0M162.6 357.3h0M216.5 371.3h0M188.1 345.7h0M182.0 378.4h0M173.3 342.4h0M211.7 356.6h0M201.9 330.2h0M194.7 387.1h0M201.3 355.1h0M212.8 377.6h0M164.2 381.1h0M162.5 356.6h0M184.1 382.4h0M165.8 345.6h0M173.3 356.8h0M173.9 357.9h0M165.6 383.7h0M223.9 383.3h0M204.0 357.1h0M204.4 378.2h0M149.1 331.2h0M214.5 370.9h0M195.8 359.2h0M200.4 339.1h0M186.4 327.5h0M179.4 376.3h0M201.6 342.7h0M198.0 325.7h0M220.8 327.6h0M164.6 373.4h0M181.6 349.8h0M164.1 358.2h0M140.2 368.9h0M196.5 342.3h0M188.8 382.3h0M176.1 352.3h0M172.8 377.2h0M141.0 392.3h0M189.3 369.4h0M161.4 325.5h0M224.1 324.3h0M195.2 360.4h0M166.4 386.1h0M191.6 375.8h0M218.3 352.0h0M207.4 364.5h0M163.3 368.3h0M180.0 378.0h0M177.1 371.6h0M201.3 344.5h0M207.5 377.9h0M158.4 340.8h0M192.4 333.6h0M170.7 372.9h0M207.2 382.6h0M190.0 353.3h0M162.2 377.1h0M142.0 353.4h0M175.2 354.7h0M139.2 328.4h0M204.2 347.1h0M195.0 348.8h0M202.1 346.9h0M189.6 334.1h0M145.5 330.9h0M202.6 391.8h0M202.1 371.2h0M177.0 341.7h0M190.9 338.9h0M151.6 377.8h0M221.7 351.6h0M168.6 338.1h0M150.8 372.5h0M176.3 360.5h0M212.3 361.4h0M184.2 339.8h0M216.8 337.7h0M180.9 367.9h0M211.5 337.9h0M170.9 369.5h0M204.3 392.2h0M168.8 369.4h0M200.8 341.5h0M202.2 372.6h0M133.4 367.5h0M196.0 382.1h0M207.1 364.4h0M137.0 344.1h0M218.8 357.3h0M209.5 330.7h0M145.1 343.6h0M166.7 391.2h0" stroke-width="1.92" stroke-opacity="0.55"/><path d="M158.0 367.0h0M216.5 367.3h0M217.5 363.3h0M164.1 344.0h0M192.3 352.3h0M211.6 375.8h0M157.1 339.0h0M179.6 371.0h0M185.2 356.9h0M190.2 346.0h0M168.8 391.1h0M172.7 339.9h0M185.2 390.0h0M147.6 331.0h0M222.8 389.1h0M174.0 377.7h0M142.2 334.0h0M174.1 368.7h0M155.6 374.1h0M134.6 339.6h0M160.8 340.0h0M160.8 368.2h0M208.5 339.3h0M148.2 335.1h0M150.2 330.7h0M174.2 366.3h0M180.7 370.1h0M193.7 379.4h0M165.4 372.8h0M188.3 336.5h0M190.3 357.6h0M175.0 378.8h0M155.0 368.9h0M189.4 325.5h0M176.0 377.7h0M176.8 338.4h0M149.7 337.4h0M154.3 348.6h0M157.9 342.0h0M131.8 330.2h0M209.6 365.1h0M191.0 334.5h0M168.6 353.5h0M185.2 387.5h0M181.3 342.7h0M131.6 375.5h0M159.6 367.5h0M190.2 353.2h0M216.1 383.1h0M191.1 372.9h0M185.4 365.5h0M164.6 380.6h0M195.9 342.6h0M191.9 369.4h0M134.2 386.9h0M190.3 350.9h0M160.8 360.0h0M162.0 368.3h0M177.2 379.7h0M146.7 328.1h0M155.1 379.7h0M200.4 389.7h0M197.6 364.2h0M178.3 349.2h0M157.5 373.8h0M208.4 342.9h0M165.8 376.3h0M189.6 350.3h0M182.6 382.1h0M182.2 377.9h0M131.9 334.2h0M204.9 362.2h0M182.4 350.1h0M162.5 375.8h0M222.2 386.7h0M194.2 386.9h0M156.8 357.1h0M148.1 356.8h0M199.1 332.1h0M224.5 380.7h0M153.8 350.2h0M209.4 362.6h0M140.0 380.6h0M151.4 362.0h0M194.8 352.0h0M189.8 365.3h0M209.3 375.1h0M216.3 356.1h0M165.1 338.4h0M158.3 343.4h0M221.4 377.8h0M138.4 379.8h0M148.4 328.6h0M155.3 367.4h0M184.8 372.4h0M210.1 337.2h0M144.3 376.0h0M194.5 326.3h0M205.8 383.3h0M163.2 328.1h0M192.4 377.4h0M204.8 384.4h0M157.6 364.8h0M193.2 337.9h0M157.2 371.6h0M171.7 384.4h0M190.7 391.6h0M152.3 370.9h0M175.6 365.2h0M162.3 344.8h0M181.3 363.8h0M175.8 348.0h0M206.2 386.6h0M136.0 345.7h0M169.2 363.0h0M210.6 365.8h0M137.3 389.3h0M183.8 384.4h0M221.5 380.6h0M159.2 388.4h0M181.3 353.8h0M198.0 336.7h0M175.1 392.5h0M207.3 362.3h0M206.3 365.7h0M149.0 364.5h0M162.4 378.3h0M205.4 365.6h0M154.5 369.0h0M178.5 373.7h0M170.4 358.7h0M171.5 339.6h0M211.2 330.0h0M213.7 346.9h0M142.1 328.8h0M154.6 364.1h0M167.2 368.7h0M177.9 357.9h0M196.7 343.4h0M218.3 343.1h0M163.5 328.3h0M161.4 333.6h0M157.0 378.2h0M221.5 328.3h0M150.9 340.8h0M167.2 329.2h0M213.1 381.3h0M156.2 336.9h0M181.7 359.4h0M165.8 353.1h0M162.7 327.9h0M185.8 334.0h0M142.2 372.0h0M182.5 338.4h0M162.1 392.9h0M140.1 356.1h0M172.1 366.2h0M177.5 357.2h0M181.3 359.3h0M145.1 356.1h0M144.3 382.1h0M138.3 348.9h0M186.1 339.7h0M178.0 345.7h0M175.6 362.9h0M172.3 377.7h0M155.0 353.0h0M149.4 358.0h0M136.7 380.9h0M179.6 366.8h0M159.2 325.2h0" stroke-width="1.92" stroke-opacity="0.72"/></g><ellipse cx="178" cy="364" rx="20" ry="15" fill="url(#g31)"/></g><g clip-path="url(#c38)"><rect x="228" y="324" width="92" height="69" fill="#9c94b4"/><g><rect x="228" y="324" width="92" height="69" filter="url(#f33)"/></g><ellipse cx="278" cy="364" rx="34" ry="28" fill="url(#g34)"/><g fill="none" stroke="#5a5268" stroke-linecap="round" filter="url(#b2)"><path d="M269.4 369.2h0M280.2 355.2h0M275.8 359.3h0M249.2 347.9h0M272.3 376.5h0M237.6 368.4h0M258.9 360.6h0M252.4 383.9h0M284.2 380.7h0M273.3 352.7h0M287.2 353.3h0M299.7 365.0h0M272.8 364.5h0M255.3 330.6h0M252.6 374.7h0M300.9 348.9h0M277.5 355.4h0M281.8 374.2h0M244.2 335.7h0M314.6 362.3h0M264.3 391.2h0M315.6 325.2h0M293.7 367.4h0M272.1 338.7h0M260.9 368.8h0M232.3 356.3h0M269.5 381.5h0M274.9 380.4h0M303.8 353.3h0M277.0 362.7h0M289.4 371.5h0M266.2 389.0h0M280.0 345.8h0M297.3 363.2h0M251.5 347.3h0M270.4 386.9h0M304.8 325.8h0M275.7 334.1h0M311.2 339.8h0M279.9 352.8h0M262.5 369.0h0M317.3 370.8h0M269.4 389.3h0M275.1 378.3h0M279.5 341.9h0M270.6 362.8h0M309.3 372.8h0M263.2 377.1h0M285.8 351.5h0M285.9 348.9h0M276.7 365.7h0M251.8 392.8h0M301.8 347.3h0M294.7 356.4h0M297.0 376.1h0M262.0 359.6h0M283.7 354.4h0M289.7 366.4h0M282.4 379.7h0M304.9 351.6h0M270.0 372.8h0M270.9 344.1h0M274.3 376.9h0M294.4 331.0h0M275.3 379.0h0M299.1 336.9h0M275.6 374.0h0M299.8 347.3h0M255.3 383.9h0M290.9 373.4h0M273.7 371.6h0M285.5 387.4h0" stroke-width="1.05" stroke-opacity="0.27"/><path d="M247.7 335.3h0M261.5 355.9h0M273.2 351.3h0M281.2 375.2h0M289.1 390.8h0M274.3 390.0h0M264.1 344.6h0M232.3 377.5h0M281.8 343.2h0M253.1 370.6h0M267.1 350.1h0M278.0 356.6h0M320.0 353.3h0M257.3 373.9h0M260.3 357.4h0M275.0 370.6h0M275.5 362.8h0M265.9 352.4h0M311.4 362.2h0M304.7 347.6h0M302.1 375.6h0M294.1 360.9h0M235.1 338.5h0M273.8 348.9h0M275.0 381.5h0M228.8 365.3h0M252.1 357.6h0M306.4 347.5h0M265.7 388.5h0M229.9 372.2h0M275.1 389.3h0M260.0 373.1h0M258.8 350.0h0M287.9 373.2h0M274.6 361.0h0M262.9 358.0h0M260.4 348.8h0M295.0 333.9h0M276.9 349.5h0M282.4 355.3h0M267.4 332.4h0M270.3 357.5h0M258.1 355.3h0M274.9 389.2h0M294.0 377.6h0M304.2 361.0h0M287.6 365.6h0M294.7 349.0h0M302.1 359.6h0M265.5 378.3h0M308.7 361.7h0M260.3 356.1h0M286.0 348.1h0M290.2 369.4h0M289.9 331.6h0M287.2 378.3h0M255.3 354.3h0M289.3 354.6h0M265.0 341.2h0M254.8 378.2h0M266.1 355.2h0M279.1 349.7h0M257.0 348.5h0" stroke-width="1.05" stroke-opacity="0.40"/><path d="M257.6 333.6h0M286.7 359.4h0M301.9 346.2h0M306.2 377.8h0M295.0 367.8h0M302.6 372.7h0M278.6 334.0h0M298.3 324.0h0M265.8 353.9h0M306.8 364.6h0M276.0 364.0h0M252.3 365.4h0M274.9 360.9h0M274.1 372.3h0M309.0 369.3h0M259.5 389.0h0M249.5 364.1h0M265.9 390.8h0M302.8 359.7h0M288.8 377.1h0M306.7 366.9h0M275.5 364.1h0M282.7 355.4h0M292.4 335.4h0M317.6 368.0h0M271.5 380.1h0M263.6 385.7h0M273.7 375.3h0M261.0 366.0h0M263.9 377.4h0M309.9 351.5h0M284.9 335.4h0M280.8 390.9h0M263.6 352.3h0M263.9 360.2h0M291.8 363.6h0M290.3 344.9h0M262.3 378.3h0M258.8 360.5h0M284.9 376.9h0M293.2 347.4h0M288.6 359.7h0M311.0 379.2h0M272.5 371.7h0M297.4 344.5h0M266.2 371.4h0M268.6 385.4h0M284.8 358.3h0M280.1 332.0h0M253.2 375.2h0M296.0 379.8h0M294.6 344.2h0M288.0 375.4h0M248.6 382.9h0M280.6 340.4h0M308.1 339.9h0M282.4 350.4h0M281.9 364.9h0M303.1 362.3h0M281.2 339.2h0M285.9 382.0h0M232.0 349.6h0M255.7 359.0h0M272.2 354.1h0M260.7 368.3h0M283.0 335.6h0M290.5 339.9h0M247.1 341.3h0M278.2 350.0h0M261.4 365.7h0M258.8 385.1h0M278.6 369.5h0M273.4 376.8h0M261.3 382.0h0M306.8 364.9h0M271.9 381.6h0M229.8 326.4h0M299.6 359.1h0M304.2 363.1h0M310.1 372.0h0M264.5 373.1h0M282.0 384.9h0M289.3 382.3h0M301.6 374.7h0" stroke-width="1.05" stroke-opacity="0.53"/><path d="M265.5 369.8h0M308.5 375.8h0M268.4 373.2h0M271.5 360.6h0M278.1 375.9h0M240.0 389.7h0M289.6 379.2h0M276.5 372.9h0M302.3 383.3h0M270.2 383.1h0M294.1 348.4h0M234.0 384.4h0M259.3 327.0h0M281.6 332.0h0M270.5 349.0h0M259.9 355.2h0M284.6 345.7h0M276.1 366.3h0M260.3 361.2h0M243.1 346.7h0M266.6 365.7h0M264.9 344.6h0M278.0 368.4h0M294.1 351.0h0M233.9 341.3h0M317.9 368.4h0M284.6 389.1h0M306.9 355.5h0M259.4 370.5h0M291.1 354.4h0M312.3 374.6h0M293.4 378.1h0M228.6 380.3h0M261.1 357.9h0M290.4 337.4h0M288.9 367.9h0M297.2 374.2h0M292.4 348.5h0M286.8 327.2h0M286.0 357.7h0M288.4 383.9h0M285.9 353.1h0M279.2 333.9h0M296.1 390.8h0M266.0 372.3h0M272.3 357.9h0M250.1 351.9h0M283.6 371.8h0M276.6 358.1h0M306.2 353.7h0M294.6 373.5h0M280.7 350.9h0M296.8 335.5h0M287.9 371.8h0M262.9 339.9h0M252.8 371.5h0M294.2 376.3h0M262.4 363.2h0M286.6 358.2h0M263.7 367.3h0M258.5 363.9h0M263.7 382.4h0M272.3 363.1h0M269.1 348.1h0M257.0 351.4h0M300.8 379.7h0M283.6 350.3h0M277.6 390.9h0M268.2 346.4h0M289.2 349.1h0" stroke-width="1.35" stroke-opacity="0.27"/><path d="M268.2 374.6h0M307.6 361.1h0M315.2 375.5h0M251.2 339.1h0M274.3 339.8h0M304.9 351.7h0M279.6 371.6h0M252.7 343.7h0M276.3 349.9h0M271.0 357.7h0M287.2 360.7h0M267.9 367.6h0M263.6 386.2h0M284.4 369.0h0M252.3 347.7h0M265.1 383.8h0M291.5 374.1h0M254.0 371.0h0M251.4 380.4h0M305.6 375.9h0M273.8 355.4h0M295.8 365.5h0M315.7 360.0h0M265.1 363.9h0M295.2 370.0h0M280.4 362.6h0M251.6 334.0h0M234.9 372.0h0M271.6 358.4h0M297.7 374.7h0M271.1 364.3h0M281.0 368.6h0M246.1 341.9h0M292.6 378.0h0M277.2 352.1h0M277.3 367.4h0M276.3 370.5h0M269.0 355.7h0M292.3 354.1h0M284.3 327.0h0M247.9 363.8h0M284.4 365.9h0M247.0 354.3h0M284.9 351.3h0M263.1 391.0h0M246.3 324.2h0M281.6 384.7h0M301.3 371.7h0M280.6 367.6h0M319.5 373.6h0M268.3 386.2h0M288.3 366.3h0M294.8 390.6h0M312.1 353.6h0M299.5 376.1h0M248.2 325.3h0M307.2 372.3h0M268.2 349.3h0M305.3 353.4h0M266.2 363.0h0M304.4 377.5h0M277.1 342.7h0M291.7 351.5h0M260.4 375.3h0M279.8 370.8h0M281.6 340.0h0M270.0 378.3h0M289.3 359.6h0M260.7 356.7h0M285.3 361.8h0M259.3 370.0h0M246.7 352.8h0M252.6 365.0h0M258.2 345.6h0M302.6 363.9h0M298.0 379.0h0M256.2 361.4h0M279.6 387.9h0M297.3 372.4h0" stroke-width="1.35" stroke-opacity="0.40"/><path d="M283.1 373.2h0M310.2 380.7h0M282.0 371.6h0M260.2 357.1h0M315.5 352.6h0M299.8 350.8h0M312.3 344.8h0M271.5 367.0h0M302.8 367.9h0M298.6 362.8h0M299.7 334.4h0M279.5 354.8h0M271.8 342.8h0M254.2 357.8h0M286.5 353.8h0M266.2 377.3h0M268.4 328.7h0M269.0 359.2h0M271.7 324.3h0M273.1 372.4h0M282.5 347.7h0M265.3 357.9h0M284.4 337.0h0M284.5 371.3h0M249.6 359.5h0M285.7 379.3h0M290.7 356.8h0M276.7 349.5h0M297.4 366.4h0M253.4 372.8h0M295.4 369.9h0M318.6 371.0h0M296.8 350.8h0M278.5 389.9h0M299.2 357.3h0M231.2 327.0h0M314.7 352.0h0M305.9 347.4h0M257.7 362.9h0M301.9 344.9h0M282.8 388.7h0M297.5 353.7h0M245.2 384.1h0M287.0 362.5h0M301.7 371.6h0M280.9 356.7h0M270.7 381.3h0M234.2 349.3h0M269.7 392.0h0M240.8 355.6h0M255.9 331.7h0M304.3 386.3h0M246.3 369.2h0M275.3 351.0h0M271.2 344.3h0M298.0 348.5h0M274.2 331.6h0M283.3 371.9h0M275.1 342.8h0M275.9 335.4h0M296.0 354.8h0M275.9 370.1h0M268.5 344.3h0M313.9 374.0h0M270.1 380.8h0M277.1 366.4h0M296.5 364.5h0M251.0 362.3h0" stroke-width="1.35" stroke-opacity="0.53"/><path d="M268.4 334.7h0M288.2 366.8h0M284.0 352.9h0M293.9 372.9h0M242.7 381.2h0M254.7 351.4h0M289.7 354.6h0M242.5 377.4h0M287.1 343.8h0M283.6 344.1h0M281.4 347.9h0M276.6 355.7h0M268.3 366.0h0M305.9 369.1h0M285.9 368.1h0M264.1 351.0h0M276.8 388.9h0M257.7 353.2h0M251.4 366.3h0M255.6 364.3h0M272.2 356.0h0M282.4 359.2h0M265.9 391.4h0M312.5 357.5h0M274.8 360.8h0M238.1 356.4h0M270.3 343.8h0M276.7 373.6h0M264.4 369.3h0M255.9 359.1h0M280.9 373.9h0M286.9 389.3h0M282.1 390.5h0M277.0 380.6h0M270.9 361.4h0M250.4 379.7h0M286.3 358.9h0M243.2 362.5h0M253.2 354.2h0M271.3 370.1h0M266.7 379.1h0M278.0 360.2h0M294.1 334.3h0M264.9 376.0h0M282.3 388.7h0M260.8 352.8h0M278.0 387.3h0M232.4 389.6h0M269.7 354.8h0M304.9 350.0h0M290.2 334.3h0M286.0 345.3h0M296.0 381.5h0M282.0 339.9h0M286.9 376.6h0M288.4 343.5h0M243.5 353.7h0M279.9 391.5h0M319.1 358.0h0M297.3 367.4h0M293.6 358.1h0M297.9 345.1h0M261.5 389.1h0M281.2 352.5h0M293.0 363.4h0M271.9 380.9h0" stroke-width="1.65" stroke-opacity="0.27"/><path d="M263.1 339.9h0M291.5 362.2h0M267.2 375.4h0M299.9 368.7h0M298.3 380.7h0M291.4 351.1h0M292.1 359.1h0M273.8 365.4h0M291.7 380.8h0M257.8 389.0h0M273.7 355.8h0M283.8 339.3h0M299.6 346.7h0M283.5 355.1h0M272.7 355.2h0M281.4 332.3h0M288.6 362.3h0M285.2 347.5h0M298.6 378.7h0M308.0 352.1h0M278.5 387.7h0M299.9 351.2h0M290.9 342.3h0M280.3 342.6h0M270.2 355.5h0M264.0 361.5h0M255.3 375.9h0M280.5 378.8h0M293.6 335.4h0M237.5 359.1h0M275.4 337.3h0M297.8 364.7h0M292.5 347.9h0M267.4 365.1h0M250.3 342.1h0M241.8 341.2h0M269.0 362.1h0M291.4 348.3h0M283.2 368.7h0M272.0 359.4h0M284.0 367.8h0M273.2 360.2h0M284.0 382.5h0M251.7 348.5h0M269.6 358.6h0M264.0 328.9h0M302.5 354.9h0M318.1 379.9h0M232.9 352.0h0M296.7 368.6h0M273.2 357.0h0M270.3 367.7h0M259.0 336.4h0M231.2 354.4h0M270.8 355.1h0M258.1 356.0h0M296.0 373.5h0M245.9 374.0h0M314.8 369.5h0M242.4 328.3h0M244.6 383.0h0M243.8 377.4h0M243.5 381.1h0M258.5 356.1h0M243.7 341.6h0M293.3 338.2h0M272.8 364.8h0M286.1 338.1h0M311.7 365.4h0M308.7 361.1h0M315.2 363.1h0M271.2 338.8h0M275.1 360.7h0M269.3 332.1h0M268.8 365.7h0M307.6 374.0h0M288.8 352.7h0M284.8 356.7h0M264.5 362.4h0M274.0 364.3h0" stroke-width="1.65" stroke-opacity="0.40"/><path d="M307.8 382.0h0M239.5 370.2h0M285.0 366.0h0M282.8 348.3h0M253.7 364.5h0M291.1 360.7h0M284.9 366.6h0M275.4 386.1h0M229.5 351.7h0M258.9 342.0h0M286.8 355.2h0M303.6 380.0h0M276.9 354.5h0M284.3 352.8h0M280.3 362.2h0M255.5 351.8h0M262.8 356.6h0M251.7 349.2h0M303.2 359.9h0M265.6 352.0h0M267.6 371.5h0M312.3 378.6h0M257.7 325.2h0M258.5 370.5h0M300.7 366.4h0M241.6 355.6h0M275.1 353.4h0M275.1 366.2h0M254.7 385.4h0M274.7 386.6h0M287.9 370.7h0M298.3 374.4h0M289.9 363.7h0M275.6 366.9h0M269.4 350.2h0M248.4 374.7h0M274.3 340.3h0M317.6 331.5h0M248.2 375.3h0M303.5 348.6h0M248.2 374.5h0M307.5 371.1h0M261.2 383.7h0M246.3 366.0h0M262.3 381.3h0M278.8 372.9h0M254.8 368.0h0M257.0 386.2h0M260.2 370.7h0M293.3 341.2h0M272.3 373.2h0M234.4 365.4h0M231.8 359.5h0M281.6 350.5h0M273.5 374.8h0M274.8 378.1h0M293.9 378.9h0M273.4 361.5h0M265.1 357.0h0M276.2 358.3h0M269.9 328.3h0M234.2 363.9h0M271.4 378.5h0M269.4 361.7h0M284.7 366.5h0M288.0 351.8h0M286.9 333.4h0M254.0 351.8h0" stroke-width="1.65" stroke-opacity="0.53"/></g><ellipse cx="275" cy="364" rx="7" ry="6" fill="url(#g35)"/><ellipse cx="281" cy="357" rx="5" ry="4" fill="url(#g36)"/><ellipse cx="282" cy="369" rx="5" ry="4" fill="url(#g37)"/></g><g clip-path="url(#c41)"><rect x="322.5" y="324" width="94.0" height="69" fill="#3b3745"/><ellipse cx="371.5" cy="364" rx="36" ry="30" fill="url(#g39)"/><g fill="none" stroke="#aaa6c2" stroke-linecap="round" filter="url(#b12)"><path d="M357.5 361.8h0M324.6 355.9h0M337.8 347.5h0M412.3 349.2h0M396.6 391.0h0M344.9 331.6h0M382.3 351.9h0M329.1 375.1h0M386.7 371.8h0M364.9 375.9h0M350.8 362.5h0M383.1 385.0h0M357.6 346.9h0M401.5 387.1h0M380.8 339.0h0M384.9 345.6h0M370.2 368.3h0M366.2 375.2h0M363.6 374.0h0M331.0 380.6h0M401.8 334.7h0M384.0 378.6h0M405.7 361.6h0M365.5 376.6h0M413.1 341.5h0M402.4 358.5h0M352.8 373.4h0M355.5 340.9h0M369.5 344.5h0M391.5 373.2h0M341.0 372.4h0M366.6 349.0h0" stroke-width="1.40" stroke-opacity="0.31"/><path d="M397.5 351.1h0M342.3 341.4h0M369.7 360.7h0M374.6 354.4h0M381.5 374.6h0M385.7 371.8h0M349.3 388.6h0M364.8 333.6h0M412.0 358.2h0M414.1 333.8h0M382.1 389.1h0M395.1 365.9h0M415.4 342.3h0M357.4 358.8h0M384.4 354.8h0M369.7 387.5h0M343.9 369.1h0M396.0 351.7h0M363.5 378.4h0M397.2 374.6h0M365.2 345.6h0M415.0 348.5h0M376.6 387.4h0M415.7 339.3h0M332.4 346.4h0M389.4 337.6h0M382.0 349.1h0M336.5 332.6h0M368.0 378.7h0M407.1 364.5h0M382.4 361.5h0" stroke-width="1.40" stroke-opacity="0.42"/><path d="M349.7 334.0h0M347.4 381.2h0M390.6 335.7h0M332.5 362.7h0M389.8 384.7h0M369.8 360.9h0M362.7 343.0h0M394.4 355.6h0M394.6 326.8h0M386.3 336.8h0M398.2 390.7h0M352.5 326.5h0M356.4 376.8h0M341.7 367.1h0M353.2 384.7h0M381.9 343.8h0M405.7 340.4h0M371.6 335.1h0M376.5 375.7h0M388.1 348.3h0M346.3 353.4h0M346.0 331.0h0M369.3 361.2h0M370.5 357.4h0M377.6 367.8h0M327.6 363.2h0M345.3 374.6h0M376.5 354.3h0M386.2 356.1h0M377.9 337.1h0M383.3 392.0h0M381.5 333.9h0M347.5 352.4h0M343.0 363.4h0M398.8 364.2h0M379.8 363.3h0M344.9 362.4h0M350.3 377.3h0M363.9 374.7h0M372.3 380.3h0M355.3 355.0h0M358.7 351.8h0M337.2 372.7h0M351.7 350.9h0M379.6 327.3h0M392.8 381.2h0M361.2 337.9h0M346.1 341.0h0M400.6 375.2h0" stroke-width="1.40" stroke-opacity="0.54"/><path d="M328.0 359.0h0M403.7 372.0h0M401.5 333.5h0M349.8 358.5h0M349.0 340.7h0M367.1 358.7h0M342.2 389.2h0M364.9 344.8h0M377.3 350.8h0M385.0 389.5h0M395.8 355.6h0M387.7 358.5h0M398.6 367.8h0M347.4 340.2h0M375.3 341.8h0M367.2 352.5h0M356.6 362.9h0M337.2 365.2h0M406.6 370.1h0M369.6 343.3h0M405.6 385.0h0M365.8 361.8h0M377.3 390.2h0" stroke-width="1.80" stroke-opacity="0.31"/><path d="M386.5 353.5h0M399.4 375.1h0M363.1 358.2h0M367.5 371.2h0M389.5 386.2h0M361.3 352.6h0M409.5 339.6h0M389.2 354.8h0M374.0 328.4h0M365.8 335.2h0M400.4 336.6h0M326.1 381.8h0M381.4 345.1h0M334.6 353.7h0M332.5 348.6h0M388.0 374.8h0M402.5 366.7h0M394.1 391.5h0M396.5 367.3h0M372.5 376.1h0M346.0 353.2h0M348.9 340.9h0M361.9 390.3h0M356.6 368.5h0M395.5 347.4h0M409.4 366.9h0M412.4 359.5h0M371.1 371.3h0M362.1 334.8h0M377.6 370.1h0M342.5 384.2h0M347.9 377.3h0M352.7 369.7h0M385.5 340.4h0" stroke-width="1.80" stroke-opacity="0.42"/><path d="M349.6 391.6h0M394.7 332.9h0M365.6 364.3h0M374.8 346.5h0M395.7 342.7h0M414.4 388.6h0M367.0 364.5h0M345.9 331.5h0M351.1 332.8h0M357.5 387.4h0M383.9 392.4h0M351.9 363.1h0M337.6 378.2h0M345.4 334.3h0M375.4 348.2h0M384.7 375.2h0M386.0 388.2h0M373.4 373.5h0M410.8 370.7h0M369.1 342.9h0M378.1 383.4h0M399.1 382.5h0M349.6 340.8h0M358.5 364.4h0M379.6 350.2h0M369.1 389.5h0M334.4 373.5h0M401.4 344.4h0" stroke-width="1.80" stroke-opacity="0.54"/><path d="M387.4 359.6h0M354.4 337.5h0M413.9 361.7h0M366.2 356.2h0M392.0 358.8h0M399.6 339.9h0M355.5 389.9h0M346.1 353.7h0M396.0 329.5h0M350.1 363.1h0M416.2 349.1h0M337.4 385.9h0M386.4 385.8h0M380.4 353.8h0M355.1 381.4h0M342.2 371.2h0M356.9 356.7h0M363.4 353.1h0M336.8 325.1h0M362.2 364.5h0M338.3 340.5h0M389.9 337.5h0M352.4 386.3h0M372.4 361.1h0M399.3 326.1h0M361.1 332.4h0M343.9 355.2h0M355.5 352.5h0M353.9 380.3h0" stroke-width="2.20" stroke-opacity="0.31"/><path d="M376.4 384.4h0M377.0 355.5h0M332.0 349.1h0M374.1 333.0h0M346.9 352.9h0M370.2 362.8h0M380.1 358.9h0M396.2 385.9h0M399.5 341.8h0M388.3 330.2h0M344.4 364.4h0M375.0 367.3h0M371.8 389.7h0M405.9 372.5h0M345.8 340.9h0M382.6 330.3h0M414.2 357.3h0M391.3 380.2h0M372.4 367.9h0M377.0 384.9h0M359.6 379.0h0M381.8 371.8h0M336.1 325.9h0M335.8 326.0h0M389.8 349.4h0M379.2 351.9h0M410.9 360.4h0M350.2 361.8h0M382.0 325.0h0M372.4 375.2h0M366.5 362.8h0M380.0 366.6h0M368.2 363.1h0M381.6 355.2h0M354.5 333.7h0M360.9 373.8h0M404.5 342.4h0M399.3 383.7h0M371.2 375.0h0M334.5 384.1h0M368.3 354.4h0M347.5 368.6h0M334.9 343.1h0" stroke-width="2.20" stroke-opacity="0.42"/><path d="M345.4 363.6h0M336.8 357.7h0M348.7 352.7h0M372.0 388.4h0M387.1 391.8h0M345.9 351.6h0M404.6 325.5h0M352.2 343.0h0M358.6 332.5h0M326.3 367.9h0M358.0 389.6h0M412.4 387.2h0M396.1 373.4h0M332.8 367.9h0M326.1 361.5h0M382.4 369.5h0M379.7 377.9h0M365.8 388.3h0M375.8 344.2h0M357.9 371.3h0M396.9 355.7h0M335.6 354.9h0M371.7 372.5h0M369.9 325.4h0M355.6 370.6h0M360.2 362.7h0M400.1 359.4h0M386.8 348.1h0M334.5 376.6h0M385.2 365.3h0M415.8 375.8h0" stroke-width="2.20" stroke-opacity="0.54"/></g><ellipse cx="371.5" cy="358" rx="8" ry="8" fill="url(#g40)"/></g><g clip-path="url(#c44)"><rect x="419.25" y="324" width="93.75" height="69" fill="#4c4758"/><ellipse cx="483.25" cy="356" rx="58" ry="50" fill="url(#g42)"/><g fill="none" stroke="#b4aec8" stroke-linecap="round" filter="url(#b2)"><path d="M488.5 384.4h0M471.0 347.7h0M476.3 362.4h0M464.5 381.8h0M504.2 333.2h0M449.1 392.5h0M483.2 342.0h0M463.0 354.1h0M503.6 375.5h0M497.2 342.3h0M450.0 338.9h0M495.9 359.9h0M453.4 337.7h0M431.4 350.7h0M489.2 374.3h0M456.6 354.4h0M430.1 360.8h0M489.6 353.2h0M500.4 368.4h0M443.7 371.8h0M496.2 356.0h0M458.3 339.7h0M464.3 341.9h0M473.4 352.1h0M475.5 325.4h0M464.2 346.4h0M508.7 379.5h0M468.9 366.2h0M445.9 339.3h0M472.4 360.8h0M492.4 332.0h0M467.5 382.8h0M507.6 379.4h0M471.3 392.3h0M468.7 339.2h0M467.9 348.9h0M444.5 339.9h0M466.9 355.3h0M486.1 364.8h0M502.9 342.9h0M510.3 355.0h0M463.9 330.4h0M439.8 358.1h0M466.6 363.4h0M454.1 355.2h0M475.6 374.3h0M468.8 363.2h0M461.7 344.3h0M511.1 350.1h0M475.3 339.3h0M420.4 351.7h0M465.7 343.7h0M446.5 352.7h0M460.0 370.1h0M448.9 348.8h0M454.1 379.1h0M495.5 382.3h0M510.5 368.9h0M485.0 343.5h0M449.9 381.3h0M504.2 385.5h0M502.1 356.8h0M498.7 330.5h0M498.6 388.1h0M487.8 325.8h0M510.2 367.5h0M484.9 341.8h0M495.2 371.3h0M510.3 388.1h0M433.1 354.3h0M475.4 371.4h0M479.5 326.7h0M503.3 334.0h0M508.5 369.1h0M464.7 356.6h0M486.5 356.0h0M507.5 338.3h0M459.1 378.3h0M503.8 381.4h0M438.6 368.9h0M506.6 324.2h0M475.7 360.8h0M502.7 352.4h0M445.9 347.2h0M427.4 376.0h0M432.4 359.2h0M457.2 387.4h0M484.6 363.3h0M470.7 333.3h0M486.6 364.1h0M469.0 362.3h0M478.1 329.2h0M506.1 361.3h0M460.8 365.6h0M457.9 346.7h0M439.7 353.8h0M465.8 367.0h0M437.3 366.8h0M471.9 330.6h0M431.7 366.1h0M451.7 369.6h0M467.4 338.3h0M433.8 349.8h0M488.7 340.8h0M452.1 340.0h0M456.3 380.2h0M500.2 327.8h0M512.2 341.8h0M434.2 372.0h0M476.8 357.5h0M469.4 368.1h0M420.3 376.4h0M472.0 360.5h0M428.1 339.3h0M472.9 339.0h0M501.9 367.4h0M507.7 391.8h0M482.5 335.3h0M496.4 340.3h0M496.5 349.7h0M484.9 369.9h0M463.9 374.9h0M504.9 376.3h0M501.7 384.1h0M475.2 351.3h0M457.6 366.1h0M441.8 385.4h0M491.6 391.3h0M482.9 386.3h0M467.2 343.8h0M481.3 363.6h0M466.2 384.5h0M461.2 366.8h0M471.1 391.8h0M484.3 344.4h0M478.1 326.8h0M450.2 324.8h0M509.7 339.0h0M509.2 388.2h0M501.7 368.1h0M488.5 391.2h0M450.9 361.5h0M462.1 371.3h0M471.0 356.6h0M498.3 328.0h0M468.7 375.5h0M421.2 330.0h0M473.7 389.9h0M510.3 389.8h0M451.1 342.5h0M500.8 382.8h0M480.5 329.0h0M489.0 358.8h0M445.4 361.9h0M464.5 379.8h0M451.9 388.8h0M502.9 384.8h0M433.7 337.4h0M449.6 333.4h0M475.5 364.8h0M479.3 343.0h0M488.8 335.8h0M490.6 377.7h0M493.0 324.5h0M427.7 340.2h0M459.2 358.9h0M445.4 380.8h0M492.9 361.8h0M462.1 359.9h0M445.9 343.3h0M490.7 346.3h0M448.8 378.2h0M443.4 327.7h0M500.4 354.7h0M463.6 385.5h0M503.5 368.5h0M469.9 371.1h0M483.2 382.6h0M465.4 347.7h0M484.5 389.3h0M465.4 373.6h0M427.3 388.7h0M493.6 391.1h0M495.2 385.6h0M492.5 362.8h0M484.9 338.3h0M460.4 351.0h0M506.7 364.9h0M506.4 373.2h0M461.8 363.8h0M467.8 356.3h0M511.9 355.2h0M471.6 365.1h0M508.8 338.0h0M491.7 384.4h0M500.9 365.8h0M499.9 331.6h0M480.3 324.7h0M498.3 364.5h0M464.8 375.0h0M488.2 334.0h0M501.6 352.3h0M479.6 348.8h0M503.5 344.5h0M484.0 328.6h0M423.7 331.3h0M489.2 355.7h0M508.0 330.3h0M488.2 337.1h0M487.3 392.0h0M505.8 329.2h0M478.1 377.2h0M491.5 372.2h0M452.2 345.5h0M509.3 328.0h0M490.9 362.0h0M442.3 338.5h0M510.3 360.9h0M506.2 357.8h0M498.4 348.7h0M451.8 362.0h0M462.1 380.1h0M441.4 344.5h0M471.5 372.2h0M502.2 325.0h0M432.5 348.3h0M463.2 356.3h0M499.2 374.0h0M427.7 381.9h0M449.0 392.3h0M510.4 373.0h0M500.3 326.4h0M468.5 383.4h0M454.0 339.7h0M493.5 345.2h0M449.0 373.1h0M500.6 381.0h0M506.3 340.2h0" stroke-width="1.18" stroke-opacity="0.43"/><path d="M480.7 332.7h0M512.0 324.4h0M498.5 334.6h0M495.2 388.5h0M450.9 342.6h0M437.0 342.6h0M503.2 359.5h0M459.6 350.1h0M477.8 382.5h0M492.0 373.7h0M462.5 371.8h0M487.0 326.1h0M463.6 377.2h0M464.3 383.3h0M472.4 388.0h0M489.0 345.2h0M464.8 367.7h0M480.0 368.2h0M512.0 378.3h0M503.5 368.0h0M499.3 349.4h0M510.8 348.9h0M505.4 371.9h0M488.7 351.0h0M510.3 390.7h0M490.0 338.0h0M497.3 327.3h0M498.4 353.1h0M496.0 337.2h0M473.2 389.4h0M434.3 351.6h0M466.2 327.2h0M448.3 357.5h0M494.7 381.9h0M474.0 360.2h0M496.8 334.9h0M495.8 329.3h0M501.4 388.7h0M449.2 352.8h0M449.3 347.3h0M492.0 354.2h0M467.8 369.7h0M484.0 354.1h0M500.5 347.9h0M473.4 326.9h0M440.0 383.3h0M504.1 357.2h0M420.4 372.2h0M479.0 367.6h0M449.6 366.9h0M458.4 359.1h0M479.0 377.4h0M460.0 343.4h0M460.6 362.2h0M469.1 383.8h0M493.3 387.8h0M450.3 368.2h0M470.2 342.7h0M506.2 327.9h0M494.3 359.4h0M486.7 326.4h0M510.0 368.1h0M505.4 384.9h0M465.5 345.7h0M482.0 387.1h0M492.8 350.2h0M497.7 342.1h0M508.4 346.5h0M451.7 351.7h0M474.1 391.2h0M452.0 328.4h0M503.7 345.2h0M443.0 392.3h0M485.8 338.2h0M474.8 365.8h0M488.7 351.2h0M461.3 331.0h0M492.5 353.9h0M469.7 386.8h0M503.7 340.6h0M511.5 371.7h0M488.2 364.5h0M490.0 353.2h0M450.0 354.3h0M459.2 368.3h0M450.5 353.5h0M486.1 386.1h0M495.4 392.9h0M503.8 386.7h0M436.8 339.3h0M486.3 345.4h0M500.2 381.1h0M474.1 331.0h0M433.9 375.3h0M425.5 359.9h0M460.4 334.9h0M446.6 387.6h0M511.9 368.7h0M463.6 345.6h0M468.6 351.1h0M471.7 355.7h0M480.0 367.3h0M475.7 360.5h0M455.4 353.1h0M448.6 336.2h0M494.6 360.1h0M509.8 348.5h0M498.9 368.8h0M464.9 348.9h0M464.8 329.5h0M480.5 369.3h0M492.4 328.8h0M441.4 358.7h0M502.8 349.6h0M493.1 379.5h0M494.4 324.0h0M509.5 341.0h0M489.1 326.7h0M473.6 356.0h0M469.4 366.0h0M465.5 330.6h0M486.5 354.8h0M476.8 373.2h0M474.2 374.8h0M456.3 331.2h0M461.5 369.4h0M471.6 330.7h0M453.7 343.2h0M498.6 332.5h0M476.9 337.1h0M481.6 364.6h0M447.0 380.3h0M481.5 351.2h0M456.5 325.5h0M454.6 383.2h0M493.9 354.5h0M510.8 363.9h0M484.5 373.7h0M460.1 355.7h0M424.3 337.6h0M509.2 344.0h0M481.2 333.3h0M494.8 329.0h0M488.6 324.1h0M490.4 381.5h0M493.0 347.5h0M473.3 356.6h0M442.0 363.7h0M423.1 379.9h0M468.6 367.4h0M489.5 374.7h0M445.4 367.0h0M442.8 339.9h0M470.4 344.9h0M477.8 339.5h0M433.8 392.3h0M431.7 357.1h0M432.4 361.0h0M475.7 366.0h0M457.7 342.7h0M477.5 387.4h0M481.3 369.0h0M466.7 357.0h0M426.8 373.5h0M483.5 356.2h0M487.9 392.4h0M460.7 361.0h0M497.0 357.9h0M501.9 365.1h0M479.9 345.0h0M505.6 353.9h0M511.4 381.0h0M487.3 387.9h0M474.6 378.6h0M449.6 350.8h0M480.0 344.2h0M452.2 335.3h0M500.5 365.4h0M482.1 333.6h0M452.4 335.8h0M496.4 365.1h0M458.4 337.2h0M486.0 388.8h0M437.8 331.3h0M509.5 365.0h0M496.9 349.9h0M445.2 340.4h0M472.7 332.5h0M478.7 372.4h0M485.4 365.0h0M489.5 380.6h0M503.2 351.1h0M448.8 377.6h0M498.4 333.1h0M495.2 359.0h0M503.0 357.8h0M474.5 336.5h0M450.4 324.5h0M506.6 329.6h0M475.6 369.3h0M477.8 359.9h0M442.3 391.5h0M437.5 340.2h0M486.4 343.4h0M487.2 364.0h0M459.1 347.4h0M486.7 366.0h0M486.3 350.2h0M464.7 369.9h0M435.2 358.0h0M484.9 334.9h0M510.9 327.8h0M484.7 391.8h0M452.1 347.4h0M464.7 343.1h0M498.3 341.1h0M486.6 373.1h0M503.8 350.0h0M499.8 325.9h0M443.8 334.0h0M461.9 359.8h0M504.3 366.8h0M487.1 362.7h0" stroke-width="1.18" stroke-opacity="0.60"/><path d="M500.4 340.2h0M511.4 375.5h0M468.5 374.3h0M498.9 345.3h0M493.4 324.5h0M432.9 362.2h0M483.1 369.1h0M473.3 392.8h0M492.6 378.7h0M473.6 336.6h0M504.5 335.5h0M470.7 378.9h0M508.8 344.6h0M477.6 329.3h0M482.3 372.5h0M450.9 326.9h0M462.4 378.4h0M512.6 328.9h0M504.8 345.7h0M472.8 367.2h0M478.5 383.5h0M475.4 358.4h0M455.8 334.7h0M480.9 390.5h0M494.8 377.6h0M476.7 352.9h0M472.8 347.0h0M471.7 365.3h0M509.3 383.0h0M477.2 354.1h0M447.0 365.2h0M511.2 358.5h0M430.4 350.5h0M461.7 327.4h0M473.0 342.6h0M478.2 330.0h0M451.4 328.2h0M484.7 340.2h0M460.8 358.5h0M449.8 372.8h0M502.6 333.6h0M500.7 387.1h0M487.0 349.6h0M493.4 384.1h0M477.6 382.7h0M512.1 331.8h0M452.9 351.5h0M456.9 351.7h0M468.3 343.9h0M497.1 369.6h0M507.9 369.2h0M475.6 350.4h0M465.6 376.6h0M468.5 326.7h0M436.1 337.7h0M484.0 376.6h0M509.5 380.9h0M479.6 383.8h0M488.5 362.7h0M461.1 356.7h0M505.1 376.1h0M445.6 349.6h0M448.0 365.9h0M438.4 360.0h0M480.0 335.4h0M466.5 368.2h0M499.7 367.2h0M449.4 342.8h0M499.6 383.8h0M501.4 340.4h0M480.7 341.2h0M495.6 356.4h0M503.8 371.7h0M463.6 368.2h0M430.0 383.8h0M464.4 371.0h0M494.3 383.9h0M509.4 349.5h0M491.1 341.8h0M459.5 376.6h0M495.8 337.5h0M483.2 332.8h0M507.4 324.7h0M493.1 349.8h0M459.5 386.4h0M490.6 367.5h0M500.8 370.2h0M464.4 379.7h0M492.6 335.2h0M492.2 388.2h0M489.0 375.4h0M511.7 360.2h0M465.3 374.9h0M490.1 337.7h0M501.6 341.5h0M465.4 336.3h0M471.7 371.7h0M478.3 353.9h0M448.0 383.8h0M450.4 375.8h0M475.7 377.9h0M494.9 360.1h0M419.4 366.3h0M424.5 336.2h0M463.4 343.2h0M480.1 388.8h0M470.2 362.5h0M490.1 368.3h0M503.8 362.4h0M480.7 376.7h0M465.0 341.7h0M485.1 347.1h0M481.1 375.7h0M510.2 388.9h0M437.5 363.3h0M458.9 336.4h0M478.5 338.8h0M490.2 352.0h0M495.2 348.5h0M509.8 334.3h0M423.3 365.4h0M508.6 355.5h0M483.6 385.7h0M474.3 382.7h0M488.7 336.4h0M491.1 334.0h0M487.3 387.6h0M489.2 383.4h0M485.1 345.0h0M435.6 386.5h0M487.3 337.7h0M498.2 332.5h0M483.7 342.7h0M474.1 380.5h0M512.6 329.7h0M461.1 379.8h0M432.9 350.0h0M481.4 363.8h0M460.7 360.4h0M469.1 329.1h0M465.6 336.4h0M484.1 337.3h0M419.7 343.9h0M479.1 375.0h0M451.9 331.1h0M506.2 378.6h0M480.8 337.7h0M470.8 359.4h0M478.8 334.7h0M473.0 382.5h0M476.9 354.2h0M461.1 372.5h0M463.1 348.0h0M472.7 368.3h0M449.8 345.1h0M499.1 356.2h0M497.5 362.4h0M493.9 381.2h0M511.4 385.4h0M453.9 357.8h0M495.3 327.6h0M486.1 325.0h0M457.9 355.5h0M497.5 330.0h0M471.5 359.6h0M494.6 335.7h0M485.9 326.3h0M506.5 351.8h0M511.0 351.9h0M488.6 332.9h0M448.6 341.0h0M493.2 338.1h0M491.6 357.7h0M460.1 365.3h0M477.2 350.2h0M492.9 364.7h0M476.6 375.5h0M468.7 345.8h0M436.1 379.1h0M425.0 353.2h0M420.4 365.0h0M501.0 336.0h0M499.5 363.2h0M481.8 362.6h0M492.2 388.1h0M456.7 372.3h0M498.2 370.2h0M472.9 384.6h0M466.3 370.9h0M451.5 371.4h0M452.9 350.4h0M436.0 345.6h0M504.9 372.6h0M455.6 385.6h0M506.3 334.1h0M494.1 385.2h0M457.6 372.3h0M489.4 372.1h0M510.3 342.5h0M473.4 377.0h0M506.3 389.1h0M464.2 329.7h0M471.8 343.8h0M471.4 354.1h0M444.6 343.9h0M476.2 326.5h0M464.5 382.3h0M472.5 366.5h0M468.5 346.0h0M439.0 380.9h0M469.0 366.4h0" stroke-width="1.18" stroke-opacity="0.77"/><path d="M451.9 388.0h0M495.6 376.4h0M506.0 385.0h0M478.1 336.0h0M479.3 377.2h0M484.2 383.7h0M502.7 329.3h0M510.1 369.2h0M461.8 376.7h0M497.5 391.6h0M445.4 378.1h0M451.4 370.4h0M468.4 341.3h0M451.6 349.8h0M504.6 364.1h0M497.2 359.8h0M494.6 348.1h0M481.0 379.9h0M461.1 332.2h0M468.2 356.3h0M487.4 363.0h0M468.1 344.6h0M501.9 381.1h0M490.6 355.2h0M509.5 325.6h0M496.3 339.4h0M504.2 377.6h0M454.3 375.0h0M486.8 354.5h0M497.8 372.0h0M483.7 354.1h0M512.4 332.7h0M492.3 365.4h0M504.7 362.5h0M453.7 361.8h0M500.4 361.2h0M502.6 362.3h0M476.2 376.2h0M494.9 356.7h0M492.7 336.0h0M462.2 338.1h0M471.0 366.1h0M487.4 362.4h0M490.7 387.3h0M474.2 337.8h0M459.5 352.9h0M453.5 379.0h0M471.7 342.5h0M484.2 332.5h0M480.4 324.5h0M483.7 371.9h0M448.0 374.4h0M469.9 387.2h0M462.6 387.1h0M447.5 327.1h0M433.9 349.1h0M483.8 346.9h0M472.6 373.3h0M452.6 344.2h0M511.0 385.1h0M488.5 354.3h0M466.2 334.8h0M429.7 391.1h0M502.3 350.9h0M512.5 379.2h0M500.1 370.4h0M481.5 385.1h0M485.7 366.2h0M480.2 331.0h0M477.8 357.2h0M450.9 332.8h0M508.4 331.1h0M478.5 383.0h0M422.3 383.1h0M436.4 339.4h0M490.4 359.7h0M443.8 328.2h0M456.7 332.6h0M436.5 376.5h0M483.9 332.2h0M443.9 365.9h0M463.3 359.1h0M486.7 356.1h0M463.8 389.8h0M424.2 356.7h0M498.5 371.1h0M493.7 381.3h0M499.2 385.6h0M435.1 365.6h0M441.4 338.4h0M504.0 324.7h0M442.8 351.8h0M492.2 339.3h0M508.6 364.3h0M502.2 353.5h0M447.0 379.3h0M468.7 348.5h0M466.4 345.1h0M442.1 328.3h0M480.8 343.9h0M509.2 338.4h0M457.2 325.1h0M469.6 341.8h0M467.8 359.5h0M503.8 378.4h0M441.8 373.7h0M511.2 337.5h0M511.5 380.9h0M479.5 386.2h0M430.4 324.1h0M490.2 331.8h0M504.7 331.2h0M433.8 357.4h0M473.9 343.0h0M440.3 384.5h0M507.8 382.9h0M478.8 347.4h0M468.3 352.8h0M442.8 385.7h0M423.9 328.4h0M511.0 340.4h0M484.9 382.2h0M479.5 324.2h0M459.5 369.9h0M476.5 351.9h0M480.9 324.4h0M448.4 362.8h0M497.4 347.3h0M506.0 336.2h0M501.4 337.2h0M501.8 373.6h0M486.0 368.4h0M467.5 379.0h0M491.1 325.1h0M458.7 371.6h0M467.7 361.6h0M476.6 335.4h0M449.2 359.4h0M446.7 338.0h0M509.9 359.4h0M508.6 343.7h0M500.8 332.8h0M445.5 343.3h0M501.7 329.1h0M497.9 342.9h0M497.0 381.5h0M472.4 368.5h0M498.6 332.9h0M490.3 379.0h0M506.0 333.8h0M465.5 385.7h0M452.4 333.4h0M451.8 339.2h0M464.7 331.4h0M457.6 364.7h0M507.0 385.1h0M492.9 325.6h0M472.9 369.7h0M467.0 332.9h0M457.7 378.5h0M490.4 348.1h0M508.4 350.2h0M473.0 356.2h0M449.7 331.1h0M429.3 338.8h0M477.7 332.8h0M488.0 390.6h0M473.0 341.1h0M463.1 332.8h0M473.2 376.6h0M466.8 325.1h0M476.3 369.5h0M500.5 333.4h0M480.1 344.8h0M439.7 371.1h0M436.6 359.6h0M499.4 384.7h0M461.8 365.2h0M469.1 388.0h0M500.6 379.5h0M493.3 350.7h0M496.2 377.1h0M431.7 384.1h0M466.8 330.6h0M484.1 369.0h0M507.4 335.8h0M509.3 351.7h0M481.7 329.1h0M485.1 363.1h0M450.2 332.7h0M431.5 379.9h0M468.1 340.4h0M496.6 380.1h0M461.6 338.5h0M447.9 371.0h0M491.9 352.2h0M462.7 384.2h0M477.9 387.0h0M445.6 384.7h0M460.3 343.0h0M495.9 324.9h0M482.8 347.9h0M512.9 385.7h0M471.8 366.0h0M442.7 385.1h0M478.6 325.8h0M495.5 343.5h0M468.4 374.9h0M489.0 360.3h0M456.0 332.0h0M471.6 346.8h0M437.4 342.0h0M477.9 357.8h0M460.7 368.7h0M510.6 359.7h0M486.1 343.2h0M480.8 392.2h0M464.0 369.4h0M421.3 360.5h0M498.0 367.8h0M508.1 384.2h0M469.5 369.5h0M485.6 387.2h0M457.5 337.1h0M490.0 325.8h0M477.1 355.3h0M470.7 336.9h0M471.2 331.3h0M493.0 351.8h0" stroke-width="1.55" stroke-opacity="0.43"/><path d="M466.6 340.3h0M493.8 384.8h0M479.7 354.5h0M487.1 355.5h0M478.5 390.5h0M468.9 327.4h0M493.7 324.8h0M453.2 333.0h0M454.6 351.2h0M466.1 355.8h0M439.7 371.4h0M460.9 358.5h0M479.5 355.4h0M433.3 345.3h0M459.1 371.7h0M454.9 391.4h0M509.7 354.4h0M457.8 345.6h0M429.9 347.2h0M470.5 388.2h0M483.7 381.5h0M448.7 383.7h0M470.8 384.5h0M494.2 334.8h0M495.5 373.8h0M456.4 373.5h0M445.2 382.9h0M460.0 376.9h0M445.2 362.0h0M493.0 365.9h0M474.6 377.0h0M429.5 346.4h0M458.9 378.6h0M491.6 340.4h0M428.3 331.2h0M470.2 327.4h0M482.0 353.9h0M502.2 392.7h0M486.8 355.9h0M438.9 365.4h0M431.5 383.0h0M501.9 350.9h0M487.9 354.3h0M477.6 325.4h0M447.6 347.8h0M472.6 359.0h0M472.4 376.9h0M502.5 388.1h0M469.1 325.6h0M501.0 364.8h0M505.6 346.2h0M489.3 328.2h0M492.6 345.8h0M483.4 325.2h0M491.9 342.3h0M482.3 349.1h0M450.3 331.3h0M471.9 354.8h0M492.6 352.4h0M479.7 373.9h0M512.3 342.2h0M494.4 381.3h0M491.8 378.6h0M486.2 356.5h0M420.1 353.4h0M464.2 361.2h0M512.6 360.9h0M432.3 383.8h0M489.2 370.7h0M448.0 341.2h0M504.8 332.0h0M501.5 339.3h0M461.1 340.3h0M481.7 348.0h0M495.1 368.4h0M484.0 388.0h0M501.4 356.8h0M435.6 326.0h0M459.9 352.5h0M505.2 368.9h0M437.4 369.2h0M461.9 382.8h0M457.0 363.6h0M451.2 361.0h0M475.9 365.7h0M446.9 332.3h0M502.6 377.7h0M492.7 335.8h0M499.5 324.8h0M475.3 333.9h0M472.9 327.8h0M492.3 372.6h0M490.2 382.6h0M483.4 367.1h0M420.7 370.4h0M453.9 388.8h0M474.0 333.8h0M482.6 388.4h0M498.5 342.6h0M483.2 351.6h0M506.3 387.2h0M459.6 381.0h0M475.8 372.8h0M455.3 376.5h0M503.2 362.9h0M498.9 335.0h0M491.0 376.9h0M438.1 342.6h0M484.0 351.1h0M425.8 357.2h0M441.6 387.8h0M461.7 328.6h0M485.3 357.8h0M458.2 324.9h0M455.1 339.2h0M501.5 327.5h0M462.8 360.4h0M456.0 363.0h0M495.2 350.2h0M507.1 374.8h0M498.1 377.9h0M441.6 330.4h0M480.5 331.7h0M460.3 363.1h0M502.2 377.6h0M484.4 337.8h0M484.2 352.5h0M462.1 373.3h0M463.9 364.4h0M479.3 385.9h0M475.6 366.8h0M486.6 324.9h0M474.1 374.4h0M487.8 364.9h0M475.6 388.8h0M452.8 381.2h0M471.3 352.5h0M496.3 363.7h0M469.3 355.4h0M475.7 336.2h0M443.5 348.2h0M487.0 361.8h0M489.1 356.3h0M463.8 360.6h0M475.2 348.4h0M454.9 372.4h0M475.3 363.8h0M479.4 338.4h0M474.7 370.9h0M453.8 390.5h0M475.0 385.7h0M479.1 353.8h0M505.1 357.4h0M461.7 365.0h0M461.8 363.9h0M457.9 375.4h0M423.6 362.1h0M470.7 336.6h0M486.1 365.4h0M486.9 339.8h0M487.9 331.4h0M497.5 372.2h0M426.7 364.6h0M431.4 372.0h0M454.5 332.5h0M449.3 359.1h0M494.4 330.9h0M467.5 350.4h0M508.1 348.0h0M482.7 341.8h0M472.6 341.9h0M444.0 365.5h0M458.7 359.0h0M505.6 371.5h0M507.0 335.5h0M449.6 360.9h0M469.0 362.3h0M481.6 366.3h0M462.1 364.3h0M510.3 369.3h0M506.5 367.8h0M487.7 379.4h0M488.3 369.7h0M465.0 326.5h0M472.5 336.6h0M456.4 340.9h0M467.2 386.9h0M463.2 369.9h0M489.2 390.2h0M490.8 328.5h0M465.0 373.6h0M480.4 368.3h0M459.2 346.1h0M479.9 372.1h0M495.6 362.5h0M480.3 380.5h0M478.3 367.8h0M467.3 381.5h0M447.2 343.6h0M475.8 343.2h0M502.6 372.2h0M445.3 340.2h0M487.5 336.3h0M485.7 374.4h0M502.1 329.5h0M513.0 329.3h0M469.7 341.4h0M494.1 383.3h0M476.4 343.1h0M491.5 388.3h0" stroke-width="1.55" stroke-opacity="0.60"/><path d="M503.1 376.1h0M457.7 349.2h0M458.6 335.8h0M499.1 364.3h0M439.8 335.5h0M503.7 344.4h0M486.5 385.4h0M495.7 365.8h0M502.7 328.9h0M427.0 352.0h0M495.4 357.3h0M481.8 339.9h0M468.8 349.9h0M456.0 374.3h0M485.0 382.4h0M489.1 360.9h0M478.3 383.1h0M474.2 368.4h0M463.5 342.8h0M505.9 377.7h0M487.7 327.5h0M501.1 359.7h0M484.4 357.4h0M511.2 329.6h0M512.3 363.0h0M508.7 354.7h0M452.9 348.8h0M446.4 342.6h0M481.7 347.4h0M503.7 335.4h0M474.9 331.6h0M468.0 346.4h0M434.4 336.3h0M469.7 367.7h0M485.4 343.7h0M511.6 357.3h0M477.9 357.7h0M466.0 358.9h0M496.4 361.2h0M483.6 350.5h0M457.6 348.9h0M463.6 355.7h0M500.8 381.5h0M451.0 334.2h0M456.6 353.9h0M482.6 367.9h0M487.3 355.9h0M460.7 339.2h0M486.5 327.4h0M478.6 381.7h0M482.9 368.5h0M481.0 336.8h0M479.5 329.5h0M471.8 342.5h0M475.7 378.1h0M459.9 339.9h0M467.8 360.6h0M469.3 332.4h0M455.3 379.6h0M484.1 339.1h0M510.8 333.6h0M439.8 354.6h0M488.5 341.8h0M498.3 352.9h0M504.6 329.8h0M484.6 372.3h0M450.3 348.5h0M499.0 334.1h0M467.7 375.6h0M452.9 357.8h0M442.1 343.4h0M507.0 328.7h0M488.9 368.2h0M454.9 336.9h0M496.0 363.0h0M461.0 363.1h0M482.7 341.7h0M491.7 326.6h0M478.7 380.4h0M457.3 346.2h0M485.1 376.8h0M473.7 369.8h0M492.5 362.9h0M485.1 350.2h0M503.3 381.2h0M473.4 325.9h0M487.6 339.7h0M494.1 376.4h0M492.6 388.0h0M499.0 384.8h0M452.3 379.4h0M490.2 389.7h0M500.8 337.1h0M451.1 334.9h0M493.0 352.3h0M429.9 363.4h0M512.6 335.3h0M495.2 325.0h0M500.0 382.0h0M474.5 344.7h0M453.9 346.9h0M504.8 382.3h0M424.8 344.2h0M510.7 349.7h0M436.0 345.5h0M444.7 385.2h0M453.8 350.4h0M473.3 373.7h0M464.6 362.5h0M504.3 381.9h0M483.3 326.8h0M491.0 345.6h0M490.3 387.7h0M491.5 332.2h0M498.4 369.3h0M478.2 338.0h0M509.8 354.4h0M498.4 365.9h0M474.0 340.7h0M496.5 340.3h0M449.2 372.6h0M506.5 363.8h0M511.0 351.0h0M486.4 389.9h0M429.2 326.9h0M492.1 337.7h0M505.4 344.4h0M451.3 347.4h0M474.1 369.0h0M471.1 387.2h0M455.0 340.4h0M441.6 348.4h0M487.8 331.6h0M492.4 373.8h0M486.0 368.9h0M439.2 388.4h0M511.2 352.0h0M455.8 379.3h0M444.2 374.1h0M470.8 331.4h0M444.7 346.2h0M497.4 339.8h0M509.8 386.2h0M489.8 373.1h0M495.9 375.6h0M502.2 346.7h0M434.4 383.3h0M493.5 388.7h0M497.3 329.7h0M433.4 361.3h0M445.4 357.1h0M509.4 358.4h0M481.4 352.1h0M453.1 362.4h0M430.0 328.0h0M479.0 347.2h0M464.0 362.9h0M498.1 327.5h0M461.1 327.8h0M449.0 352.8h0M489.5 358.4h0M442.4 371.2h0M469.3 333.0h0M432.5 387.8h0M488.9 343.6h0M497.2 376.3h0M471.3 378.0h0M477.1 324.8h0M488.0 337.0h0M479.8 374.6h0M504.4 361.3h0M495.2 353.1h0M468.6 377.3h0M464.2 371.2h0M496.3 337.5h0M509.4 334.9h0M487.9 339.1h0M465.1 340.7h0M477.7 368.9h0M504.4 384.6h0M510.7 384.9h0M474.1 369.7h0M490.3 390.2h0M461.4 374.7h0M497.3 374.8h0M483.1 353.0h0M469.5 356.7h0M497.2 379.3h0M461.5 390.2h0M511.0 370.3h0M506.3 343.0h0M493.5 354.7h0M430.9 366.9h0M467.2 327.0h0M469.8 325.0h0M479.8 361.3h0M489.0 388.1h0M489.6 346.6h0M455.1 376.4h0M491.4 353.4h0M435.2 366.9h0M477.0 339.3h0M507.0 339.0h0M468.5 359.4h0M459.7 364.3h0M491.1 347.5h0M495.0 346.1h0M488.0 358.7h0M449.7 342.5h0M460.6 366.4h0M465.2 364.8h0M460.9 364.3h0M474.8 352.8h0M510.3 358.6h0M447.9 392.3h0M495.4 369.7h0M498.2 346.9h0M470.4 326.0h0M460.3 377.1h0M461.6 326.9h0M450.9 330.9h0M495.9 372.2h0M469.0 346.5h0" stroke-width="1.55" stroke-opacity="0.77"/><path d="M465.8 357.9h0M465.3 349.9h0M435.7 373.1h0M481.9 383.3h0M455.3 342.8h0M462.1 359.5h0M427.4 357.8h0M449.1 387.0h0M481.5 369.3h0M451.7 338.7h0M435.1 376.5h0M490.8 339.5h0M468.8 386.5h0M441.2 336.8h0M479.7 327.7h0M450.1 339.7h0M493.7 347.9h0M511.0 353.4h0M430.0 376.7h0M447.9 368.3h0M480.6 384.4h0M511.0 333.1h0M477.8 340.1h0M506.0 325.4h0M505.3 337.8h0M471.2 331.0h0M484.1 375.2h0M475.2 340.7h0M464.6 380.3h0M468.3 359.8h0M465.7 357.1h0M496.9 334.4h0M469.7 355.5h0M483.6 386.8h0M465.6 360.0h0M462.0 374.4h0M472.9 371.7h0M471.1 355.7h0M493.3 347.3h0M503.3 343.2h0M455.4 365.7h0M466.2 338.5h0M436.3 371.8h0M477.1 375.6h0M443.2 358.2h0M507.4 325.8h0M493.1 338.9h0M476.8 343.0h0M490.2 341.1h0M465.5 353.0h0M430.9 340.4h0M510.8 363.4h0M465.0 376.4h0M421.6 337.7h0M457.4 348.4h0M467.7 361.9h0M483.7 324.4h0M467.1 354.3h0M510.2 363.9h0M482.9 324.5h0M459.4 389.8h0M502.0 336.9h0M458.3 351.3h0M471.3 361.5h0M494.8 332.5h0M486.4 343.7h0M439.5 338.4h0M502.2 363.1h0M495.3 375.6h0M485.1 386.4h0M477.2 330.5h0M475.1 382.9h0M492.2 379.1h0M453.0 331.6h0M457.3 335.4h0M483.4 391.1h0M453.3 333.1h0M452.2 364.3h0M485.3 390.4h0M475.3 383.2h0M462.3 344.8h0M491.6 380.3h0M483.3 335.9h0M505.6 374.2h0M487.2 381.6h0M475.1 368.7h0M458.3 371.9h0M493.5 331.8h0M497.9 371.9h0M468.3 372.3h0M440.7 376.4h0M456.6 372.6h0M499.3 354.6h0M473.6 391.3h0M489.7 389.1h0M448.7 367.1h0M474.4 340.5h0M472.6 358.4h0M481.8 356.2h0M509.0 387.1h0M446.6 369.6h0M504.7 338.8h0M435.0 357.0h0M479.4 333.1h0M453.0 354.8h0M495.4 353.3h0M496.4 368.7h0M455.7 377.4h0M450.6 324.4h0M459.8 352.6h0M492.7 351.9h0M451.4 367.8h0M436.1 348.8h0M495.0 370.4h0M456.7 390.9h0M488.7 343.8h0M469.4 362.4h0M487.1 365.2h0M478.2 331.2h0M480.5 391.7h0M498.4 381.6h0M476.5 355.2h0M485.3 349.2h0M489.3 372.1h0M461.4 369.1h0M459.8 336.2h0M465.4 345.7h0M498.9 392.0h0M478.3 339.5h0M488.9 348.5h0M445.2 327.0h0M500.5 354.8h0M489.9 370.1h0M497.5 392.0h0M465.8 366.6h0M468.3 387.2h0M436.1 337.1h0M462.0 386.1h0M467.3 337.1h0M512.5 350.8h0M465.0 329.1h0M474.9 326.7h0M487.6 348.5h0M471.7 381.1h0M419.6 343.3h0M503.4 328.2h0M479.6 331.3h0M478.2 352.8h0M481.8 335.1h0M436.9 359.9h0M457.8 347.1h0M488.6 326.3h0M510.7 375.9h0M503.0 360.4h0M487.0 354.5h0M453.7 371.1h0M443.5 388.4h0M505.4 327.3h0M475.4 374.4h0M493.1 324.3h0M484.3 388.5h0M462.9 355.5h0M424.8 355.7h0M496.4 352.9h0M487.8 328.2h0M464.4 368.9h0M424.7 374.8h0M458.0 339.2h0M448.3 341.1h0M473.7 353.6h0M463.8 379.2h0M467.3 350.6h0M453.8 379.6h0M486.7 337.6h0M449.5 386.4h0M419.6 338.7h0M448.3 371.8h0M475.7 341.4h0M494.7 367.4h0M497.3 384.3h0M510.4 357.4h0M482.8 389.3h0M497.5 369.8h0M506.3 370.5h0M483.2 379.4h0M456.3 333.5h0M446.0 334.2h0M446.6 332.4h0M463.4 371.0h0M486.3 351.4h0M472.1 337.6h0M464.3 356.3h0M461.6 356.7h0M475.7 378.5h0M505.5 377.6h0M506.1 376.7h0M472.3 386.3h0M489.1 356.2h0M491.5 376.7h0M489.9 378.6h0M477.0 332.2h0M458.4 353.2h0M457.6 389.2h0M449.4 361.2h0M503.9 362.9h0M474.8 381.7h0M453.0 345.4h0M436.0 357.6h0M494.1 352.8h0M472.9 345.3h0M480.5 348.9h0M461.1 341.6h0M448.8 356.1h0M503.8 368.6h0M474.1 347.0h0M461.9 343.8h0M498.4 331.2h0M462.3 380.7h0M476.3 349.5h0M476.0 358.0h0M512.8 330.7h0M466.2 389.3h0" stroke-width="1.92" stroke-opacity="0.43"/><path d="M464.2 338.9h0M488.1 390.7h0M471.8 328.4h0M469.7 352.2h0M483.0 339.0h0M490.1 368.6h0M471.3 377.5h0M437.4 333.7h0M478.8 349.2h0M438.0 326.2h0M496.4 391.5h0M467.1 344.4h0M473.0 362.2h0M441.8 347.6h0M510.0 338.0h0M495.8 376.6h0M482.4 328.6h0M491.2 383.3h0M471.5 382.7h0M452.4 339.3h0M463.4 365.8h0M509.5 344.2h0M491.0 334.7h0M498.2 334.5h0M475.9 370.7h0M460.9 336.1h0M455.0 333.1h0M485.9 334.9h0M496.7 337.1h0M445.1 349.2h0M504.1 350.6h0M429.1 348.7h0M466.6 341.7h0M481.2 350.8h0M497.6 371.6h0M503.0 354.7h0M496.1 338.3h0M512.8 360.8h0M500.1 359.2h0M450.3 324.2h0M482.1 326.4h0M447.0 386.5h0M512.4 341.7h0M475.2 378.8h0M459.7 351.6h0M468.3 376.2h0M462.3 378.6h0M456.5 349.9h0M456.3 352.2h0M479.2 372.8h0M485.6 329.9h0M456.4 364.1h0M487.7 380.3h0M464.3 370.3h0M471.1 378.7h0M450.4 378.3h0M440.2 382.1h0M432.8 353.7h0M505.0 375.2h0M489.3 384.9h0M508.5 346.1h0M421.3 364.2h0M424.5 354.1h0M465.9 325.2h0M455.9 363.2h0M455.7 365.7h0M463.5 363.9h0M479.8 339.6h0M503.1 334.4h0M503.6 351.9h0M470.6 334.3h0M445.7 356.9h0M505.4 327.5h0M473.2 341.9h0M433.7 344.9h0M484.4 366.2h0M478.2 343.8h0M446.3 384.5h0M427.1 385.4h0M493.1 343.9h0M438.3 382.9h0M487.9 324.6h0M471.6 360.4h0M480.0 369.0h0M496.6 354.4h0M463.0 363.9h0M477.0 362.8h0M503.0 381.0h0M477.9 349.9h0M471.1 328.0h0M485.7 387.4h0M473.0 325.3h0M497.5 343.5h0M470.1 333.5h0M487.1 382.8h0M446.9 330.5h0M507.0 353.3h0M457.2 357.1h0M483.2 369.2h0M457.2 326.9h0M485.6 352.2h0M489.8 373.4h0M465.5 345.4h0M486.2 347.0h0M498.5 345.5h0M451.9 366.8h0M477.9 377.5h0M512.4 355.1h0M495.8 342.7h0M444.8 351.3h0M464.6 340.7h0M483.7 364.4h0M478.0 345.4h0M445.2 356.3h0M495.9 352.0h0M435.9 364.9h0M494.9 339.7h0M448.8 366.7h0M482.4 371.1h0M438.7 347.3h0M495.8 350.8h0M446.4 378.6h0M469.7 363.7h0M486.6 392.4h0M488.5 327.7h0M433.9 362.5h0M495.2 329.6h0M461.8 347.2h0M511.2 348.5h0M456.7 385.0h0M507.5 379.2h0M510.0 360.4h0M499.9 361.0h0M504.2 370.0h0M463.1 379.4h0M425.7 387.1h0M440.9 336.1h0M488.7 347.0h0M512.8 384.9h0M446.0 334.2h0M463.0 375.2h0M447.0 385.5h0M471.8 373.1h0M453.6 329.9h0M483.6 364.1h0M450.6 351.7h0M489.9 329.5h0M473.1 368.1h0M450.2 386.2h0M510.1 340.9h0M484.8 328.4h0M488.4 388.6h0M491.1 359.7h0M478.0 376.5h0M444.2 334.7h0M458.6 338.0h0M460.1 329.9h0M509.4 388.3h0M453.9 346.6h0M482.8 370.2h0M483.7 337.4h0M497.9 338.8h0M478.8 375.8h0M488.0 365.1h0M437.9 373.2h0M461.9 363.2h0M473.6 391.9h0M458.0 347.9h0M443.1 337.0h0M490.9 382.5h0M463.8 378.0h0M473.1 371.5h0M502.3 325.0h0M442.1 359.8h0M466.9 337.2h0M507.6 371.7h0M511.7 332.5h0M479.4 368.9h0M483.8 381.0h0M506.8 371.5h0M480.7 369.5h0M449.6 338.8h0M508.7 324.5h0M497.8 340.7h0M491.9 359.6h0M448.5 349.1h0M495.0 365.4h0M477.4 377.2h0M479.4 348.8h0M505.9 377.8h0M481.0 345.3h0M451.5 345.1h0M488.1 330.2h0M434.0 349.4h0M500.7 330.9h0M488.2 365.0h0M452.6 382.8h0M446.7 351.0h0M483.4 376.7h0M458.4 336.7h0M426.9 336.6h0M488.1 388.5h0M497.5 356.8h0M429.0 353.7h0M502.6 365.2h0M454.2 351.5h0M435.3 382.2h0M491.3 328.7h0M504.2 371.9h0M502.7 340.2h0M479.7 329.3h0M452.7 336.9h0M436.3 364.5h0M507.6 346.9h0M443.6 349.3h0M480.0 366.1h0M484.5 382.9h0M478.5 377.2h0M509.7 370.4h0M474.3 389.1h0M453.5 382.9h0M497.6 390.8h0M494.9 352.0h0M486.0 348.3h0M499.2 371.7h0M488.7 359.1h0M495.2 365.5h0" stroke-width="1.92" stroke-opacity="0.60"/><path d="M455.5 325.9h0M492.1 349.9h0M470.8 327.2h0M505.2 350.6h0M488.8 355.9h0M503.1 349.5h0M504.4 390.9h0M474.2 379.4h0M446.2 330.2h0M484.1 357.1h0M476.7 375.3h0M442.9 338.9h0M441.5 353.7h0M454.6 337.6h0M451.2 353.5h0M491.5 335.9h0M504.0 337.1h0M504.3 389.3h0M509.8 359.4h0M471.0 364.7h0M498.8 350.8h0M468.1 378.5h0M465.2 366.3h0M499.8 345.5h0M462.0 364.5h0M462.3 338.9h0M472.2 337.4h0M508.5 367.3h0M507.5 329.6h0M488.3 339.1h0M508.7 348.7h0M455.8 384.4h0M474.6 337.9h0M461.2 372.6h0M512.6 372.4h0M461.0 345.5h0M470.1 375.2h0M460.9 362.4h0M479.9 332.0h0M432.1 376.2h0M426.7 379.6h0M506.4 388.4h0M474.8 374.6h0M481.3 382.7h0M469.2 365.8h0M453.6 365.4h0M481.7 337.9h0M444.7 390.7h0M460.0 354.2h0M478.7 365.3h0M446.0 376.7h0M509.4 365.9h0M445.2 361.0h0M479.8 330.4h0M435.6 344.3h0M497.6 363.8h0M504.3 354.1h0M500.9 363.1h0M466.6 359.8h0M484.8 330.8h0M455.0 346.0h0M479.1 365.7h0M509.5 347.0h0M511.2 349.0h0M471.4 359.1h0M486.3 343.4h0M494.6 334.1h0M421.7 379.1h0M448.6 340.7h0M449.8 347.8h0M485.1 352.8h0M477.5 328.4h0M504.4 379.1h0M479.5 363.9h0M469.8 380.2h0M449.8 378.6h0M475.0 367.6h0M449.8 377.4h0M492.6 333.0h0M444.7 350.1h0M492.2 381.5h0M444.1 340.6h0M448.9 362.3h0M467.9 329.6h0M490.1 369.0h0M502.5 334.9h0M495.9 373.9h0M445.6 354.6h0M481.2 391.1h0M460.7 386.3h0M488.2 391.8h0M476.4 359.6h0M498.0 333.2h0M474.1 333.6h0M452.3 382.7h0M470.7 341.4h0M457.7 348.1h0M454.8 348.6h0M478.2 357.1h0M492.6 383.4h0M465.3 381.4h0M472.7 337.3h0M461.6 365.4h0M442.2 338.5h0M479.5 329.6h0M499.9 390.9h0M496.9 381.8h0M486.5 331.0h0M476.9 342.0h0M459.1 363.6h0M512.5 348.4h0M473.4 373.1h0M502.1 384.6h0M473.4 354.1h0M481.0 349.7h0M505.3 360.9h0M472.3 364.1h0M500.5 380.5h0M465.0 387.2h0M457.5 370.3h0M494.0 383.9h0M486.5 360.4h0M442.9 328.3h0M426.5 369.2h0M480.4 344.4h0M507.1 343.6h0M502.6 388.8h0M497.0 378.5h0M500.7 367.9h0M505.9 391.3h0M451.1 359.6h0M510.3 361.5h0M512.2 363.5h0M501.1 344.8h0M453.4 358.5h0M476.6 355.9h0M484.0 354.3h0M446.7 377.5h0M444.9 391.7h0M502.1 346.1h0M508.3 324.2h0M435.9 344.1h0M473.7 392.4h0M492.0 369.4h0M432.2 345.2h0M478.2 388.6h0M438.1 370.4h0M510.9 356.3h0M500.6 363.0h0M457.8 360.1h0M452.6 336.7h0M495.2 369.5h0M479.1 332.3h0M500.4 373.9h0M507.7 353.4h0M476.2 369.6h0M478.3 335.8h0M502.6 362.9h0M441.4 332.3h0M475.4 369.7h0M465.6 381.4h0M507.8 363.3h0M450.9 356.5h0M488.7 369.3h0M510.2 352.9h0M430.3 366.0h0M471.9 391.9h0M476.2 386.1h0M443.1 350.9h0M463.8 362.7h0M471.7 389.0h0M499.4 351.1h0M470.2 377.7h0M474.4 334.4h0M452.4 343.1h0M458.7 338.2h0M478.4 369.0h0M494.1 355.9h0M466.5 364.8h0M460.8 365.3h0M452.0 333.4h0M483.1 380.8h0M501.7 338.6h0M449.3 339.2h0M494.7 329.1h0M470.4 370.2h0M505.0 366.8h0M429.1 379.6h0M504.9 334.0h0M474.0 332.7h0M502.4 340.6h0M475.5 385.7h0M479.8 371.0h0M466.5 370.4h0M487.7 348.3h0M477.2 348.7h0M467.4 373.8h0M456.5 337.7h0M432.1 347.9h0M460.8 366.4h0M467.0 351.7h0M506.5 344.4h0M478.7 357.2h0M491.0 327.6h0M507.5 387.6h0M450.5 335.8h0M478.1 386.6h0M444.7 347.7h0M496.9 386.0h0M496.5 356.3h0M509.8 344.0h0M487.1 383.1h0M483.3 339.0h0M454.9 382.3h0M491.4 374.6h0M511.9 369.1h0M467.2 369.2h0" stroke-width="1.92" stroke-opacity="0.77"/></g><ellipse cx="485.25" cy="354" rx="20" ry="18" fill="url(#g43)"/></g></svg>
<svg width="520" height="400" viewBox="0 0 520 400">
<text x="93.0" y="30.5" font-size="9.5" stroke="#222" stroke-width="0.12" text-anchor="middle" textLength="53.2" lengthAdjust="spacingAndGlyphs" fill="#222">CFU-GEMM</text>
<rect x="66.00" y="109.15" width="13" height="61.85" fill="#c8102e"/>
<rect x="87.00" y="114.47" width="13" height="56.53" fill="#0b4a8b"/>
<rect x="108.00" y="114.47" width="13" height="56.53" fill="#35a8e0"/>
<path d="M72.50 73.69V143.05M68.50 73.69h8M68.50 143.05h8" stroke="#2a2a2a" stroke-width="1" fill="none"/>
<path d="M93.50 92.46V135.64M89.50 92.46h8M89.50 135.64h8" stroke="#2a2a2a" stroke-width="1" fill="none"/>
<path d="M114.50 78.17V149.10M110.50 78.17h8M110.50 149.10h8" stroke="#2a2a2a" stroke-width="1" fill="none"/>
<path d="M58.5 64.2V171.5H128.5" stroke="#222" stroke-width="1.1" fill="none"/>
<path d="M55.5 171.00H58.5" stroke="#222" stroke-width="1" fill="none"/>
<text x="52.7" y="173.10" font-size="8" text-anchor="end" fill="#222" stroke="#222" stroke-width="0.2">0</text>
<path d="M55.5 150.14H58.5" stroke="#222" stroke-width="1" fill="none"/>
<text x="52.7" y="152.24" font-size="8" text-anchor="end" fill="#222" stroke="#222" stroke-width="0.2">2</text>
<path d="M55.5 129.28H58.5" stroke="#222" stroke-width="1" fill="none"/>
<text x="52.7" y="131.38" font-size="8" text-anchor="end" fill="#222" stroke="#222" stroke-width="0.2">4</text>
<path d="M55.5 108.42H58.5" stroke="#222" stroke-width="1" fill="none"/>
<text x="52.7" y="110.52" font-size="8" text-anchor="end" fill="#222" stroke="#222" stroke-width="0.2">6</text>
<path d="M55.5 87.56H58.5" stroke="#222" stroke-width="1" fill="none"/>
<text x="52.7" y="89.66" font-size="8" text-anchor="end" fill="#222" stroke="#222" stroke-width="0.2">8</text>
<path d="M55.5 66.70H58.5" stroke="#222" stroke-width="1" fill="none"/>
<text x="52.7" y="68.80" font-size="8" text-anchor="end" fill="#222" stroke="#222" stroke-width="0.2">10</text>
<path d="M72.50 171.0V174.0" stroke="#222" stroke-width="1" fill="none"/>
<text x="75.40" y="180.8" font-size="7.9" text-anchor="end" stroke="#222" stroke-width="0.2" transform="rotate(-45 75.40 180.8)" fill="#222">Sg-Int</text>
<path d="M93.50 171.0V174.0" stroke="#222" stroke-width="1" fill="none"/>
<text x="96.40" y="180.8" font-size="7.9" text-anchor="end" stroke="#222" stroke-width="0.2" transform="rotate(-45 96.40 180.8)" fill="#222">sg1</text>
<path d="M114.50 171.0V174.0" stroke="#222" stroke-width="1" fill="none"/>
<text x="117.40" y="180.8" font-size="7.9" text-anchor="end" stroke="#222" stroke-width="0.2" transform="rotate(-45 117.40 180.8)" fill="#222">sg2</text>
<path d="M71.5 53.1V47.75H115.5V53.1" stroke="#333" stroke-width="1" fill="none"/>
<text x="93.6" y="42.5" font-size="8" text-anchor="middle" fill="#222">ns</text>
<path d="M72.0 69V63.5H100.0V69" stroke="#333" stroke-width="1" fill="none"/>
<text x="85.8" y="58.8" font-size="8" text-anchor="middle" fill="#222">ns</text>
<text x="187.0" y="30.5" font-size="9.5" stroke="#222" stroke-width="0.12" text-anchor="middle" textLength="38.6" lengthAdjust="spacingAndGlyphs" fill="#222">CFU-GM</text>
<rect x="160.00" y="109.25" width="13" height="61.75" fill="#c8102e"/>
<rect x="181.00" y="103.83" width="13" height="67.17" fill="#0b4a8b"/>
<rect x="202.00" y="105.92" width="13" height="65.08" fill="#35a8e0"/>
<path d="M166.50 103.00V114.26M162.50 103.00h8M162.50 114.26h8" stroke="#2a2a2a" stroke-width="1" fill="none"/>
<path d="M187.50 88.81V118.02M183.50 88.81h8M183.50 118.02h8" stroke="#2a2a2a" stroke-width="1" fill="none"/>
<path d="M208.50 97.16V113.43M204.50 97.16h8M204.50 113.43h8" stroke="#2a2a2a" stroke-width="1" fill="none"/>
<path d="M152.5 64.2V171.5H222.5" stroke="#222" stroke-width="1.1" fill="none"/>
<path d="M149.5 171.00H152.5" stroke="#222" stroke-width="1" fill="none"/>
<text x="146.7" y="173.10" font-size="8" text-anchor="end" fill="#222" stroke="#222" stroke-width="0.2">0</text>
<path d="M149.5 150.14H152.5" stroke="#222" stroke-width="1" fill="none"/>
<text x="146.7" y="152.24" font-size="8" text-anchor="end" fill="#222" stroke="#222" stroke-width="0.2">5</text>
<path d="M149.5 129.28H152.5" stroke="#222" stroke-width="1" fill="none"/>
<text x="146.7" y="131.38" font-size="8" text-anchor="end" fill="#222" stroke="#222" stroke-width="0.2">10</text>
<path d="M149.5 108.42H152.5" stroke="#222" stroke-width="1" fill="none"/>
<text x="146.7" y="110.52" font-size="8" text-anchor="end" fill="#222" stroke="#222" stroke-width="0.2">15</text>
<path d="M149.5 87.56H152.5" stroke="#222" stroke-width="1" fill="none"/>
<text x="146.7" y="89.66" font-size="8" text-anchor="end" fill="#222" stroke="#222" stroke-width="0.2">20</text>
<path d="M149.5 66.70H152.5" stroke="#222" stroke-width="1" fill="none"/>
<text x="146.7" y="68.80" font-size="8" text-anchor="end" fill="#222" stroke="#222" stroke-width="0.2">25</text>
<path d="M166.50 171.0V174.0" stroke="#222" stroke-width="1" fill="none"/>
<text x="169.40" y="180.8" font-size="7.9" text-anchor="end" stroke="#222" stroke-width="0.2" transform="rotate(-45 169.40 180.8)" fill="#222">Sg-Int</text>
<path d="M187.50 171.0V174.0" stroke="#222" stroke-width="1" fill="none"/>
<text x="190.40" y="180.8" font-size="7.9" text-anchor="end" stroke="#222" stroke-width="0.2" transform="rotate(-45 190.40 180.8)" fill="#222">sg1</text>
<path d="M208.50 171.0V174.0" stroke="#222" stroke-width="1" fill="none"/>
<text x="211.40" y="180.8" font-size="7.9" text-anchor="end" stroke="#222" stroke-width="0.2" transform="rotate(-45 211.40 180.8)" fill="#222">sg2</text>
<path d="M164.3 67.75V62.5H208.7V70.6" stroke="#333" stroke-width="1" fill="none"/>
<text x="186.5" y="57.5" font-size="8" text-anchor="middle" fill="#222">ns</text>
<path d="M164.3 84.4V78.5H187.5V84.75" stroke="#333" stroke-width="1" fill="none"/>
<text x="176.0" y="73.5" font-size="8" text-anchor="middle" fill="#222">ns</text>
<text x="280.8" y="30.5" font-size="9.5" stroke="#222" stroke-width="0.12" text-anchor="middle" textLength="30.8" lengthAdjust="spacingAndGlyphs" fill="#222">CFU-M</text>
<rect x="253.80" y="112.07" width="13" height="58.93" fill="#c8102e"/>
<rect x="274.80" y="121.46" width="13" height="49.54" fill="#0b4a8b"/>
<rect x="295.80" y="127.98" width="13" height="43.02" fill="#35a8e0"/>
<path d="M260.30 92.78V129.80M256.30 92.78h8M256.30 129.80h8" stroke="#2a2a2a" stroke-width="1" fill="none"/>
<path d="M281.30 108.42V132.15M277.30 108.42h8M277.30 132.15h8" stroke="#2a2a2a" stroke-width="1" fill="none"/>
<path d="M302.30 115.72V138.41M298.30 115.72h8M298.30 138.41h8" stroke="#2a2a2a" stroke-width="1" fill="none"/>
<path d="M246.5 64.2V171.5H316.5" stroke="#222" stroke-width="1.1" fill="none"/>
<path d="M243.5 171.00H246.5" stroke="#222" stroke-width="1" fill="none"/>
<text x="240.7" y="173.10" font-size="8" text-anchor="end" fill="#222" stroke="#222" stroke-width="0.2">0</text>
<path d="M243.5 144.93H246.5" stroke="#222" stroke-width="1" fill="none"/>
<text x="240.7" y="147.03" font-size="8" text-anchor="end" fill="#222" stroke="#222" stroke-width="0.2">10</text>
<path d="M243.5 118.85H246.5" stroke="#222" stroke-width="1" fill="none"/>
<text x="240.7" y="120.95" font-size="8" text-anchor="end" fill="#222" stroke="#222" stroke-width="0.2">20</text>
<path d="M243.5 92.78H246.5" stroke="#222" stroke-width="1" fill="none"/>
<text x="240.7" y="94.88" font-size="8" text-anchor="end" fill="#222" stroke="#222" stroke-width="0.2">30</text>
<path d="M243.5 66.70H246.5" stroke="#222" stroke-width="1" fill="none"/>
<text x="240.7" y="68.80" font-size="8" text-anchor="end" fill="#222" stroke="#222" stroke-width="0.2">40</text>
<path d="M260.30 171.0V174.0" stroke="#222" stroke-width="1" fill="none"/>
<text x="263.20" y="180.8" font-size="7.9" text-anchor="end" stroke="#222" stroke-width="0.2" transform="rotate(-45 263.20 180.8)" fill="#222">Sg-Int</text>
<path d="M281.30 171.0V174.0" stroke="#222" stroke-width="1" fill="none"/>
<text x="284.20" y="180.8" font-size="7.9" text-anchor="end" stroke="#222" stroke-width="0.2" transform="rotate(-45 284.20 180.8)" fill="#222">sg1</text>
<path d="M302.30 171.0V174.0" stroke="#222" stroke-width="1" fill="none"/>
<text x="305.20" y="180.8" font-size="7.9" text-anchor="end" stroke="#222" stroke-width="0.2" transform="rotate(-45 305.20 180.8)" fill="#222">sg2</text>
<path d="M257.5 71.5V66.5H302.4V74.4" stroke="#333" stroke-width="1" fill="none"/>
<text x="279.9" y="61.5" font-size="8" text-anchor="middle" fill="#222">ns</text>
<path d="M257.5 87.75V82.75H282.7V87.75" stroke="#333" stroke-width="1" fill="none"/>
<text x="270.3" y="77.5" font-size="8" text-anchor="middle" fill="#222">ns</text>
<text x="374.4" y="30.5" font-size="9.5" stroke="#222" stroke-width="0.12" text-anchor="middle" textLength="29.5" lengthAdjust="spacingAndGlyphs" fill="#222">CFU-G</text>
<rect x="347.50" y="118.33" width="13" height="52.67" fill="#c8102e"/>
<rect x="368.50" y="115.72" width="13" height="55.28" fill="#0b4a8b"/>
<rect x="389.50" y="120.94" width="13" height="50.06" fill="#35a8e0"/>
<path d="M354.00 96.43V139.71M350.00 96.43h8M350.00 139.71h8" stroke="#2a2a2a" stroke-width="1" fill="none"/>
<path d="M375.00 99.55V130.84M371.00 99.55h8M371.00 130.84h8" stroke="#2a2a2a" stroke-width="1" fill="none"/>
<path d="M396.00 105.81V134.50M392.00 105.81h8M392.00 134.50h8" stroke="#2a2a2a" stroke-width="1" fill="none"/>
<path d="M340.5 64.2V171.5H410.5" stroke="#222" stroke-width="1.1" fill="none"/>
<path d="M337.5 171.00H340.5" stroke="#222" stroke-width="1" fill="none"/>
<text x="334.7" y="173.10" font-size="8" text-anchor="end" fill="#222" stroke="#222" stroke-width="0.2">0</text>
<path d="M337.5 144.93H340.5" stroke="#222" stroke-width="1" fill="none"/>
<text x="334.7" y="147.03" font-size="8" text-anchor="end" fill="#222" stroke="#222" stroke-width="0.2">5</text>
<path d="M337.5 118.85H340.5" stroke="#222" stroke-width="1" fill="none"/>
<text x="334.7" y="120.95" font-size="8" text-anchor="end" fill="#222" stroke="#222" stroke-width="0.2">10</text>
<path d="M337.5 92.78H340.5" stroke="#222" stroke-width="1" fill="none"/>
<text x="334.7" y="94.88" font-size="8" text-anchor="end" fill="#222" stroke="#222" stroke-width="0.2">15</text>
<path d="M337.5 66.70H340.5" stroke="#222" stroke-width="1" fill="none"/>
<text x="334.7" y="68.80" font-size="8" text-anchor="end" fill="#222" stroke="#222" stroke-width="0.2">20</text>
<path d="M354.00 171.0V174.0" stroke="#222" stroke-width="1" fill="none"/>
<text x="356.90" y="180.8" font-size="7.9" text-anchor="end" stroke="#222" stroke-width="0.2" transform="rotate(-45 356.90 180.8)" fill="#222">Sg-Int</text>
<path d="M375.00 171.0V174.0" stroke="#222" stroke-width="1" fill="none"/>
<text x="377.90" y="180.8" font-size="7.9" text-anchor="end" stroke="#222" stroke-width="0.2" transform="rotate(-45 377.90 180.8)" fill="#222">sg1</text>
<path d="M396.00 171.0V174.0" stroke="#222" stroke-width="1" fill="none"/>
<text x="398.90" y="180.8" font-size="7.9" text-anchor="end" stroke="#222" stroke-width="0.2" transform="rotate(-45 398.90 180.8)" fill="#222">sg2</text>
<path d="M351.5 71.5V66.25H396.0V74" stroke="#333" stroke-width="1" fill="none"/>
<text x="373.8" y="61.5" font-size="8" text-anchor="middle" fill="#222">ns</text>
<path d="M352.0 87.5V82.75H375.6V87.5" stroke="#333" stroke-width="1" fill="none"/>
<text x="364.0" y="77.5" font-size="8" text-anchor="middle" fill="#222">ns</text>
<text x="463.9" y="30.5" font-size="9.5" stroke="#222" stroke-width="0.12" text-anchor="middle" textLength="26.8" lengthAdjust="spacingAndGlyphs" fill="#222">BFU-E</text>
<rect x="437.20" y="93.12" width="13" height="77.88" fill="#c8102e"/>
<rect x="458.20" y="136.93" width="13" height="34.07" fill="#0b4a8b"/>
<rect x="479.20" y="145.62" width="13" height="25.38" fill="#35a8e0"/>
<path d="M443.70 75.04V110.16M439.70 75.04h8M439.70 110.16h8" stroke="#2a2a2a" stroke-width="1" fill="none"/>
<path d="M464.70 107.38V164.39M460.70 107.38h8M460.70 164.39h8" stroke="#2a2a2a" stroke-width="1" fill="none"/>
<path d="M485.70 111.90V171.00M481.70 111.90h8M481.70 171.00h8" stroke="#2a2a2a" stroke-width="1" fill="none"/>
<path d="M429.5 64.2V171.5H499.5" stroke="#222" stroke-width="1.1" fill="none"/>
<path d="M426.5 171.00H429.5" stroke="#222" stroke-width="1" fill="none"/>
<text x="423.7" y="173.10" font-size="8" text-anchor="end" fill="#222" stroke="#222" stroke-width="0.2">0</text>
<path d="M426.5 136.23H429.5" stroke="#222" stroke-width="1" fill="none"/>
<text x="423.7" y="138.33" font-size="8" text-anchor="end" fill="#222" stroke="#222" stroke-width="0.2">1</text>
<path d="M426.5 101.47H429.5" stroke="#222" stroke-width="1" fill="none"/>
<text x="423.7" y="103.57" font-size="8" text-anchor="end" fill="#222" stroke="#222" stroke-width="0.2">2</text>
<path d="M426.5 66.70H429.5" stroke="#222" stroke-width="1" fill="none"/>
<text x="423.7" y="68.80" font-size="8" text-anchor="end" fill="#222" stroke="#222" stroke-width="0.2">3</text>
<path d="M443.70 171.0V174.0" stroke="#222" stroke-width="1" fill="none"/>
<text x="446.60" y="180.8" font-size="7.9" text-anchor="end" stroke="#222" stroke-width="0.2" transform="rotate(-45 446.60 180.8)" fill="#222">Sg-Int</text>
<path d="M464.70 171.0V174.0" stroke="#222" stroke-width="1" fill="none"/>
<text x="467.60" y="180.8" font-size="7.9" text-anchor="end" stroke="#222" stroke-width="0.2" transform="rotate(-45 467.60 180.8)" fill="#222">sg1</text>
<path d="M485.70 171.0V174.0" stroke="#222" stroke-width="1" fill="none"/>
<text x="488.60" y="180.8" font-size="7.9" text-anchor="end" stroke="#222" stroke-width="0.2" transform="rotate(-45 488.60 180.8)" fill="#222">sg2</text>
<path d="M443.3 59.4V53.75H485.5V59.4" stroke="#333" stroke-width="1" fill="none"/>
<text x="464.1" y="53.0" font-size="9" text-anchor="middle" fill="#222">*</text>
<path d="M443.3 73.5V68.1H466.0V73.5" stroke="#333" stroke-width="1" fill="none"/>
<text x="454.4" y="67.2" font-size="9" text-anchor="middle" fill="#222">*</text>
<text x="0" y="0" font-size="9" stroke="#222" stroke-width="0.15" text-anchor="middle" textLength="85" lengthAdjust="spacingAndGlyphs" transform="translate(38.2 117.3) rotate(-90)" fill="#222">Colonies per 10,000 cells</text>
<rect x="195.1" y="202.9" width="9" height="8.8" fill="#c8102e"/>
<text x="206.6" y="209.9" font-size="8.2" stroke="#222" stroke-width="0.12" textLength="43.8" lengthAdjust="spacingAndGlyphs" fill="#222">Sgf29_Sg-Int</text>
<rect x="259.2" y="202.9" width="9" height="8.8" fill="#0b4a8b"/>
<text x="270.8" y="209.9" font-size="8.2" stroke="#222" stroke-width="0.12" textLength="35.0" lengthAdjust="spacingAndGlyphs" fill="#222">Sgf29_sg1</text>
<rect x="315.5" y="202.9" width="9" height="8.8" fill="#35a8e0"/>
<text x="327.3" y="209.9" font-size="8.2" stroke="#222" stroke-width="0.12" textLength="35.4" lengthAdjust="spacingAndGlyphs" fill="#222">Sgf29_sg2</text>
<text x="20.7" y="16.4" font-size="11.8" font-weight="bold" fill="#111" stroke="#111" stroke-width="0.35">J</text>
<text x="7.3" y="237" font-size="11" font-weight="bold" fill="#111" stroke="#111" stroke-width="0.35">K</text>
<text x="80.00" y="251.1" font-size="10" text-anchor="middle" fill="#222" stroke="#222" stroke-width="0.3">1</text>
<text x="178.12" y="251.1" font-size="10" text-anchor="middle" fill="#222" stroke="#222" stroke-width="0.3">2</text>
<text x="274.00" y="251.1" font-size="10" text-anchor="middle" fill="#222" stroke="#222" stroke-width="0.3">3</text>
<text x="369.50" y="251.1" font-size="10" text-anchor="middle" fill="#222" stroke="#222" stroke-width="0.3">4</text>
<text x="466.12" y="251.1" font-size="10" text-anchor="middle" fill="#222" stroke="#222" stroke-width="0.3">5</text>
<text x="0" y="0" font-size="8.6" text-anchor="middle" textLength="42.8" lengthAdjust="spacingAndGlyphs" transform="translate(26.6 288.2) rotate(-90)" fill="#b82e46">Sgf29-sg-Int</text>
<text x="0" y="0" font-size="8.6" text-anchor="middle" textLength="35.2" lengthAdjust="spacingAndGlyphs" transform="translate(26.6 359.3) rotate(-90)" fill="#2f679c">Sgf29-sg1</text>
</svg>
<div id="bord"></div>
</div></body></html>
